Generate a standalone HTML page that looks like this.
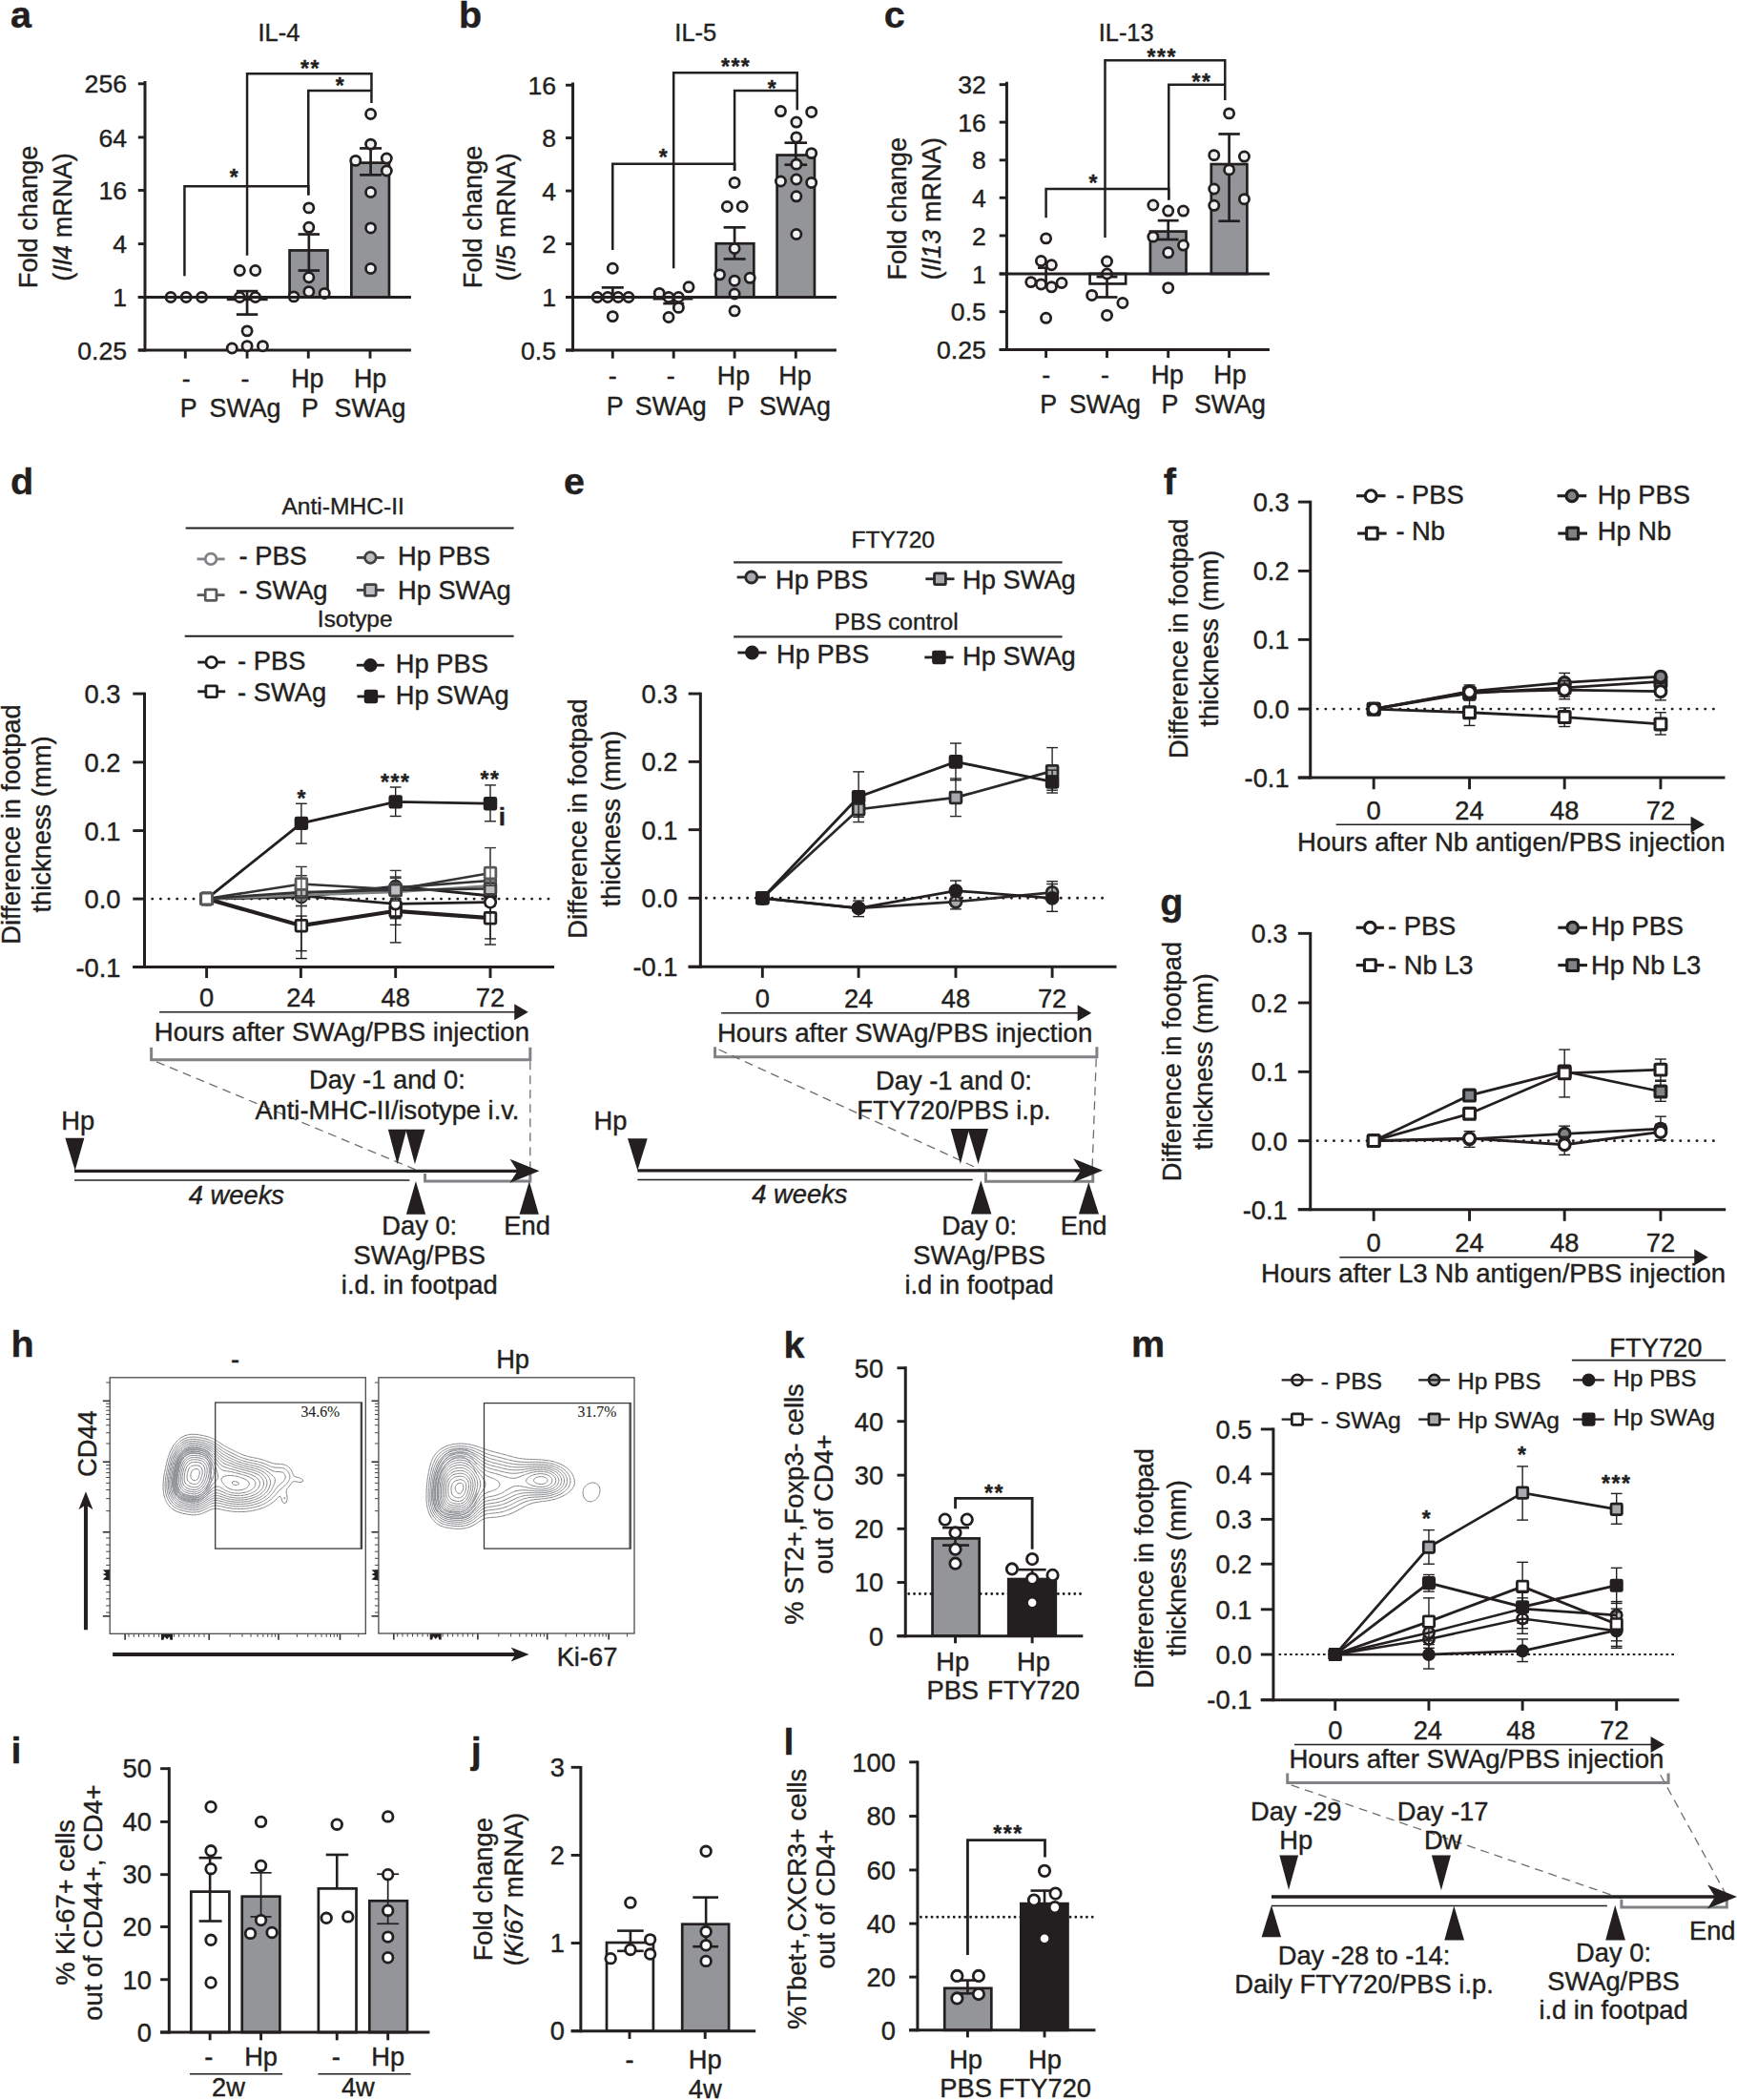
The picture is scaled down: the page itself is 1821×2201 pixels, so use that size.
<!DOCTYPE html>
<html><head><meta charset="utf-8"><title>Figure</title>
<style>
html,body{margin:0;padding:0;background:#fff}
svg{display:block}
text{font-family:"Liberation Sans",Arial,Helvetica,sans-serif;fill:#231f20;stroke:#231f20;stroke-width:.4px;stroke-linejoin:round}
</style></head><body>
<svg width="1821" height="2201" viewBox="0 0 1821 2201">
<rect x="0" y="0" width="1821" height="2201" fill="#fff"/>
<text x="10.94" y="28.79" font-size="39.5" font-weight="bold">a</text>
<text x="292.46" y="43.18" font-size="25.4" text-anchor="middle">IL-4</text>
<rect x="239.12" y="311.46" width="40.19" height="2.39" stroke="#231f20" stroke-width="2.7" fill="#fff" />
<rect x="303.6" y="262.43" width="39.9" height="49.03" stroke="#231f20" stroke-width="2.7" fill="#939598" />
<rect x="368.36" y="170.61" width="39.62" height="140.85" stroke="#231f20" stroke-width="2.7" fill="#939598" />
<line x1="151.99" y1="84.96" x2="151.99" y2="368.51" stroke="#231f20" stroke-width="3" />
<line x1="144.79" y1="87.8" x2="151.99" y2="87.8" stroke="#231f20" stroke-width="2.9" />
<text x="132.99" y="97.4" font-size="26.6" text-anchor="end">256</text>
<line x1="144.79" y1="143.93" x2="151.99" y2="143.93" stroke="#231f20" stroke-width="2.9" />
<text x="132.99" y="153.53" font-size="26.6" text-anchor="end">64</text>
<line x1="144.79" y1="199.48" x2="151.99" y2="199.48" stroke="#231f20" stroke-width="2.9" />
<text x="132.99" y="209.08" font-size="26.6" text-anchor="end">16</text>
<line x1="144.79" y1="255.61" x2="151.99" y2="255.61" stroke="#231f20" stroke-width="2.9" />
<text x="132.99" y="265.21" font-size="26.6" text-anchor="end">4</text>
<line x1="144.79" y1="311.46" x2="151.99" y2="311.46" stroke="#231f20" stroke-width="2.9" />
<text x="132.99" y="321.06" font-size="26.6" text-anchor="end">1</text>
<line x1="144.79" y1="367.01" x2="151.99" y2="367.01" stroke="#231f20" stroke-width="2.9" />
<text x="132.99" y="376.61" font-size="26.6" text-anchor="end">0.25</text>
<line x1="144.79" y1="367.01" x2="430.92" y2="367.01" stroke="#231f20" stroke-width="3" />
<line x1="194.3" y1="367.01" x2="194.3" y2="375.65" stroke="#231f20" stroke-width="2.9" />
<line x1="259.07" y1="367.01" x2="259.07" y2="375.65" stroke="#231f20" stroke-width="2.9" />
<line x1="323.26" y1="367.01" x2="323.26" y2="375.65" stroke="#231f20" stroke-width="2.9" />
<line x1="388.03" y1="367.01" x2="388.03" y2="375.65" stroke="#231f20" stroke-width="2.9" />
<line x1="259.07" y1="305.12" x2="259.07" y2="329.59" stroke="#231f20" stroke-width="2.7" />
<line x1="247.84" y1="305.12" x2="270.3" y2="305.12" stroke="#231f20" stroke-width="2.7" />
<line x1="247.84" y1="329.59" x2="270.3" y2="329.59" stroke="#231f20" stroke-width="2.7" />
<line x1="323.83" y1="245.54" x2="323.83" y2="283.53" stroke="#231f20" stroke-width="2.7" />
<line x1="312.6" y1="245.54" x2="335.06" y2="245.54" stroke="#231f20" stroke-width="2.7" />
<line x1="312.6" y1="283.53" x2="335.06" y2="283.53" stroke="#231f20" stroke-width="2.7" />
<line x1="388.6" y1="155.44" x2="388.6" y2="183.36" stroke="#231f20" stroke-width="2.7" />
<line x1="377.09" y1="155.44" x2="400.11" y2="155.44" stroke="#231f20" stroke-width="2.7" />
<line x1="377.09" y1="183.36" x2="400.11" y2="183.36" stroke="#231f20" stroke-width="2.7" />
<circle cx="179.04" cy="311.46" r="5.1" stroke="#231f20" stroke-width="2.75" fill="#f1f1f2"/>
<circle cx="195.16" cy="311.46" r="5.1" stroke="#231f20" stroke-width="2.75" fill="#f1f1f2"/>
<circle cx="211.57" cy="311.46" r="5.1" stroke="#231f20" stroke-width="2.75" fill="#f1f1f2"/>
<circle cx="251.3" cy="283.53" r="5.1" stroke="#231f20" stroke-width="2.75" fill="#f1f1f2"/>
<circle cx="267.7" cy="283.53" r="5.1" stroke="#231f20" stroke-width="2.75" fill="#f1f1f2"/>
<circle cx="251.3" cy="311.46" r="5.1" stroke="#231f20" stroke-width="2.75" fill="#f1f1f2"/>
<circle cx="267.7" cy="311.46" r="5.1" stroke="#231f20" stroke-width="2.75" fill="#f1f1f2"/>
<circle cx="259.07" cy="346.86" r="5.1" stroke="#231f20" stroke-width="2.75" fill="#f1f1f2"/>
<circle cx="243.24" cy="365" r="5.1" stroke="#231f20" stroke-width="2.75" fill="#f1f1f2"/>
<circle cx="259.07" cy="362.69" r="5.1" stroke="#231f20" stroke-width="2.75" fill="#f1f1f2"/>
<circle cx="275.47" cy="362.69" r="5.1" stroke="#231f20" stroke-width="2.75" fill="#f1f1f2"/>
<circle cx="323.83" cy="217.9" r="5.1" stroke="#231f20" stroke-width="2.75" fill="#f1f1f2"/>
<circle cx="323.83" cy="238.34" r="5.1" stroke="#231f20" stroke-width="2.75" fill="#f1f1f2"/>
<circle cx="323.83" cy="290.73" r="5.1" stroke="#231f20" stroke-width="2.75" fill="#f1f1f2"/>
<circle cx="308" cy="310.88" r="5.1" stroke="#231f20" stroke-width="2.75" fill="#f1f1f2"/>
<circle cx="323.83" cy="305.7" r="5.1" stroke="#231f20" stroke-width="2.75" fill="#f1f1f2"/>
<circle cx="340.24" cy="307.43" r="5.1" stroke="#231f20" stroke-width="2.75" fill="#f1f1f2"/>
<circle cx="388.6" cy="119.46" r="5.1" stroke="#231f20" stroke-width="2.75" fill="#f1f1f2"/>
<circle cx="388.6" cy="151.12" r="5.1" stroke="#231f20" stroke-width="2.75" fill="#f1f1f2"/>
<circle cx="372.77" cy="168.39" r="5.1" stroke="#231f20" stroke-width="2.75" fill="#f1f1f2"/>
<circle cx="405.3" cy="166.09" r="5.1" stroke="#231f20" stroke-width="2.75" fill="#f1f1f2"/>
<circle cx="405.3" cy="179.04" r="5.1" stroke="#231f20" stroke-width="2.75" fill="#f1f1f2"/>
<circle cx="388.6" cy="201.5" r="5.1" stroke="#231f20" stroke-width="2.75" fill="#f1f1f2"/>
<circle cx="388.6" cy="238.92" r="5.1" stroke="#231f20" stroke-width="2.75" fill="#f1f1f2"/>
<circle cx="388.6" cy="281.52" r="5.1" stroke="#231f20" stroke-width="2.75" fill="#f1f1f2"/>
<line x1="144.79" y1="311.46" x2="430.92" y2="311.46" stroke="#231f20" stroke-width="3" />
<polyline points="193.44,289.29 193.44,195.16 323.26,195.16 323.26,204.38" stroke="#231f20" stroke-width="2.5" fill="none" />
<polyline points="259.07,267.7 259.07,77.14 389.46,77.14 389.46,107.94" stroke="#231f20" stroke-width="2.5" fill="none" />
<polyline points="323.26,204.38 323.26,94.99 389.46,94.99 389.46,94.99" stroke="#231f20" stroke-width="2.5" fill="none" />
<text x="245.95" y="193.59" font-size="23" text-anchor="middle" font-weight="bold" style="font-family:'Liberation Sans',Arial,sans-serif;letter-spacing:1.5px">*</text>
<text x="325.4" y="80.18" font-size="23" text-anchor="middle" font-weight="bold" style="font-family:'Liberation Sans',Arial,sans-serif;letter-spacing:1.5px">**</text>
<text x="357.06" y="98.03" font-size="23" text-anchor="middle" font-weight="bold" style="font-family:'Liberation Sans',Arial,sans-serif;letter-spacing:1.5px">*</text>
<text x="38.86" y="227.4" font-size="27.2" text-anchor="middle" transform="rotate(-90 38.86 227.4)">Fold change</text>
<text x="75.42" y="227.4" font-size="27.2" text-anchor="middle" transform="rotate(-90 75.42 227.4)">(<tspan font-style="italic">Il4</tspan> mRNA)</text>
<text x="195.16" y="405.87" font-size="26.8" text-anchor="middle">-</text>
<text x="257.05" y="405.87" font-size="26.8" text-anchor="middle">-</text>
<text x="322.39" y="405.87" font-size="26.8" text-anchor="middle">Hp</text>
<text x="388.03" y="405.87" font-size="26.8" text-anchor="middle">Hp</text>
<text x="197.66" y="436.96" font-size="26.8" text-anchor="middle">P</text>
<text x="257.05" y="436.96" font-size="26.8" text-anchor="middle">SWAg</text>
<text x="324.89" y="436.96" font-size="26.8" text-anchor="middle">P</text>
<text x="388.03" y="436.96" font-size="26.8" text-anchor="middle">SWAg</text>
<text x="481.09" y="28.79" font-size="39.5" font-weight="bold">b</text>
<text x="729.22" y="43.18" font-size="25.4" text-anchor="middle">IL-5</text>
<rect x="750.72" y="255.24" width="39.61" height="56.22" stroke="#231f20" stroke-width="2.7" fill="#939598" />
<rect x="814.62" y="162.55" width="39.33" height="148.91" stroke="#231f20" stroke-width="2.7" fill="#939598" />
<line x1="600.55" y1="86.4" x2="600.55" y2="368.51" stroke="#231f20" stroke-width="3" />
<line x1="593.06" y1="89.23" x2="600.55" y2="89.23" stroke="#231f20" stroke-width="2.9" />
<text x="582.99" y="98.83" font-size="26.6" text-anchor="end">16</text>
<line x1="593.06" y1="144.5" x2="600.55" y2="144.5" stroke="#231f20" stroke-width="2.9" />
<text x="582.99" y="154.1" font-size="26.6" text-anchor="end">8</text>
<line x1="593.06" y1="200.06" x2="600.55" y2="200.06" stroke="#231f20" stroke-width="2.9" />
<text x="582.99" y="209.66" font-size="26.6" text-anchor="end">4</text>
<line x1="593.06" y1="255.61" x2="600.55" y2="255.61" stroke="#231f20" stroke-width="2.9" />
<text x="582.99" y="265.21" font-size="26.6" text-anchor="end">2</text>
<line x1="593.06" y1="311.46" x2="600.55" y2="311.46" stroke="#231f20" stroke-width="2.9" />
<text x="582.99" y="321.06" font-size="26.6" text-anchor="end">1</text>
<line x1="593.06" y1="367.01" x2="600.55" y2="367.01" stroke="#231f20" stroke-width="2.9" />
<text x="582.99" y="376.61" font-size="26.6" text-anchor="end">0.5</text>
<line x1="593.06" y1="367.01" x2="876.89" y2="367.01" stroke="#231f20" stroke-width="3" />
<line x1="642.29" y1="367.01" x2="642.29" y2="375.65" stroke="#231f20" stroke-width="2.9" />
<line x1="706.19" y1="367.01" x2="706.19" y2="375.65" stroke="#231f20" stroke-width="2.9" />
<line x1="770.09" y1="367.01" x2="770.09" y2="375.65" stroke="#231f20" stroke-width="2.9" />
<line x1="834.28" y1="367.01" x2="834.28" y2="375.65" stroke="#231f20" stroke-width="2.9" />
<line x1="642.29" y1="301.38" x2="642.29" y2="311.46" stroke="#231f20" stroke-width="2.7" />
<line x1="630.78" y1="301.38" x2="653.8" y2="301.38" stroke="#231f20" stroke-width="2.7" />
<line x1="630.78" y1="311.46" x2="653.8" y2="311.46" stroke="#231f20" stroke-width="2.7" />
<line x1="706.19" y1="312.32" x2="706.19" y2="318.08" stroke="#231f20" stroke-width="2.7" />
<line x1="695.25" y1="312.32" x2="717.13" y2="312.32" stroke="#231f20" stroke-width="2.7" />
<line x1="695.25" y1="318.08" x2="717.13" y2="318.08" stroke="#231f20" stroke-width="2.7" />
<line x1="770.09" y1="238.34" x2="770.09" y2="271.45" stroke="#231f20" stroke-width="2.7" />
<line x1="758.58" y1="238.34" x2="781.6" y2="238.34" stroke="#231f20" stroke-width="2.7" />
<line x1="758.58" y1="271.45" x2="781.6" y2="271.45" stroke="#231f20" stroke-width="2.7" />
<line x1="834.28" y1="149.68" x2="834.28" y2="172.71" stroke="#231f20" stroke-width="2.7" />
<line x1="822.48" y1="149.68" x2="846.08" y2="149.68" stroke="#231f20" stroke-width="2.7" />
<line x1="822.48" y1="172.71" x2="846.08" y2="172.71" stroke="#231f20" stroke-width="2.7" />
<line x1="684.6" y1="313.18" x2="726.34" y2="313.18" stroke="#231f20" stroke-width="2.7" />
<circle cx="626.17" cy="311.46" r="5.1" stroke="#231f20" stroke-width="2.75" fill="#f1f1f2"/>
<circle cx="637.1" cy="311.46" r="5.1" stroke="#231f20" stroke-width="2.75" fill="#f1f1f2"/>
<circle cx="648.04" cy="311.46" r="5.1" stroke="#231f20" stroke-width="2.75" fill="#f1f1f2"/>
<circle cx="658.98" cy="311.46" r="5.1" stroke="#231f20" stroke-width="2.75" fill="#f1f1f2"/>
<circle cx="642.29" cy="281.23" r="5.1" stroke="#231f20" stroke-width="2.75" fill="#f1f1f2"/>
<circle cx="642.29" cy="331.61" r="5.1" stroke="#231f20" stroke-width="2.75" fill="#f1f1f2"/>
<circle cx="691.22" cy="307.43" r="5.1" stroke="#231f20" stroke-width="2.75" fill="#f1f1f2"/>
<circle cx="701.01" cy="311.46" r="5.1" stroke="#231f20" stroke-width="2.75" fill="#f1f1f2"/>
<circle cx="711.37" cy="311.46" r="5.1" stroke="#231f20" stroke-width="2.75" fill="#f1f1f2"/>
<circle cx="722.02" cy="300.81" r="5.1" stroke="#231f20" stroke-width="2.75" fill="#f1f1f2"/>
<circle cx="711.37" cy="322.39" r="5.1" stroke="#231f20" stroke-width="2.75" fill="#f1f1f2"/>
<circle cx="701.01" cy="332.47" r="5.1" stroke="#231f20" stroke-width="2.75" fill="#f1f1f2"/>
<circle cx="770.09" cy="191.42" r="5.1" stroke="#231f20" stroke-width="2.75" fill="#f1f1f2"/>
<circle cx="762.32" cy="216.47" r="5.1" stroke="#231f20" stroke-width="2.75" fill="#f1f1f2"/>
<circle cx="778.15" cy="216.47" r="5.1" stroke="#231f20" stroke-width="2.75" fill="#f1f1f2"/>
<circle cx="770.09" cy="260.51" r="5.1" stroke="#231f20" stroke-width="2.75" fill="#f1f1f2"/>
<circle cx="754.55" cy="287.85" r="5.1" stroke="#231f20" stroke-width="2.75" fill="#f1f1f2"/>
<circle cx="786.21" cy="291.31" r="5.1" stroke="#231f20" stroke-width="2.75" fill="#f1f1f2"/>
<circle cx="770.09" cy="294.19" r="5.1" stroke="#231f20" stroke-width="2.75" fill="#f1f1f2"/>
<circle cx="770.09" cy="308" r="5.1" stroke="#231f20" stroke-width="2.75" fill="#f1f1f2"/>
<circle cx="770.09" cy="325.85" r="5.1" stroke="#231f20" stroke-width="2.75" fill="#f1f1f2"/>
<circle cx="818.45" cy="116.58" r="5.1" stroke="#231f20" stroke-width="2.75" fill="#f1f1f2"/>
<circle cx="850.69" cy="117.44" r="5.1" stroke="#231f20" stroke-width="2.75" fill="#f1f1f2"/>
<circle cx="834.86" cy="128.09" r="5.1" stroke="#231f20" stroke-width="2.75" fill="#f1f1f2"/>
<circle cx="834.86" cy="143.93" r="5.1" stroke="#231f20" stroke-width="2.75" fill="#f1f1f2"/>
<circle cx="850.69" cy="160.62" r="5.1" stroke="#231f20" stroke-width="2.75" fill="#f1f1f2"/>
<circle cx="834.86" cy="172.14" r="5.1" stroke="#231f20" stroke-width="2.75" fill="#f1f1f2"/>
<circle cx="818.45" cy="189.98" r="5.1" stroke="#231f20" stroke-width="2.75" fill="#f1f1f2"/>
<circle cx="834.86" cy="187.97" r="5.1" stroke="#231f20" stroke-width="2.75" fill="#f1f1f2"/>
<circle cx="850.69" cy="191.42" r="5.1" stroke="#231f20" stroke-width="2.75" fill="#f1f1f2"/>
<circle cx="834.86" cy="205.81" r="5.1" stroke="#231f20" stroke-width="2.75" fill="#f1f1f2"/>
<circle cx="834.86" cy="245.54" r="5.1" stroke="#231f20" stroke-width="2.75" fill="#f1f1f2"/>
<line x1="593.06" y1="311.46" x2="876.89" y2="311.46" stroke="#231f20" stroke-width="3" />
<polyline points="642.29,261.95 642.29,171.85 770.09,171.85 770.09,179.04" stroke="#231f20" stroke-width="2.5" fill="none" />
<polyline points="706.19,281.23 706.19,76.28 835.72,76.28 835.72,115.14" stroke="#231f20" stroke-width="2.5" fill="none" />
<polyline points="770.09,179.04 770.09,94.99 835.72,94.99 835.72,94.99" stroke="#231f20" stroke-width="2.5" fill="none" />
<text x="695.95" y="172.87" font-size="23" text-anchor="middle" font-weight="bold" style="font-family:'Liberation Sans',Arial,sans-serif;letter-spacing:1.5px">*</text>
<text x="771.66" y="77.88" font-size="23" text-anchor="middle" font-weight="bold" style="font-family:'Liberation Sans',Arial,sans-serif;letter-spacing:1.5px">***</text>
<text x="809.94" y="100.9" font-size="23" text-anchor="middle" font-weight="bold" style="font-family:'Liberation Sans',Arial,sans-serif;letter-spacing:1.5px">*</text>
<text x="504.69" y="227.4" font-size="27.2" text-anchor="middle" transform="rotate(-90 504.69 227.4)">Fold change</text>
<text x="539.81" y="227.4" font-size="27.2" text-anchor="middle" transform="rotate(-90 539.81 227.4)">(<tspan font-style="italic">Il5</tspan> mRNA)</text>
<text x="642.29" y="402.99" font-size="26.8" text-anchor="middle">-</text>
<text x="703.31" y="402.99" font-size="26.8" text-anchor="middle">-</text>
<text x="768.94" y="402.99" font-size="26.8" text-anchor="middle">Hp</text>
<text x="833.42" y="402.99" font-size="26.8" text-anchor="middle">Hp</text>
<text x="644.79" y="434.66" font-size="26.8" text-anchor="middle">P</text>
<text x="703.31" y="434.66" font-size="26.8" text-anchor="middle">SWAg</text>
<text x="771.44" y="434.66" font-size="26.8" text-anchor="middle">P</text>
<text x="833.42" y="434.66" font-size="26.8" text-anchor="middle">SWAg</text>
<text x="926.77" y="28.79" font-size="39.5" font-weight="bold">c</text>
<text x="1180.66" y="43.18" font-size="25.4" text-anchor="middle">IL-13</text>
<rect x="1142.57" y="286.99" width="37.6" height="10.45" stroke="#231f20" stroke-width="2.7" fill="#fff" />
<rect x="1205.9" y="242.57" width="37.6" height="44.42" stroke="#231f20" stroke-width="2.7" fill="#939598" />
<rect x="1269.8" y="172.05" width="37.6" height="114.94" stroke="#231f20" stroke-width="2.7" fill="#939598" />
<line x1="1055.44" y1="85.82" x2="1055.44" y2="367.94" stroke="#231f20" stroke-width="3" />
<line x1="1047.67" y1="88.66" x2="1055.44" y2="88.66" stroke="#231f20" stroke-width="2.9" />
<text x="1033.85" y="98.26" font-size="26.6" text-anchor="end">32</text>
<line x1="1047.67" y1="128.09" x2="1055.44" y2="128.09" stroke="#231f20" stroke-width="2.9" />
<text x="1033.85" y="137.69" font-size="26.6" text-anchor="end">16</text>
<line x1="1047.67" y1="167.82" x2="1055.44" y2="167.82" stroke="#231f20" stroke-width="2.9" />
<text x="1033.85" y="177.42" font-size="26.6" text-anchor="end">8</text>
<line x1="1047.67" y1="207.25" x2="1055.44" y2="207.25" stroke="#231f20" stroke-width="2.9" />
<text x="1033.85" y="216.85" font-size="26.6" text-anchor="end">4</text>
<line x1="1047.67" y1="246.98" x2="1055.44" y2="246.98" stroke="#231f20" stroke-width="2.9" />
<text x="1033.85" y="256.58" font-size="26.6" text-anchor="end">2</text>
<line x1="1047.67" y1="286.99" x2="1055.44" y2="286.99" stroke="#231f20" stroke-width="2.9" />
<text x="1033.85" y="296.59" font-size="26.6" text-anchor="end">1</text>
<line x1="1047.67" y1="326.71" x2="1055.44" y2="326.71" stroke="#231f20" stroke-width="2.9" />
<text x="1033.85" y="336.31" font-size="26.6" text-anchor="end">0.5</text>
<line x1="1047.67" y1="366.44" x2="1055.44" y2="366.44" stroke="#231f20" stroke-width="2.9" />
<text x="1033.85" y="376.04" font-size="26.6" text-anchor="end">0.25</text>
<line x1="1047.67" y1="366.44" x2="1330.92" y2="366.44" stroke="#231f20" stroke-width="3" />
<line x1="1096.6" y1="366.44" x2="1096.6" y2="375.07" stroke="#231f20" stroke-width="2.9" />
<line x1="1160.51" y1="366.44" x2="1160.51" y2="375.07" stroke="#231f20" stroke-width="2.9" />
<line x1="1224.7" y1="366.44" x2="1224.7" y2="375.07" stroke="#231f20" stroke-width="2.9" />
<line x1="1288.6" y1="366.44" x2="1288.6" y2="375.07" stroke="#231f20" stroke-width="2.9" />
<line x1="1096.6" y1="280.66" x2="1096.6" y2="299.37" stroke="#231f20" stroke-width="2.7" />
<line x1="1087.96" y1="280.66" x2="1105.24" y2="280.66" stroke="#231f20" stroke-width="2.7" />
<line x1="1087.96" y1="299.37" x2="1105.24" y2="299.37" stroke="#231f20" stroke-width="2.7" />
<line x1="1160.51" y1="290.16" x2="1160.51" y2="311.46" stroke="#231f20" stroke-width="2.7" />
<line x1="1149.57" y1="290.16" x2="1171.45" y2="290.16" stroke="#231f20" stroke-width="2.7" />
<line x1="1149.57" y1="311.46" x2="1171.45" y2="311.46" stroke="#231f20" stroke-width="2.7" />
<line x1="1224.7" y1="231.15" x2="1224.7" y2="251.01" stroke="#231f20" stroke-width="2.7" />
<line x1="1213.76" y1="231.15" x2="1235.64" y2="231.15" stroke="#231f20" stroke-width="2.7" />
<line x1="1213.76" y1="251.01" x2="1235.64" y2="251.01" stroke="#231f20" stroke-width="2.7" />
<line x1="1288.6" y1="140.47" x2="1288.6" y2="231.72" stroke="#231f20" stroke-width="2.7" />
<line x1="1277.37" y1="140.47" x2="1299.83" y2="140.47" stroke="#231f20" stroke-width="2.7" />
<line x1="1277.37" y1="231.72" x2="1299.83" y2="231.72" stroke="#231f20" stroke-width="2.7" />
<circle cx="1096.6" cy="249.86" r="5.1" stroke="#231f20" stroke-width="2.75" fill="#f1f1f2"/>
<circle cx="1091.42" cy="273.46" r="5.1" stroke="#231f20" stroke-width="2.75" fill="#f1f1f2"/>
<circle cx="1102.36" cy="277.78" r="5.1" stroke="#231f20" stroke-width="2.75" fill="#f1f1f2"/>
<circle cx="1080.77" cy="295.62" r="5.1" stroke="#231f20" stroke-width="2.75" fill="#f1f1f2"/>
<circle cx="1091.42" cy="297.93" r="5.1" stroke="#231f20" stroke-width="2.75" fill="#f1f1f2"/>
<circle cx="1102.36" cy="300.81" r="5.1" stroke="#231f20" stroke-width="2.75" fill="#f1f1f2"/>
<circle cx="1113.01" cy="296.49" r="5.1" stroke="#231f20" stroke-width="2.75" fill="#f1f1f2"/>
<circle cx="1096.6" cy="333.33" r="5.1" stroke="#231f20" stroke-width="2.75" fill="#f1f1f2"/>
<circle cx="1160.51" cy="274.04" r="5.1" stroke="#231f20" stroke-width="2.75" fill="#f1f1f2"/>
<circle cx="1160.51" cy="286.99" r="5.1" stroke="#231f20" stroke-width="2.75" fill="#f1f1f2"/>
<circle cx="1144.67" cy="309.44" r="5.1" stroke="#231f20" stroke-width="2.75" fill="#f1f1f2"/>
<circle cx="1176.91" cy="317.5" r="5.1" stroke="#231f20" stroke-width="2.75" fill="#f1f1f2"/>
<circle cx="1160.51" cy="330.45" r="5.1" stroke="#231f20" stroke-width="2.75" fill="#f1f1f2"/>
<circle cx="1208.87" cy="215.03" r="5.1" stroke="#231f20" stroke-width="2.75" fill="#f1f1f2"/>
<circle cx="1224.7" cy="221.07" r="5.1" stroke="#231f20" stroke-width="2.75" fill="#f1f1f2"/>
<circle cx="1240.53" cy="221.07" r="5.1" stroke="#231f20" stroke-width="2.75" fill="#f1f1f2"/>
<circle cx="1208.87" cy="248.13" r="5.1" stroke="#231f20" stroke-width="2.75" fill="#f1f1f2"/>
<circle cx="1240.53" cy="257.05" r="5.1" stroke="#231f20" stroke-width="2.75" fill="#f1f1f2"/>
<circle cx="1224.7" cy="264.82" r="5.1" stroke="#231f20" stroke-width="2.75" fill="#f1f1f2"/>
<circle cx="1224.7" cy="301.67" r="5.1" stroke="#231f20" stroke-width="2.75" fill="#f1f1f2"/>
<circle cx="1288.6" cy="118.88" r="5.1" stroke="#231f20" stroke-width="2.75" fill="#f1f1f2"/>
<circle cx="1272.77" cy="162.64" r="5.1" stroke="#231f20" stroke-width="2.75" fill="#f1f1f2"/>
<circle cx="1304.43" cy="164.08" r="5.1" stroke="#231f20" stroke-width="2.75" fill="#f1f1f2"/>
<circle cx="1288.6" cy="177.89" r="5.1" stroke="#231f20" stroke-width="2.75" fill="#f1f1f2"/>
<circle cx="1272.77" cy="198.04" r="5.1" stroke="#231f20" stroke-width="2.75" fill="#f1f1f2"/>
<circle cx="1304.43" cy="208.69" r="5.1" stroke="#231f20" stroke-width="2.75" fill="#f1f1f2"/>
<circle cx="1272.77" cy="215.31" r="5.1" stroke="#231f20" stroke-width="2.75" fill="#f1f1f2"/>
<line x1="1047.67" y1="286.99" x2="1330.92" y2="286.99" stroke="#231f20" stroke-width="3" />
<polyline points="1096.6,228.27 1096.6,198.04 1225.27,198.04 1225.27,209.56" stroke="#231f20" stroke-width="2.5" fill="none" />
<polyline points="1158.49,248.99 1158.49,63.33 1284.28,63.33 1284.28,105.07" stroke="#231f20" stroke-width="2.5" fill="none" />
<polyline points="1225.27,209.56 1225.27,88.66 1284.28,88.66 1284.28,88.66" stroke="#231f20" stroke-width="2.5" fill="none" />
<text x="1146.81" y="200.21" font-size="23" text-anchor="middle" font-weight="bold" style="font-family:'Liberation Sans',Arial,sans-serif;letter-spacing:1.5px">*</text>
<text x="1218.2" y="67.8" font-size="23" text-anchor="middle" font-weight="bold" style="font-family:'Liberation Sans',Arial,sans-serif;letter-spacing:1.5px">***</text>
<text x="1259.94" y="93.71" font-size="23" text-anchor="middle" font-weight="bold" style="font-family:'Liberation Sans',Arial,sans-serif;letter-spacing:1.5px">**</text>
<text x="950.37" y="218.77" font-size="27.2" text-anchor="middle" transform="rotate(-90 950.37 218.77)">Fold change</text>
<text x="986.36" y="218.77" font-size="27.2" text-anchor="middle" transform="rotate(-90 986.36 218.77)">(<tspan font-style="italic">Il13</tspan> mRNA)</text>
<text x="1096.6" y="402.42" font-size="26.8" text-anchor="middle">-</text>
<text x="1158.49" y="402.42" font-size="26.8" text-anchor="middle">-</text>
<text x="1223.83" y="402.42" font-size="26.8" text-anchor="middle">Hp</text>
<text x="1289.46" y="402.42" font-size="26.8" text-anchor="middle">Hp</text>
<text x="1099.1" y="433.22" font-size="26.8" text-anchor="middle">P</text>
<text x="1158.49" y="433.22" font-size="26.8" text-anchor="middle">SWAg</text>
<text x="1226.33" y="433.22" font-size="26.8" text-anchor="middle">P</text>
<text x="1289.46" y="433.22" font-size="26.8" text-anchor="middle">SWAg</text>
<text x="11.02" y="518.42" font-size="39.5" font-weight="bold">d</text>
<text x="359.62" y="539.45" font-size="24.6" text-anchor="middle">Anti-MHC-II</text>
<line x1="194.67" y1="553.48" x2="538.6" y2="553.48" stroke="#231f20" stroke-width="2" />
<line x1="206.59" y1="585.91" x2="235.59" y2="585.91" stroke="#808285" stroke-width="2.8" />
<circle cx="221.09" cy="585.91" r="5.8" stroke="#808285" stroke-width="2.75" fill="#fff"/>
<text x="250.52" y="592.12" font-size="27.3">- PBS</text>
<line x1="206.59" y1="623.63" x2="235.59" y2="623.63" stroke="#58595b" stroke-width="2.8" />
<rect x="215.24" y="617.78" width="11.7" height="11.7" rx="1" stroke="#58595b" stroke-width="2.75" fill="#fff"/>
<text x="250.52" y="628.39" font-size="27.3">- SWAg</text>
<line x1="373.84" y1="584.46" x2="402.84" y2="584.46" stroke="#414042" stroke-width="2.8" />
<circle cx="388.34" cy="584.46" r="5.8" stroke="#414042" stroke-width="2.75" fill="#bcbec0"/>
<text x="416.94" y="592.12" font-size="27.3">Hp PBS</text>
<line x1="373.84" y1="618.45" x2="402.84" y2="618.45" stroke="#414042" stroke-width="2.8" />
<rect x="382.49" y="612.6" width="11.7" height="11.7" rx="1" stroke="#414042" stroke-width="2.75" fill="#bcbec0"/>
<text x="416.94" y="628.39" font-size="27.3">Hp SWAg</text>
<text x="372.18" y="656.99" font-size="24.4" text-anchor="middle">Isotype</text>
<line x1="193.73" y1="666.74" x2="538.6" y2="666.74" stroke="#231f20" stroke-width="2" />
<line x1="207.21" y1="694.09" x2="236.21" y2="694.09" stroke="#231f20" stroke-width="2.8" />
<circle cx="221.71" cy="694.09" r="5.8" stroke="#231f20" stroke-width="2.75" fill="#fff"/>
<text x="249.07" y="701.97" font-size="27.3">- PBS</text>
<line x1="207.21" y1="724.77" x2="236.21" y2="724.77" stroke="#231f20" stroke-width="2.8" />
<rect x="215.86" y="718.92" width="11.7" height="11.7" rx="1" stroke="#231f20" stroke-width="2.75" fill="#fff"/>
<text x="249.07" y="735.13" font-size="27.3">- SWAg</text>
<line x1="373.84" y1="697.2" x2="402.84" y2="697.2" stroke="#231f20" stroke-width="2.8" />
<circle cx="388.34" cy="697.2" r="5.8" stroke="#231f20" stroke-width="2.75" fill="#231f20"/>
<text x="414.87" y="705.49" font-size="27.3">Hp PBS</text>
<line x1="374.46" y1="729.95" x2="403.46" y2="729.95" stroke="#231f20" stroke-width="2.8" />
<rect x="383.11" y="724.1" width="11.7" height="11.7" rx="1" stroke="#231f20" stroke-width="2.75" fill="#231f20"/>
<text x="414.87" y="738.24" font-size="27.3">Hp SWAg</text>
<text x="20.7" y="864.02" font-size="27.3" text-anchor="middle" transform="rotate(-90 20.7 864.02)">Difference in footpad</text>
<text x="53.43" y="864.02" font-size="27.3" text-anchor="middle" transform="rotate(-90 53.43 864.02)">thickness (mm)</text>
<line x1="151.5" y1="725.7" x2="151.5" y2="1015.1" stroke="#231f20" stroke-width="3" />
<line x1="139.3" y1="727.1" x2="151.5" y2="727.1" stroke="#231f20" stroke-width="2.9" />
<text x="126.5" y="737" font-size="27.3" text-anchor="end">0.3</text>
<line x1="139.3" y1="798.9" x2="151.5" y2="798.9" stroke="#231f20" stroke-width="2.9" />
<text x="126.5" y="808.8" font-size="27.3" text-anchor="end">0.2</text>
<line x1="139.3" y1="870.6" x2="151.5" y2="870.6" stroke="#231f20" stroke-width="2.9" />
<text x="126.5" y="880.5" font-size="27.3" text-anchor="end">0.1</text>
<line x1="139.3" y1="942.1" x2="151.5" y2="942.1" stroke="#231f20" stroke-width="2.9" />
<text x="126.5" y="952" font-size="27.3" text-anchor="end">0.0</text>
<line x1="139.3" y1="1013.6" x2="151.5" y2="1013.6" stroke="#231f20" stroke-width="2.9" />
<text x="126.5" y="1023.5" font-size="27.3" text-anchor="end">-0.1</text>
<line x1="139.3" y1="1013.6" x2="581" y2="1013.6" stroke="#231f20" stroke-width="3" />
<line x1="216.6" y1="1013.6" x2="216.6" y2="1025" stroke="#231f20" stroke-width="2.9" />
<text x="216.6" y="1055.42" font-size="27.3" text-anchor="middle">0</text>
<line x1="315.38" y1="1013.6" x2="315.38" y2="1025" stroke="#231f20" stroke-width="2.9" />
<text x="315.38" y="1055.42" font-size="27.3" text-anchor="middle">24</text>
<line x1="414.69" y1="1013.6" x2="414.69" y2="1025" stroke="#231f20" stroke-width="2.9" />
<text x="414.69" y="1055.42" font-size="27.3" text-anchor="middle">48</text>
<line x1="514" y1="1013.6" x2="514" y2="1025" stroke="#231f20" stroke-width="2.9" />
<text x="514" y="1055.42" font-size="27.3" text-anchor="middle">72</text>
<line x1="167.08" y1="1060.72" x2="540.23" y2="1060.72" stroke="#231f20" stroke-width="1.5" />
<polygon points="539.23,1052.22 553.73,1060.72 539.23,1069.22" stroke="none" stroke-width="0" fill="#231f20" />
<text x="161.78" y="1091.18" font-size="27.3" textLength="393.27" lengthAdjust="spacingAndGlyphs">Hours after SWAg/PBS injection</text>
<line x1="159.7" y1="942.1" x2="575" y2="942.1" stroke="#231f20" stroke-width="2.9" stroke-dasharray="0.1 8.55" stroke-linecap="round"/>
<line x1="315.91" y1="842.24" x2="315.91" y2="884.08" stroke="#231f20" stroke-width="1.4" />
<line x1="310.01" y1="842.24" x2="321.81" y2="842.24" stroke="#231f20" stroke-width="1.4" />
<line x1="310.01" y1="884.08" x2="321.81" y2="884.08" stroke="#231f20" stroke-width="1.4" />
<line x1="414.69" y1="825.02" x2="414.69" y2="855.48" stroke="#231f20" stroke-width="1.4" />
<line x1="408.79" y1="825.02" x2="420.59" y2="825.02" stroke="#231f20" stroke-width="1.4" />
<line x1="408.79" y1="855.48" x2="420.59" y2="855.48" stroke="#231f20" stroke-width="1.4" />
<line x1="514" y1="822.9" x2="514" y2="860.77" stroke="#231f20" stroke-width="1.4" />
<line x1="508.1" y1="822.9" x2="519.9" y2="822.9" stroke="#231f20" stroke-width="1.4" />
<line x1="508.1" y1="860.77" x2="519.9" y2="860.77" stroke="#231f20" stroke-width="1.4" />
<polyline points="216.6,942.08 315.91,862.89 414.69,840.38 514,842.24" stroke="#231f20" stroke-width="2.9" fill="none" />
<rect x="210.75" y="936.23" width="11.7" height="11.7" rx="1" stroke="#231f20" stroke-width="2.75" fill="#231f20"/>
<rect x="310.06" y="857.04" width="11.7" height="11.7" rx="1" stroke="#231f20" stroke-width="2.75" fill="#231f20"/>
<rect x="408.84" y="834.53" width="11.7" height="11.7" rx="1" stroke="#231f20" stroke-width="2.75" fill="#231f20"/>
<rect x="508.15" y="836.39" width="11.7" height="11.7" rx="1" stroke="#231f20" stroke-width="2.75" fill="#231f20"/>
<line x1="315.91" y1="960.08" x2="315.91" y2="1004.58" stroke="#231f20" stroke-width="1.4" />
<line x1="310.01" y1="960.08" x2="321.81" y2="960.08" stroke="#231f20" stroke-width="1.4" />
<line x1="310.01" y1="1004.58" x2="321.81" y2="1004.58" stroke="#231f20" stroke-width="1.4" />
<line x1="414.69" y1="962.73" x2="414.69" y2="987.89" stroke="#231f20" stroke-width="1.4" />
<line x1="408.79" y1="962.73" x2="420.59" y2="962.73" stroke="#231f20" stroke-width="1.4" />
<line x1="408.79" y1="987.89" x2="420.59" y2="987.89" stroke="#231f20" stroke-width="1.4" />
<line x1="514" y1="949.49" x2="514" y2="990.01" stroke="#231f20" stroke-width="1.4" />
<line x1="508.1" y1="949.49" x2="519.9" y2="949.49" stroke="#231f20" stroke-width="1.4" />
<line x1="508.1" y1="990.01" x2="519.9" y2="990.01" stroke="#231f20" stroke-width="1.4" />
<polyline points="216.6,942.08 315.91,970.15 414.69,954.79 514,962.2" stroke="#231f20" stroke-width="4.2" fill="none" />
<rect x="210.75" y="936.23" width="11.7" height="11.7" rx="1" stroke="#231f20" stroke-width="2.75" fill="#fff"/>
<rect x="310.06" y="964.3" width="11.7" height="11.7" rx="1" stroke="#231f20" stroke-width="2.75" fill="#fff"/>
<rect x="408.84" y="948.94" width="11.7" height="11.7" rx="1" stroke="#231f20" stroke-width="2.75" fill="#fff"/>
<rect x="508.15" y="956.35" width="11.7" height="11.7" rx="1" stroke="#231f20" stroke-width="2.75" fill="#fff"/>
<line x1="315.91" y1="949.49" x2="315.91" y2="996.63" stroke="#231f20" stroke-width="1.4" />
<line x1="310.01" y1="949.49" x2="321.81" y2="949.49" stroke="#231f20" stroke-width="1.4" />
<line x1="310.01" y1="996.63" x2="321.81" y2="996.63" stroke="#231f20" stroke-width="1.4" />
<line x1="414.69" y1="919.04" x2="414.69" y2="938.9" stroke="#231f20" stroke-width="1.4" />
<line x1="408.79" y1="919.04" x2="420.59" y2="919.04" stroke="#231f20" stroke-width="1.4" />
<line x1="408.79" y1="938.9" x2="420.59" y2="938.9" stroke="#231f20" stroke-width="1.4" />
<polyline points="216.6,942.08 315.91,940.22 414.69,928.83 514,938.9" stroke="#231f20" stroke-width="2.8" fill="none" />
<circle cx="216.6" cy="942.08" r="5.8" stroke="#231f20" stroke-width="2.75" fill="#231f20"/>
<circle cx="315.91" cy="940.22" r="5.8" stroke="#231f20" stroke-width="2.75" fill="#231f20"/>
<circle cx="414.69" cy="928.83" r="5.8" stroke="#231f20" stroke-width="2.75" fill="#231f20"/>
<circle cx="514" cy="938.9" r="5.8" stroke="#231f20" stroke-width="2.75" fill="#231f20"/>
<line x1="414.69" y1="938.9" x2="414.69" y2="969.35" stroke="#231f20" stroke-width="1.4" />
<line x1="408.79" y1="938.9" x2="420.59" y2="938.9" stroke="#231f20" stroke-width="1.4" />
<line x1="408.79" y1="969.35" x2="420.59" y2="969.35" stroke="#231f20" stroke-width="1.4" />
<line x1="514" y1="928.31" x2="514" y2="983.92" stroke="#231f20" stroke-width="1.4" />
<line x1="508.1" y1="928.31" x2="519.9" y2="928.31" stroke="#231f20" stroke-width="1.4" />
<line x1="508.1" y1="983.92" x2="519.9" y2="983.92" stroke="#231f20" stroke-width="1.4" />
<polyline points="216.6,942.08 315.91,938.9 414.69,947.37 514,945.52" stroke="#231f20" stroke-width="2.8" fill="none" />
<circle cx="216.6" cy="942.08" r="5.8" stroke="#231f20" stroke-width="2.75" fill="#fff"/>
<circle cx="315.91" cy="938.9" r="5.8" stroke="#231f20" stroke-width="2.75" fill="#fff"/>
<circle cx="414.69" cy="947.37" r="5.8" stroke="#231f20" stroke-width="2.75" fill="#fff"/>
<circle cx="514" cy="945.52" r="5.8" stroke="#231f20" stroke-width="2.75" fill="#fff"/>
<line x1="414.69" y1="912.42" x2="414.69" y2="944.19" stroke="#333" stroke-width="1.4" />
<line x1="408.79" y1="912.42" x2="420.59" y2="912.42" stroke="#333" stroke-width="1.4" />
<line x1="408.79" y1="944.19" x2="420.59" y2="944.19" stroke="#333" stroke-width="1.4" />
<polyline points="216.6,942.08 315.91,936.25 414.69,930.42 514,923.01" stroke="#333" stroke-width="2.6" fill="none" />
<circle cx="216.6" cy="942.08" r="5.8" stroke="#414042" stroke-width="2.75" fill="#bcbec0"/>
<circle cx="315.91" cy="936.25" r="5.8" stroke="#414042" stroke-width="2.75" fill="#bcbec0"/>
<circle cx="414.69" cy="930.42" r="5.8" stroke="#414042" stroke-width="2.75" fill="#bcbec0"/>
<circle cx="514" cy="923.01" r="5.8" stroke="#414042" stroke-width="2.75" fill="#bcbec0"/>
<polyline points="216.6,942.08 315.91,938.1 414.69,934.93 514,928.31" stroke="#808285" stroke-width="2.6" fill="none" />
<circle cx="216.6" cy="942.08" r="5.8" stroke="#808285" stroke-width="2.75" fill="#fff"/>
<circle cx="315.91" cy="938.1" r="5.8" stroke="#808285" stroke-width="2.75" fill="#fff"/>
<circle cx="414.69" cy="934.93" r="5.8" stroke="#808285" stroke-width="2.75" fill="#fff"/>
<circle cx="514" cy="928.31" r="5.8" stroke="#808285" stroke-width="2.75" fill="#fff"/>
<line x1="315.91" y1="917.71" x2="315.91" y2="949.49" stroke="#333" stroke-width="1.4" />
<line x1="310.01" y1="917.71" x2="321.81" y2="917.71" stroke="#333" stroke-width="1.4" />
<line x1="310.01" y1="949.49" x2="321.81" y2="949.49" stroke="#333" stroke-width="1.4" />
<polyline points="216.6,942.08 315.91,934.93 414.69,933.07 514,931.48" stroke="#333" stroke-width="2.6" fill="none" />
<rect x="210.75" y="936.23" width="11.7" height="11.7" rx="1" stroke="#414042" stroke-width="2.75" fill="#bcbec0"/>
<rect x="310.06" y="929.08" width="11.7" height="11.7" rx="1" stroke="#414042" stroke-width="2.75" fill="#bcbec0"/>
<rect x="408.84" y="927.22" width="11.7" height="11.7" rx="1" stroke="#414042" stroke-width="2.75" fill="#bcbec0"/>
<rect x="508.15" y="925.63" width="11.7" height="11.7" rx="1" stroke="#414042" stroke-width="2.75" fill="#bcbec0"/>
<line x1="315.91" y1="908.44" x2="315.91" y2="938.9" stroke="#333" stroke-width="1.4" />
<line x1="310.01" y1="908.44" x2="321.81" y2="908.44" stroke="#333" stroke-width="1.4" />
<line x1="310.01" y1="938.9" x2="321.81" y2="938.9" stroke="#333" stroke-width="1.4" />
<line x1="414.69" y1="920.36" x2="414.69" y2="942.08" stroke="#333" stroke-width="1.4" />
<line x1="408.79" y1="920.36" x2="420.59" y2="920.36" stroke="#333" stroke-width="1.4" />
<line x1="408.79" y1="942.08" x2="420.59" y2="942.08" stroke="#333" stroke-width="1.4" />
<line x1="514" y1="888.58" x2="514" y2="928.31" stroke="#333" stroke-width="1.4" />
<line x1="508.1" y1="888.58" x2="519.9" y2="888.58" stroke="#333" stroke-width="1.4" />
<line x1="508.1" y1="928.31" x2="519.9" y2="928.31" stroke="#333" stroke-width="1.4" />
<polyline points="216.6,942.08 315.91,926.45 414.69,932.28 514,915.06" stroke="#333" stroke-width="2.6" fill="none" />
<rect x="210.75" y="936.23" width="11.7" height="11.7" rx="1" stroke="#58595b" stroke-width="2.75" fill="#fff"/>
<rect x="310.06" y="920.6" width="11.7" height="11.7" rx="1" stroke="#58595b" stroke-width="2.75" fill="#fff"/>
<rect x="408.84" y="926.43" width="11.7" height="11.7" rx="1" stroke="#58595b" stroke-width="2.75" fill="#fff"/>
<rect x="508.15" y="909.21" width="11.7" height="11.7" rx="1" stroke="#58595b" stroke-width="2.75" fill="#fff"/>
<rect x="408.84" y="927.22" width="11.7" height="11.7" rx="1" stroke="#414042" stroke-width="2.75" fill="#bcbec0"/>
<line x1="315.91" y1="908.44" x2="315.91" y2="938.9" stroke="#58595b" stroke-width="1.4" />
<line x1="514" y1="888.58" x2="514" y2="928.31" stroke="#58595b" stroke-width="1.4" />
<text x="316.71" y="844.64" font-size="23" text-anchor="middle" font-weight="bold" style="font-family:'Liberation Sans',Arial,sans-serif;letter-spacing:1.5px">*</text>
<text x="414.69" y="828.22" font-size="23" text-anchor="middle" font-weight="bold" style="font-family:'Liberation Sans',Arial,sans-serif;letter-spacing:1.5px">***</text>
<text x="514" y="824.77" font-size="23" text-anchor="middle" font-weight="bold" style="font-family:'Liberation Sans',Arial,sans-serif;letter-spacing:1.5px">**</text>
<text x="526.45" y="864.75" font-size="26" text-anchor="middle" font-weight="bold">i</text>
<polyline points="158.64,1097.73 158.64,1110.63 555.83,1110.63 555.83,1097.73" stroke="#808285" stroke-width="3" fill="none" />
<line x1="164.12" y1="1112.88" x2="442.99" y2="1228.95" stroke="#6d6e71" stroke-width="1.3" stroke-dasharray="9 6"/>
<line x1="555.83" y1="1112.24" x2="555.83" y2="1234.75" stroke="#6d6e71" stroke-width="1.3" stroke-dasharray="9 6"/>
<text x="405.92" y="1141.25" font-size="27.3" text-anchor="middle">Day -1 and 0:</text>
<text x="405.92" y="1172.85" font-size="27.3" text-anchor="middle">Anti-MHC-II/isotype i.v.</text>
<text x="64.18" y="1183.81" font-size="27.3">Hp</text>
<polygon points="68.37,1192.84 88.36,1192.84 78.69,1226.69" stroke="none" stroke-width="0" fill="#231f20" />
<polygon points="406.88,1183.81 426.23,1183.81 416.56,1220.24" stroke="none" stroke-width="0" fill="#231f20" />
<polygon points="425.26,1183.81 445.57,1183.81 434.93,1220.24" stroke="none" stroke-width="0" fill="#231f20" />
<polyline points="445.57,1229.91 445.57,1237.97 555.83,1237.97 555.83,1229.91" stroke="#808285" stroke-width="3" fill="none" />
<line x1="78.04" y1="1227.33" x2="544.5" y2="1227.33" stroke="#231f20" stroke-width="3.3" />
<polygon points="565.5,1227.33 534.5,1214.83 542.5,1227.33 534.5,1239.83" stroke="none" stroke-width="0" fill="#231f20" />
<line x1="78.04" y1="1237.01" x2="429.45" y2="1237.01" stroke="#231f20" stroke-width="1.5" />
<text x="247.94" y="1262.15" font-size="27.3" text-anchor="middle" font-style="italic">4 weeks</text>
<polygon points="425.9,1272.79 446.22,1272.79 435.9,1237.97" stroke="none" stroke-width="0" fill="#231f20" />
<polygon points="544.55,1272.79 564.86,1272.79 554.86,1237.97" stroke="none" stroke-width="0" fill="#231f20" />
<text x="439.77" y="1294.39" font-size="27.3" text-anchor="middle">Day 0:</text>
<text x="439.77" y="1325.02" font-size="27.3" text-anchor="middle">SWAg/PBS</text>
<text x="439.77" y="1355.65" font-size="27.3" text-anchor="middle">i.d. in footpad</text>
<text x="552.61" y="1294.39" font-size="27.3" text-anchor="middle">End</text>
<text x="591.07" y="518.11" font-size="39.5" font-weight="bold">e</text>
<text x="936.29" y="573.6" font-size="24.6" text-anchor="middle">FTY720</text>
<line x1="769.12" y1="589.4" x2="1113.63" y2="589.4" stroke="#333" stroke-width="2.4" />
<line x1="772.63" y1="605" x2="802.83" y2="605" stroke="#2b2829" stroke-width="2.8" />
<circle cx="787.73" cy="605" r="6" stroke="#2b2829" stroke-width="2.8" fill="#a7a9ac"/>
<text x="813.02" y="616.54" font-size="27.3">Hp PBS</text>
<line x1="970.35" y1="606.76" x2="1000.55" y2="606.76" stroke="#2b2829" stroke-width="2.8" />
<rect x="979.55" y="600.86" width="11.8" height="11.8" rx="1" stroke="#2b2829" stroke-width="2.8" fill="#a7a9ac"/>
<text x="1008.98" y="616.54" font-size="27.3">Hp SWAg</text>
<text x="939.8" y="659.64" font-size="24.6" text-anchor="middle">PBS control</text>
<line x1="769.12" y1="667.37" x2="1113.63" y2="667.37" stroke="#333" stroke-width="2.4" />
<line x1="773.34" y1="684.02" x2="803.54" y2="684.02" stroke="#231f20" stroke-width="2.8" />
<circle cx="788.44" cy="684.02" r="6" stroke="#231f20" stroke-width="2.8" fill="#231f20"/>
<text x="814.07" y="694.7" font-size="27.3">Hp PBS</text>
<line x1="969.3" y1="688.94" x2="999.5" y2="688.94" stroke="#231f20" stroke-width="2.8" />
<rect x="978.5" y="683.04" width="11.8" height="11.8" rx="1" stroke="#231f20" stroke-width="2.8" fill="#231f20"/>
<text x="1008.98" y="697.31" font-size="27.3">Hp SWAg</text>
<text x="614.95" y="858.06" font-size="27.3" text-anchor="middle" transform="rotate(-90 614.95 858.06)">Difference in footpad</text>
<text x="650.07" y="858.06" font-size="27.3" text-anchor="middle" transform="rotate(-90 650.07 858.06)">thickness (mm)</text>
<line x1="734.35" y1="725.67" x2="734.35" y2="1014.78" stroke="#231f20" stroke-width="3" />
<line x1="721.71" y1="727.07" x2="734.35" y2="727.07" stroke="#231f20" stroke-width="2.9" />
<text x="710.47" y="736.97" font-size="27.3" text-anchor="end">0.3</text>
<line x1="721.71" y1="798.36" x2="734.35" y2="798.36" stroke="#231f20" stroke-width="2.9" />
<text x="710.47" y="808.26" font-size="27.3" text-anchor="end">0.2</text>
<line x1="721.71" y1="869.65" x2="734.35" y2="869.65" stroke="#231f20" stroke-width="2.9" />
<text x="710.47" y="879.55" font-size="27.3" text-anchor="end">0.1</text>
<line x1="721.71" y1="941.29" x2="734.35" y2="941.29" stroke="#231f20" stroke-width="2.9" />
<text x="710.47" y="951.19" font-size="27.3" text-anchor="end">0.0</text>
<line x1="721.71" y1="1013.28" x2="734.35" y2="1013.28" stroke="#231f20" stroke-width="2.9" />
<text x="710.47" y="1023.18" font-size="27.3" text-anchor="end">-0.1</text>
<line x1="721.71" y1="1013.28" x2="1170.53" y2="1013.28" stroke="#231f20" stroke-width="3" />
<line x1="799.32" y1="1013.28" x2="799.32" y2="1024.87" stroke="#231f20" stroke-width="2.9" />
<text x="799.32" y="1056.48" font-size="27.3" text-anchor="middle">0</text>
<line x1="900.11" y1="1013.28" x2="900.11" y2="1024.87" stroke="#231f20" stroke-width="2.9" />
<text x="900.11" y="1056.48" font-size="27.3" text-anchor="middle">24</text>
<line x1="1001.96" y1="1013.28" x2="1001.96" y2="1024.87" stroke="#231f20" stroke-width="2.9" />
<text x="1001.96" y="1056.48" font-size="27.3" text-anchor="middle">48</text>
<line x1="1103.1" y1="1013.28" x2="1103.1" y2="1024.87" stroke="#231f20" stroke-width="2.9" />
<text x="1103.1" y="1056.48" font-size="27.3" text-anchor="middle">72</text>
<line x1="756.13" y1="1061.75" x2="1130.69" y2="1061.75" stroke="#231f20" stroke-width="1.5" />
<polygon points="1129.69,1053.25 1144.19,1061.75 1129.69,1070.25" stroke="none" stroke-width="0" fill="#231f20" />
<text x="751.91" y="1092.3" font-size="27.3" textLength="393.33" lengthAdjust="spacingAndGlyphs">Hours after SWAg/PBS injection</text>
<line x1="740.32" y1="941.29" x2="1163.5" y2="941.29" stroke="#231f20" stroke-width="2.9" stroke-dasharray="0.1 8.55" stroke-linecap="round"/>
<line x1="1001.96" y1="938.83" x2="1001.96" y2="952.88" stroke="#2b2829" stroke-width="1.4" />
<line x1="996.06" y1="938.83" x2="1007.86" y2="938.83" stroke="#2b2829" stroke-width="1.4" />
<line x1="996.06" y1="952.88" x2="1007.86" y2="952.88" stroke="#2b2829" stroke-width="1.4" />
<line x1="1103.1" y1="923.73" x2="1103.1" y2="944.1" stroke="#2b2829" stroke-width="1.4" />
<line x1="1097.2" y1="923.73" x2="1109" y2="923.73" stroke="#2b2829" stroke-width="1.4" />
<line x1="1097.2" y1="944.1" x2="1109" y2="944.1" stroke="#2b2829" stroke-width="1.4" />
<polyline points="799.32,941.29 900.11,951.83 1001.96,945.15 1103.1,935.32" stroke="#2b2829" stroke-width="2.8" fill="none" />
<circle cx="799.32" cy="941.29" r="6" stroke="#2b2829" stroke-width="2.8" fill="#a7a9ac"/>
<circle cx="900.11" cy="951.83" r="6" stroke="#2b2829" stroke-width="2.8" fill="#a7a9ac"/>
<circle cx="1001.96" cy="945.15" r="6" stroke="#2b2829" stroke-width="2.8" fill="#a7a9ac"/>
<circle cx="1103.1" cy="935.32" r="6" stroke="#2b2829" stroke-width="2.8" fill="#a7a9ac"/>
<line x1="900.11" y1="944.1" x2="900.11" y2="960.61" stroke="#231f20" stroke-width="1.4" />
<line x1="894.21" y1="944.1" x2="906.01" y2="944.1" stroke="#231f20" stroke-width="1.4" />
<line x1="894.21" y1="960.61" x2="906.01" y2="960.61" stroke="#231f20" stroke-width="1.4" />
<line x1="1001.96" y1="923.03" x2="1001.96" y2="944.1" stroke="#231f20" stroke-width="1.4" />
<line x1="996.06" y1="923.03" x2="1007.86" y2="923.03" stroke="#231f20" stroke-width="1.4" />
<line x1="996.06" y1="944.1" x2="1007.86" y2="944.1" stroke="#231f20" stroke-width="1.4" />
<line x1="1103.1" y1="926.54" x2="1103.1" y2="955.34" stroke="#231f20" stroke-width="1.4" />
<line x1="1097.2" y1="926.54" x2="1109" y2="926.54" stroke="#231f20" stroke-width="1.4" />
<line x1="1097.2" y1="955.34" x2="1109" y2="955.34" stroke="#231f20" stroke-width="1.4" />
<polyline points="799.32,941.29 900.11,951.83 1001.96,933.56 1103.1,941.29" stroke="#231f20" stroke-width="2.8" fill="none" />
<circle cx="799.32" cy="941.29" r="6" stroke="#231f20" stroke-width="2.8" fill="#231f20"/>
<circle cx="900.11" cy="951.83" r="6" stroke="#231f20" stroke-width="2.8" fill="#231f20"/>
<circle cx="1001.96" cy="933.56" r="6" stroke="#231f20" stroke-width="2.8" fill="#231f20"/>
<circle cx="1103.1" cy="941.29" r="6" stroke="#231f20" stroke-width="2.8" fill="#231f20"/>
<line x1="900.11" y1="835.23" x2="900.11" y2="861.57" stroke="#2b2829" stroke-width="1.4" />
<line x1="894.21" y1="835.23" x2="906.01" y2="835.23" stroke="#2b2829" stroke-width="1.4" />
<line x1="894.21" y1="861.57" x2="906.01" y2="861.57" stroke="#2b2829" stroke-width="1.4" />
<line x1="1001.96" y1="815.92" x2="1001.96" y2="855.6" stroke="#2b2829" stroke-width="1.4" />
<line x1="996.06" y1="815.92" x2="1007.86" y2="815.92" stroke="#2b2829" stroke-width="1.4" />
<line x1="996.06" y1="855.6" x2="1007.86" y2="855.6" stroke="#2b2829" stroke-width="1.4" />
<line x1="1103.1" y1="783.61" x2="1103.1" y2="828.21" stroke="#2b2829" stroke-width="1.4" />
<line x1="1097.2" y1="783.61" x2="1109" y2="783.61" stroke="#2b2829" stroke-width="1.4" />
<line x1="1097.2" y1="828.21" x2="1109" y2="828.21" stroke="#2b2829" stroke-width="1.4" />
<polyline points="799.32,941.29 900.11,848.23 1001.96,835.94 1103.1,808.19" stroke="#2b2829" stroke-width="2.8" fill="none" />
<rect x="793.42" y="935.39" width="11.8" height="11.8" rx="1" stroke="#2b2829" stroke-width="2.8" fill="#a7a9ac"/>
<rect x="894.21" y="842.33" width="11.8" height="11.8" rx="1" stroke="#2b2829" stroke-width="2.8" fill="#a7a9ac"/>
<rect x="996.06" y="830.04" width="11.8" height="11.8" rx="1" stroke="#2b2829" stroke-width="2.8" fill="#a7a9ac"/>
<rect x="1097.2" y="802.29" width="11.8" height="11.8" rx="1" stroke="#2b2829" stroke-width="2.8" fill="#a7a9ac"/>
<line x1="900.11" y1="808.89" x2="900.11" y2="856.3" stroke="#231f20" stroke-width="1.4" />
<line x1="894.21" y1="808.89" x2="906.01" y2="808.89" stroke="#231f20" stroke-width="1.4" />
<line x1="894.21" y1="856.3" x2="906.01" y2="856.3" stroke="#231f20" stroke-width="1.4" />
<line x1="1001.96" y1="779.04" x2="1001.96" y2="817.67" stroke="#231f20" stroke-width="1.4" />
<line x1="996.06" y1="779.04" x2="1007.86" y2="779.04" stroke="#231f20" stroke-width="1.4" />
<line x1="996.06" y1="817.67" x2="1007.86" y2="817.67" stroke="#231f20" stroke-width="1.4" />
<line x1="1103.1" y1="807.14" x2="1103.1" y2="831.02" stroke="#231f20" stroke-width="1.4" />
<line x1="1097.2" y1="807.14" x2="1109" y2="807.14" stroke="#231f20" stroke-width="1.4" />
<line x1="1097.2" y1="831.02" x2="1109" y2="831.02" stroke="#231f20" stroke-width="1.4" />
<polyline points="799.32,941.29 900.11,835.23 1001.96,798.36 1103.1,819.43" stroke="#231f20" stroke-width="2.8" fill="none" />
<rect x="793.42" y="935.39" width="11.8" height="11.8" rx="1" stroke="#231f20" stroke-width="2.8" fill="#231f20"/>
<rect x="894.21" y="829.33" width="11.8" height="11.8" rx="1" stroke="#231f20" stroke-width="2.8" fill="#231f20"/>
<rect x="996.06" y="792.46" width="11.8" height="11.8" rx="1" stroke="#231f20" stroke-width="2.8" fill="#231f20"/>
<rect x="1097.2" y="813.53" width="11.8" height="11.8" rx="1" stroke="#231f20" stroke-width="2.8" fill="#231f20"/>
<polyline points="749.57,1097.27 749.57,1107.63 1149.91,1107.63 1149.91,1097.27" stroke="#808285" stroke-width="3" fill="none" />
<line x1="753.71" y1="1100.03" x2="1033.51" y2="1228.53" stroke="#6d6e71" stroke-width="1.3" stroke-dasharray="9 6"/>
<line x1="1149.22" y1="1109.36" x2="1145.08" y2="1225.08" stroke="#6d6e71" stroke-width="1.3" stroke-dasharray="9 6"/>
<text x="1000" y="1142.18" font-size="27.3" text-anchor="middle">Day -1 and 0:</text>
<text x="1000" y="1172.57" font-size="27.3" text-anchor="middle">FTY720/PBS i.p.</text>
<text x="622.45" y="1183.63" font-size="27.3">Hp</text>
<polygon points="658.03,1193.3 678.76,1193.3 668.39,1226.8" stroke="none" stroke-width="0" fill="#231f20" />
<polygon points="996.55,1182.94 1016.23,1182.94 1006.91,1219.9" stroke="none" stroke-width="0" fill="#231f20" />
<polygon points="1014.51,1182.94 1035.92,1182.94 1025.56,1219.9" stroke="none" stroke-width="0" fill="#231f20" />
<polyline points="1033.51,1229.22 1033.51,1238.2 1145.77,1238.2 1145.77,1229.22" stroke="#808285" stroke-width="3" fill="none" />
<line x1="668.39" y1="1226.8" x2="1135.13" y2="1226.8" stroke="#231f20" stroke-width="3.3" />
<polygon points="1156.13,1226.8 1125.13,1214.3 1133.13,1226.8 1125.13,1239.3" stroke="none" stroke-width="0" fill="#231f20" />
<line x1="668.39" y1="1236.48" x2="1019.69" y2="1236.48" stroke="#231f20" stroke-width="1.5" />
<text x="838.34" y="1261.35" font-size="27.3" text-anchor="middle" font-style="italic">4 weeks</text>
<polygon points="1017.96,1272.4 1039.38,1272.4 1028.32,1237.17" stroke="none" stroke-width="0" fill="#231f20" />
<polygon points="1130.92,1272.4 1151.99,1272.4 1141.28,1238.89" stroke="none" stroke-width="0" fill="#231f20" />
<text x="1026.6" y="1294.16" font-size="27.3" text-anchor="middle">Day 0:</text>
<text x="1026.6" y="1324.56" font-size="27.3" text-anchor="middle">SWAg/PBS</text>
<text x="1026.6" y="1355.65" font-size="27.3" text-anchor="middle">i.d in footpad</text>
<text x="1136.1" y="1294.16" font-size="27.3" text-anchor="middle">End</text>
<text x="1219.86" y="517.97" font-size="39.5" font-weight="bold">f</text>
<text x="1244.58" y="669.28" font-size="27.3" text-anchor="middle" transform="rotate(-90 1244.58 669.28)">Difference in footpad</text>
<text x="1276.69" y="669.28" font-size="27.3" text-anchor="middle" transform="rotate(-90 1276.69 669.28)">thickness (mm)</text>
<line x1="1373.74" y1="524.69" x2="1373.74" y2="816.54" stroke="#231f20" stroke-width="3" />
<line x1="1360.83" y1="526.09" x2="1373.74" y2="526.09" stroke="#231f20" stroke-width="2.9" />
<text x="1351.6" y="535.99" font-size="27.3" text-anchor="end">0.3</text>
<line x1="1360.83" y1="598.42" x2="1373.74" y2="598.42" stroke="#231f20" stroke-width="2.9" />
<text x="1351.6" y="608.32" font-size="27.3" text-anchor="end">0.2</text>
<line x1="1360.83" y1="670.38" x2="1373.74" y2="670.38" stroke="#231f20" stroke-width="2.9" />
<text x="1351.6" y="680.28" font-size="27.3" text-anchor="end">0.1</text>
<line x1="1360.83" y1="743.08" x2="1373.74" y2="743.08" stroke="#231f20" stroke-width="2.9" />
<text x="1351.6" y="752.98" font-size="27.3" text-anchor="end">0.0</text>
<line x1="1360.83" y1="815.04" x2="1373.74" y2="815.04" stroke="#231f20" stroke-width="2.9" />
<text x="1351.6" y="824.94" font-size="27.3" text-anchor="end">-0.1</text>
<line x1="1360.83" y1="815.04" x2="1808.46" y2="815.04" stroke="#231f20" stroke-width="3" />
<line x1="1440.17" y1="815.04" x2="1440.17" y2="827.22" stroke="#231f20" stroke-width="2.9" />
<text x="1440.17" y="859.33" font-size="27.3" text-anchor="middle">0</text>
<line x1="1540.54" y1="815.04" x2="1540.54" y2="827.22" stroke="#231f20" stroke-width="2.9" />
<text x="1540.54" y="859.33" font-size="27.3" text-anchor="middle">24</text>
<line x1="1640.18" y1="815.04" x2="1640.18" y2="827.22" stroke="#231f20" stroke-width="2.9" />
<text x="1640.18" y="859.33" font-size="27.3" text-anchor="middle">48</text>
<line x1="1740.93" y1="815.04" x2="1740.93" y2="827.22" stroke="#231f20" stroke-width="2.9" />
<text x="1740.93" y="859.33" font-size="27.3" text-anchor="middle">72</text>
<line x1="1400.68" y1="864.13" x2="1773.56" y2="864.13" stroke="#231f20" stroke-width="1.5" />
<polygon points="1772.56,855.63 1787.06,864.13 1772.56,872.63" stroke="none" stroke-width="0" fill="#231f20" />
<text x="1360.09" y="891.8" font-size="27.3" textLength="448.37" lengthAdjust="spacingAndGlyphs">Hours after Nb antigen/PBS injection</text>
<line x1="1381.12" y1="743.08" x2="1803.66" y2="743.08" stroke="#231f20" stroke-width="2.9" stroke-dasharray="0.1 8.55" stroke-linecap="round"/>
<line x1="1421.91" y1="519.71" x2="1452.51" y2="519.71" stroke="#231f20" stroke-width="3.1" />
<circle cx="1437.21" cy="519.71" r="5.9" stroke="#231f20" stroke-width="3.1" fill="#fff"/>
<text x="1463.42" y="527.7" font-size="27.3">- PBS</text>
<line x1="1423.02" y1="559.07" x2="1453.62" y2="559.07" stroke="#231f20" stroke-width="3.1" />
<rect x="1432.42" y="553.17" width="11.8" height="11.8" rx="1" stroke="#231f20" stroke-width="3.1" fill="#fff"/>
<text x="1463.42" y="566.45" font-size="27.3">- Nb</text>
<line x1="1632.63" y1="519.71" x2="1663.23" y2="519.71" stroke="#231f20" stroke-width="3.1" />
<circle cx="1647.93" cy="519.71" r="5.9" stroke="#231f20" stroke-width="3.1" fill="#808285"/>
<text x="1674.87" y="527.7" font-size="27.3">Hp PBS</text>
<line x1="1633.37" y1="559.07" x2="1663.97" y2="559.07" stroke="#231f20" stroke-width="3.1" />
<rect x="1642.77" y="553.17" width="11.8" height="11.8" rx="1" stroke="#231f20" stroke-width="3.1" fill="#808285"/>
<text x="1674.87" y="566.45" font-size="27.3">Hp Nb</text>
<line x1="1540.54" y1="733.86" x2="1540.54" y2="760.43" stroke="#231f20" stroke-width="1.4" />
<line x1="1534.64" y1="733.86" x2="1546.44" y2="733.86" stroke="#231f20" stroke-width="1.4" />
<line x1="1534.64" y1="760.43" x2="1546.44" y2="760.43" stroke="#231f20" stroke-width="1.4" />
<line x1="1640.18" y1="741.98" x2="1640.18" y2="761.53" stroke="#231f20" stroke-width="1.4" />
<line x1="1634.28" y1="741.98" x2="1646.08" y2="741.98" stroke="#231f20" stroke-width="1.4" />
<line x1="1634.28" y1="761.53" x2="1646.08" y2="761.53" stroke="#231f20" stroke-width="1.4" />
<line x1="1740.93" y1="746.77" x2="1740.93" y2="770.02" stroke="#231f20" stroke-width="1.4" />
<line x1="1735.03" y1="746.77" x2="1746.83" y2="746.77" stroke="#231f20" stroke-width="1.4" />
<line x1="1735.03" y1="770.02" x2="1746.83" y2="770.02" stroke="#231f20" stroke-width="1.4" />
<polyline points="1440.17,743.08 1540.54,746.77 1640.18,751.57 1740.93,758.95" stroke="#231f20" stroke-width="2.8" fill="none" />
<rect x="1434.27" y="737.18" width="11.8" height="11.8" rx="1" stroke="#231f20" stroke-width="3.1" fill="#fff"/>
<rect x="1534.64" y="740.87" width="11.8" height="11.8" rx="1" stroke="#231f20" stroke-width="3.1" fill="#fff"/>
<rect x="1634.28" y="745.67" width="11.8" height="11.8" rx="1" stroke="#231f20" stroke-width="3.1" fill="#fff"/>
<rect x="1735.03" y="753.05" width="11.8" height="11.8" rx="1" stroke="#231f20" stroke-width="3.1" fill="#fff"/>
<line x1="1540.54" y1="717.99" x2="1540.54" y2="733.86" stroke="#231f20" stroke-width="1.4" />
<line x1="1534.64" y1="717.99" x2="1546.44" y2="717.99" stroke="#231f20" stroke-width="1.4" />
<line x1="1534.64" y1="733.86" x2="1546.44" y2="733.86" stroke="#231f20" stroke-width="1.4" />
<line x1="1640.18" y1="711.72" x2="1640.18" y2="730.17" stroke="#231f20" stroke-width="1.4" />
<line x1="1634.28" y1="711.72" x2="1646.08" y2="711.72" stroke="#231f20" stroke-width="1.4" />
<line x1="1634.28" y1="730.17" x2="1646.08" y2="730.17" stroke="#231f20" stroke-width="1.4" />
<polyline points="1440.17,743.08 1540.54,726.48 1640.18,720.94 1740.93,714.3" stroke="#231f20" stroke-width="2.8" fill="none" />
<rect x="1434.27" y="737.18" width="11.8" height="11.8" rx="1" stroke="#231f20" stroke-width="3.1" fill="#808285"/>
<rect x="1534.64" y="720.58" width="11.8" height="11.8" rx="1" stroke="#231f20" stroke-width="3.1" fill="#808285"/>
<rect x="1634.28" y="715.04" width="11.8" height="11.8" rx="1" stroke="#231f20" stroke-width="3.1" fill="#808285"/>
<rect x="1735.03" y="708.4" width="11.8" height="11.8" rx="1" stroke="#231f20" stroke-width="3.1" fill="#808285"/>
<line x1="1640.18" y1="705.44" x2="1640.18" y2="724.63" stroke="#231f20" stroke-width="1.4" />
<line x1="1634.28" y1="705.44" x2="1646.08" y2="705.44" stroke="#231f20" stroke-width="1.4" />
<line x1="1634.28" y1="724.63" x2="1646.08" y2="724.63" stroke="#231f20" stroke-width="1.4" />
<polyline points="1440.17,743.08 1540.54,724.63 1640.18,715.41 1740.93,709.13" stroke="#231f20" stroke-width="2.8" fill="none" />
<circle cx="1440.17" cy="743.08" r="5.9" stroke="#231f20" stroke-width="3.1" fill="#808285"/>
<circle cx="1540.54" cy="724.63" r="5.9" stroke="#231f20" stroke-width="3.1" fill="#808285"/>
<circle cx="1640.18" cy="715.41" r="5.9" stroke="#231f20" stroke-width="3.1" fill="#808285"/>
<circle cx="1740.93" cy="709.13" r="5.9" stroke="#231f20" stroke-width="3.1" fill="#808285"/>
<line x1="1640.18" y1="713.56" x2="1640.18" y2="732.75" stroke="#231f20" stroke-width="1.4" />
<line x1="1634.28" y1="713.56" x2="1646.08" y2="713.56" stroke="#231f20" stroke-width="1.4" />
<line x1="1634.28" y1="732.75" x2="1646.08" y2="732.75" stroke="#231f20" stroke-width="1.4" />
<line x1="1740.93" y1="716.51" x2="1740.93" y2="733.86" stroke="#231f20" stroke-width="1.4" />
<line x1="1735.03" y1="716.51" x2="1746.83" y2="716.51" stroke="#231f20" stroke-width="1.4" />
<line x1="1735.03" y1="733.86" x2="1746.83" y2="733.86" stroke="#231f20" stroke-width="1.4" />
<polyline points="1440.17,743.08 1540.54,725.37 1640.18,723.16 1740.93,724.63" stroke="#231f20" stroke-width="2.8" fill="none" />
<circle cx="1440.17" cy="743.08" r="5.9" stroke="#231f20" stroke-width="3.1" fill="#fff"/>
<circle cx="1540.54" cy="725.37" r="5.9" stroke="#231f20" stroke-width="3.1" fill="#fff"/>
<circle cx="1640.18" cy="723.16" r="5.9" stroke="#231f20" stroke-width="3.1" fill="#fff"/>
<circle cx="1740.93" cy="724.63" r="5.9" stroke="#231f20" stroke-width="3.1" fill="#fff"/>
<text x="1216.17" y="958.75" font-size="39.5" font-weight="bold">g</text>
<text x="1237.94" y="1112.63" font-size="27.3" text-anchor="middle" transform="rotate(-90 1237.94 1112.63)">Difference in footpad</text>
<text x="1271.15" y="1112.63" font-size="27.3" text-anchor="middle" transform="rotate(-90 1271.15 1112.63)">thickness (mm)</text>
<line x1="1373.74" y1="976.91" x2="1373.74" y2="1269.13" stroke="#231f20" stroke-width="3" />
<line x1="1360.83" y1="978.31" x2="1373.74" y2="978.31" stroke="#231f20" stroke-width="2.9" />
<text x="1349.75" y="988.21" font-size="27.3" text-anchor="end">0.3</text>
<line x1="1360.83" y1="1051.01" x2="1373.74" y2="1051.01" stroke="#231f20" stroke-width="2.9" />
<text x="1349.75" y="1060.91" font-size="27.3" text-anchor="end">0.2</text>
<line x1="1360.83" y1="1123.34" x2="1373.74" y2="1123.34" stroke="#231f20" stroke-width="2.9" />
<text x="1349.75" y="1133.24" font-size="27.3" text-anchor="end">0.1</text>
<line x1="1360.83" y1="1195.67" x2="1373.74" y2="1195.67" stroke="#231f20" stroke-width="2.9" />
<text x="1349.75" y="1205.57" font-size="27.3" text-anchor="end">0.0</text>
<line x1="1360.83" y1="1267.63" x2="1373.74" y2="1267.63" stroke="#231f20" stroke-width="2.9" />
<text x="1349.75" y="1277.53" font-size="27.3" text-anchor="end">-0.1</text>
<line x1="1360.83" y1="1267.63" x2="1809.2" y2="1267.63" stroke="#231f20" stroke-width="3" />
<line x1="1440.17" y1="1267.63" x2="1440.17" y2="1279.81" stroke="#231f20" stroke-width="2.9" />
<text x="1440.17" y="1311.91" font-size="27.3" text-anchor="middle">0</text>
<line x1="1540.54" y1="1267.63" x2="1540.54" y2="1279.81" stroke="#231f20" stroke-width="2.9" />
<text x="1540.54" y="1311.91" font-size="27.3" text-anchor="middle">24</text>
<line x1="1640.18" y1="1267.63" x2="1640.18" y2="1279.81" stroke="#231f20" stroke-width="2.9" />
<text x="1640.18" y="1311.91" font-size="27.3" text-anchor="middle">48</text>
<line x1="1740.93" y1="1267.63" x2="1740.93" y2="1279.81" stroke="#231f20" stroke-width="2.9" />
<text x="1740.93" y="1311.91" font-size="27.3" text-anchor="middle">72</text>
<line x1="1404.37" y1="1317.82" x2="1777.25" y2="1317.82" stroke="#231f20" stroke-width="1.5" />
<polygon points="1776.25,1309.32 1790.75,1317.82 1776.25,1326.32" stroke="none" stroke-width="0" fill="#231f20" />
<text x="1322.08" y="1344.39" font-size="27.3" textLength="487.12" lengthAdjust="spacingAndGlyphs">Hours after L3 Nb antigen/PBS injection</text>
<line x1="1381.12" y1="1195.67" x2="1803.66" y2="1195.67" stroke="#231f20" stroke-width="2.9" stroke-dasharray="0.1 8.55" stroke-linecap="round"/>
<line x1="1421.72" y1="972.26" x2="1450.92" y2="972.26" stroke="#231f20" stroke-width="3.1" />
<circle cx="1436.32" cy="972.26" r="5.9" stroke="#231f20" stroke-width="3.1" fill="#fff"/>
<text x="1455.04" y="980.24" font-size="27.3">- PBS</text>
<line x1="1421.72" y1="1011.61" x2="1450.92" y2="1011.61" stroke="#231f20" stroke-width="3.1" />
<rect x="1430.42" y="1005.71" width="11.8" height="11.8" rx="1" stroke="#231f20" stroke-width="3.1" fill="#fff"/>
<text x="1455.04" y="1020.84" font-size="27.3">- Nb L3</text>
<line x1="1633.37" y1="972.26" x2="1663.97" y2="972.26" stroke="#231f20" stroke-width="3.1" />
<circle cx="1648.67" cy="972.26" r="5.9" stroke="#231f20" stroke-width="3.1" fill="#808285"/>
<text x="1667.97" y="980.24" font-size="27.3">Hp PBS</text>
<line x1="1633.37" y1="1011.61" x2="1663.97" y2="1011.61" stroke="#231f20" stroke-width="3.1" />
<rect x="1642.77" y="1005.71" width="11.8" height="11.8" rx="1" stroke="#231f20" stroke-width="3.1" fill="#808285"/>
<text x="1667.97" y="1020.84" font-size="27.3">Hp Nb L3</text>
<line x1="1640.18" y1="1180.17" x2="1640.18" y2="1194.93" stroke="#231f20" stroke-width="1.4" />
<line x1="1634.28" y1="1180.17" x2="1646.08" y2="1180.17" stroke="#231f20" stroke-width="1.4" />
<line x1="1634.28" y1="1194.93" x2="1646.08" y2="1194.93" stroke="#231f20" stroke-width="1.4" />
<line x1="1740.93" y1="1170.2" x2="1740.93" y2="1194.93" stroke="#231f20" stroke-width="1.4" />
<line x1="1735.03" y1="1170.2" x2="1746.83" y2="1170.2" stroke="#231f20" stroke-width="1.4" />
<line x1="1735.03" y1="1194.93" x2="1746.83" y2="1194.93" stroke="#231f20" stroke-width="1.4" />
<polyline points="1440.17,1195.67 1540.54,1193.82 1640.18,1188.29 1740.93,1183.12" stroke="#231f20" stroke-width="2.8" fill="none" />
<circle cx="1440.17" cy="1195.67" r="5.9" stroke="#231f20" stroke-width="3.1" fill="#808285"/>
<circle cx="1540.54" cy="1193.82" r="5.9" stroke="#231f20" stroke-width="3.1" fill="#808285"/>
<circle cx="1640.18" cy="1188.29" r="5.9" stroke="#231f20" stroke-width="3.1" fill="#808285"/>
<circle cx="1740.93" cy="1183.12" r="5.9" stroke="#231f20" stroke-width="3.1" fill="#808285"/>
<line x1="1540.54" y1="1185.7" x2="1540.54" y2="1202.31" stroke="#231f20" stroke-width="1.4" />
<line x1="1534.64" y1="1185.7" x2="1546.44" y2="1185.7" stroke="#231f20" stroke-width="1.4" />
<line x1="1534.64" y1="1202.31" x2="1546.44" y2="1202.31" stroke="#231f20" stroke-width="1.4" />
<line x1="1640.18" y1="1191.24" x2="1640.18" y2="1210.43" stroke="#231f20" stroke-width="1.4" />
<line x1="1634.28" y1="1191.24" x2="1646.08" y2="1191.24" stroke="#231f20" stroke-width="1.4" />
<line x1="1634.28" y1="1210.43" x2="1646.08" y2="1210.43" stroke="#231f20" stroke-width="1.4" />
<line x1="1740.93" y1="1178.32" x2="1740.93" y2="1194.93" stroke="#231f20" stroke-width="1.4" />
<line x1="1735.03" y1="1178.32" x2="1746.83" y2="1178.32" stroke="#231f20" stroke-width="1.4" />
<line x1="1735.03" y1="1194.93" x2="1746.83" y2="1194.93" stroke="#231f20" stroke-width="1.4" />
<polyline points="1440.17,1195.67 1540.54,1193.08 1640.18,1199.73 1740.93,1186.44" stroke="#231f20" stroke-width="2.8" fill="none" />
<circle cx="1440.17" cy="1195.67" r="5.9" stroke="#231f20" stroke-width="3.1" fill="#fff"/>
<circle cx="1540.54" cy="1193.08" r="5.9" stroke="#231f20" stroke-width="3.1" fill="#fff"/>
<circle cx="1640.18" cy="1199.73" r="5.9" stroke="#231f20" stroke-width="3.1" fill="#fff"/>
<circle cx="1740.93" cy="1186.44" r="5.9" stroke="#231f20" stroke-width="3.1" fill="#fff"/>
<line x1="1740.93" y1="1132.19" x2="1740.93" y2="1154.33" stroke="#231f20" stroke-width="1.4" />
<line x1="1735.03" y1="1132.19" x2="1746.83" y2="1132.19" stroke="#231f20" stroke-width="1.4" />
<line x1="1735.03" y1="1154.33" x2="1746.83" y2="1154.33" stroke="#231f20" stroke-width="1.4" />
<polyline points="1440.17,1195.67 1540.54,1148.06 1640.18,1122.97 1740.93,1144" stroke="#231f20" stroke-width="2.8" fill="none" />
<rect x="1434.27" y="1189.77" width="11.8" height="11.8" rx="1" stroke="#231f20" stroke-width="3.1" fill="#808285"/>
<rect x="1534.64" y="1142.16" width="11.8" height="11.8" rx="1" stroke="#231f20" stroke-width="3.1" fill="#808285"/>
<rect x="1634.28" y="1117.07" width="11.8" height="11.8" rx="1" stroke="#231f20" stroke-width="3.1" fill="#808285"/>
<rect x="1735.03" y="1138.1" width="11.8" height="11.8" rx="1" stroke="#231f20" stroke-width="3.1" fill="#808285"/>
<line x1="1640.18" y1="1100.09" x2="1640.18" y2="1149.91" stroke="#231f20" stroke-width="1.4" />
<line x1="1634.28" y1="1100.09" x2="1646.08" y2="1100.09" stroke="#231f20" stroke-width="1.4" />
<line x1="1634.28" y1="1149.91" x2="1646.08" y2="1149.91" stroke="#231f20" stroke-width="1.4" />
<line x1="1740.93" y1="1110.05" x2="1740.93" y2="1133.3" stroke="#231f20" stroke-width="1.4" />
<line x1="1735.03" y1="1110.05" x2="1746.83" y2="1110.05" stroke="#231f20" stroke-width="1.4" />
<line x1="1735.03" y1="1133.3" x2="1746.83" y2="1133.3" stroke="#231f20" stroke-width="1.4" />
<polyline points="1440.17,1195.67 1540.54,1167.25 1640.18,1124.81 1740.93,1121.12" stroke="#231f20" stroke-width="2.8" fill="none" />
<rect x="1434.27" y="1189.77" width="11.8" height="11.8" rx="1" stroke="#231f20" stroke-width="3.1" fill="#fff"/>
<rect x="1534.64" y="1161.35" width="11.8" height="11.8" rx="1" stroke="#231f20" stroke-width="3.1" fill="#fff"/>
<rect x="1634.28" y="1118.91" width="11.8" height="11.8" rx="1" stroke="#231f20" stroke-width="3.1" fill="#fff"/>
<rect x="1735.03" y="1115.22" width="11.8" height="11.8" rx="1" stroke="#231f20" stroke-width="3.1" fill="#fff"/>
<line x1="107.8" y1="1468.3" x2="115.2" y2="1468.3" stroke="#333" stroke-width="1.6" />
<line x1="107.8" y1="1532.2" x2="115.2" y2="1532.2" stroke="#333" stroke-width="1.6" />
<line x1="107.8" y1="1605.8" x2="115.2" y2="1605.8" stroke="#333" stroke-width="1.6" />
<line x1="107.8" y1="1693.9" x2="115.2" y2="1693.9" stroke="#333" stroke-width="1.6" />
<line x1="111.2" y1="1512.96" x2="115.2" y2="1512.96" stroke="#444" stroke-width="1" />
<line x1="111.2" y1="1501.71" x2="115.2" y2="1501.71" stroke="#444" stroke-width="1" />
<line x1="111.2" y1="1493.73" x2="115.2" y2="1493.73" stroke="#444" stroke-width="1" />
<line x1="111.2" y1="1487.54" x2="115.2" y2="1487.54" stroke="#444" stroke-width="1" />
<line x1="111.2" y1="1482.48" x2="115.2" y2="1482.48" stroke="#444" stroke-width="1" />
<line x1="111.2" y1="1478.2" x2="115.2" y2="1478.2" stroke="#444" stroke-width="1" />
<line x1="111.2" y1="1474.49" x2="115.2" y2="1474.49" stroke="#444" stroke-width="1" />
<line x1="111.2" y1="1471.22" x2="115.2" y2="1471.22" stroke="#444" stroke-width="1" />
<line x1="111.2" y1="1583.64" x2="115.2" y2="1583.64" stroke="#444" stroke-width="1" />
<line x1="111.2" y1="1570.68" x2="115.2" y2="1570.68" stroke="#444" stroke-width="1" />
<line x1="111.2" y1="1561.49" x2="115.2" y2="1561.49" stroke="#444" stroke-width="1" />
<line x1="111.2" y1="1554.36" x2="115.2" y2="1554.36" stroke="#444" stroke-width="1" />
<line x1="111.2" y1="1548.53" x2="115.2" y2="1548.53" stroke="#444" stroke-width="1" />
<line x1="111.2" y1="1543.6" x2="115.2" y2="1543.6" stroke="#444" stroke-width="1" />
<line x1="111.2" y1="1539.33" x2="115.2" y2="1539.33" stroke="#444" stroke-width="1" />
<line x1="111.2" y1="1535.57" x2="115.2" y2="1535.57" stroke="#444" stroke-width="1" />
<line x1="111.2" y1="1449.06" x2="115.2" y2="1449.06" stroke="#444" stroke-width="1" />
<line x1="111.2" y1="1612" x2="115.2" y2="1612" stroke="#444" stroke-width="1" />
<line x1="111.2" y1="1619.09" x2="115.2" y2="1619.09" stroke="#444" stroke-width="1" />
<line x1="111.2" y1="1626.18" x2="115.2" y2="1626.18" stroke="#444" stroke-width="1" />
<line x1="111.2" y1="1633.27" x2="115.2" y2="1633.27" stroke="#444" stroke-width="1" />
<line x1="111.2" y1="1640.36" x2="115.2" y2="1640.36" stroke="#444" stroke-width="1" />
<line x1="111.2" y1="1647.45" x2="115.2" y2="1647.45" stroke="#444" stroke-width="1" />
<line x1="111.2" y1="1654.55" x2="115.2" y2="1654.55" stroke="#444" stroke-width="1" />
<line x1="111.2" y1="1661.64" x2="115.2" y2="1661.64" stroke="#444" stroke-width="1" />
<line x1="111.2" y1="1668.73" x2="115.2" y2="1668.73" stroke="#444" stroke-width="1" />
<line x1="111.2" y1="1675.82" x2="115.2" y2="1675.82" stroke="#444" stroke-width="1" />
<line x1="111.2" y1="1682.91" x2="115.2" y2="1682.91" stroke="#444" stroke-width="1" />
<line x1="111.2" y1="1690" x2="115.2" y2="1690" stroke="#444" stroke-width="1" />
<polygon points="115.2,1645 107.7,1645.5 111.2,1648.5 107.7,1650 111.7,1652 107.7,1655.5 115.2,1656.5" stroke="none" stroke-width="0" fill="#231f20" />
<line x1="131.1" y1="1712.3" x2="131.1" y2="1718.8" stroke="#333" stroke-width="1.6" />
<line x1="219.2" y1="1712.3" x2="219.2" y2="1718.8" stroke="#333" stroke-width="1.6" />
<line x1="292" y1="1712.3" x2="292" y2="1718.8" stroke="#333" stroke-width="1.6" />
<line x1="356.5" y1="1712.3" x2="356.5" y2="1718.8" stroke="#333" stroke-width="1.6" />
<line x1="241.11" y1="1712.3" x2="241.11" y2="1715.8" stroke="#444" stroke-width="1" />
<line x1="253.93" y1="1712.3" x2="253.93" y2="1715.8" stroke="#444" stroke-width="1" />
<line x1="263.03" y1="1712.3" x2="263.03" y2="1715.8" stroke="#444" stroke-width="1" />
<line x1="270.09" y1="1712.3" x2="270.09" y2="1715.8" stroke="#444" stroke-width="1" />
<line x1="275.85" y1="1712.3" x2="275.85" y2="1715.8" stroke="#444" stroke-width="1" />
<line x1="280.72" y1="1712.3" x2="280.72" y2="1715.8" stroke="#444" stroke-width="1" />
<line x1="284.94" y1="1712.3" x2="284.94" y2="1715.8" stroke="#444" stroke-width="1" />
<line x1="288.67" y1="1712.3" x2="288.67" y2="1715.8" stroke="#444" stroke-width="1" />
<line x1="311.42" y1="1712.3" x2="311.42" y2="1715.8" stroke="#444" stroke-width="1" />
<line x1="322.77" y1="1712.3" x2="322.77" y2="1715.8" stroke="#444" stroke-width="1" />
<line x1="330.83" y1="1712.3" x2="330.83" y2="1715.8" stroke="#444" stroke-width="1" />
<line x1="337.08" y1="1712.3" x2="337.08" y2="1715.8" stroke="#444" stroke-width="1" />
<line x1="342.19" y1="1712.3" x2="342.19" y2="1715.8" stroke="#444" stroke-width="1" />
<line x1="346.51" y1="1712.3" x2="346.51" y2="1715.8" stroke="#444" stroke-width="1" />
<line x1="350.25" y1="1712.3" x2="350.25" y2="1715.8" stroke="#444" stroke-width="1" />
<line x1="353.55" y1="1712.3" x2="353.55" y2="1715.8" stroke="#444" stroke-width="1" />
<line x1="375.77" y1="1712.3" x2="375.77" y2="1715.8" stroke="#444" stroke-width="1" />
<line x1="135" y1="1712.3" x2="135" y2="1715.8" stroke="#444" stroke-width="1" />
<line x1="140.27" y1="1712.3" x2="140.27" y2="1715.8" stroke="#444" stroke-width="1" />
<line x1="145.53" y1="1712.3" x2="145.53" y2="1715.8" stroke="#444" stroke-width="1" />
<line x1="150.8" y1="1712.3" x2="150.8" y2="1715.8" stroke="#444" stroke-width="1" />
<line x1="156.07" y1="1712.3" x2="156.07" y2="1715.8" stroke="#444" stroke-width="1" />
<line x1="161.33" y1="1712.3" x2="161.33" y2="1715.8" stroke="#444" stroke-width="1" />
<line x1="166.6" y1="1712.3" x2="166.6" y2="1715.8" stroke="#444" stroke-width="1" />
<line x1="171.87" y1="1712.3" x2="171.87" y2="1715.8" stroke="#444" stroke-width="1" />
<line x1="177.13" y1="1712.3" x2="177.13" y2="1715.8" stroke="#444" stroke-width="1" />
<line x1="182.4" y1="1712.3" x2="182.4" y2="1715.8" stroke="#444" stroke-width="1" />
<line x1="187.67" y1="1712.3" x2="187.67" y2="1715.8" stroke="#444" stroke-width="1" />
<line x1="192.93" y1="1712.3" x2="192.93" y2="1715.8" stroke="#444" stroke-width="1" />
<line x1="198.2" y1="1712.3" x2="198.2" y2="1715.8" stroke="#444" stroke-width="1" />
<line x1="203.47" y1="1712.3" x2="203.47" y2="1715.8" stroke="#444" stroke-width="1" />
<line x1="208.73" y1="1712.3" x2="208.73" y2="1715.8" stroke="#444" stroke-width="1" />
<line x1="214" y1="1712.3" x2="214" y2="1715.8" stroke="#444" stroke-width="1" />
<polygon points="169,1712.3 169,1718.8 171.5,1718.8 172.5,1715.3 175,1718.3 177.5,1715.3 178.5,1718.8 181,1718.8 181,1712.3" stroke="none" stroke-width="0" fill="#231f20" />
<rect x="115.2" y="1443.8" width="268.1" height="268.5" stroke="#4a4a4c" stroke-width="1.3" fill="#fff" />
<line x1="389.5" y1="1468.3" x2="396.9" y2="1468.3" stroke="#333" stroke-width="1.6" />
<line x1="389.5" y1="1532.2" x2="396.9" y2="1532.2" stroke="#333" stroke-width="1.6" />
<line x1="389.5" y1="1605.8" x2="396.9" y2="1605.8" stroke="#333" stroke-width="1.6" />
<line x1="389.5" y1="1693.9" x2="396.9" y2="1693.9" stroke="#333" stroke-width="1.6" />
<line x1="392.9" y1="1512.96" x2="396.9" y2="1512.96" stroke="#444" stroke-width="1" />
<line x1="392.9" y1="1501.71" x2="396.9" y2="1501.71" stroke="#444" stroke-width="1" />
<line x1="392.9" y1="1493.73" x2="396.9" y2="1493.73" stroke="#444" stroke-width="1" />
<line x1="392.9" y1="1487.54" x2="396.9" y2="1487.54" stroke="#444" stroke-width="1" />
<line x1="392.9" y1="1482.48" x2="396.9" y2="1482.48" stroke="#444" stroke-width="1" />
<line x1="392.9" y1="1478.2" x2="396.9" y2="1478.2" stroke="#444" stroke-width="1" />
<line x1="392.9" y1="1474.49" x2="396.9" y2="1474.49" stroke="#444" stroke-width="1" />
<line x1="392.9" y1="1471.22" x2="396.9" y2="1471.22" stroke="#444" stroke-width="1" />
<line x1="392.9" y1="1583.64" x2="396.9" y2="1583.64" stroke="#444" stroke-width="1" />
<line x1="392.9" y1="1570.68" x2="396.9" y2="1570.68" stroke="#444" stroke-width="1" />
<line x1="392.9" y1="1561.49" x2="396.9" y2="1561.49" stroke="#444" stroke-width="1" />
<line x1="392.9" y1="1554.36" x2="396.9" y2="1554.36" stroke="#444" stroke-width="1" />
<line x1="392.9" y1="1548.53" x2="396.9" y2="1548.53" stroke="#444" stroke-width="1" />
<line x1="392.9" y1="1543.6" x2="396.9" y2="1543.6" stroke="#444" stroke-width="1" />
<line x1="392.9" y1="1539.33" x2="396.9" y2="1539.33" stroke="#444" stroke-width="1" />
<line x1="392.9" y1="1535.57" x2="396.9" y2="1535.57" stroke="#444" stroke-width="1" />
<line x1="392.9" y1="1449.06" x2="396.9" y2="1449.06" stroke="#444" stroke-width="1" />
<line x1="392.9" y1="1612" x2="396.9" y2="1612" stroke="#444" stroke-width="1" />
<line x1="392.9" y1="1619.09" x2="396.9" y2="1619.09" stroke="#444" stroke-width="1" />
<line x1="392.9" y1="1626.18" x2="396.9" y2="1626.18" stroke="#444" stroke-width="1" />
<line x1="392.9" y1="1633.27" x2="396.9" y2="1633.27" stroke="#444" stroke-width="1" />
<line x1="392.9" y1="1640.36" x2="396.9" y2="1640.36" stroke="#444" stroke-width="1" />
<line x1="392.9" y1="1647.45" x2="396.9" y2="1647.45" stroke="#444" stroke-width="1" />
<line x1="392.9" y1="1654.55" x2="396.9" y2="1654.55" stroke="#444" stroke-width="1" />
<line x1="392.9" y1="1661.64" x2="396.9" y2="1661.64" stroke="#444" stroke-width="1" />
<line x1="392.9" y1="1668.73" x2="396.9" y2="1668.73" stroke="#444" stroke-width="1" />
<line x1="392.9" y1="1675.82" x2="396.9" y2="1675.82" stroke="#444" stroke-width="1" />
<line x1="392.9" y1="1682.91" x2="396.9" y2="1682.91" stroke="#444" stroke-width="1" />
<line x1="392.9" y1="1690" x2="396.9" y2="1690" stroke="#444" stroke-width="1" />
<polygon points="396.9,1645 389.4,1645.5 392.9,1648.5 389.4,1650 393.4,1652 389.4,1655.5 396.9,1656.5" stroke="none" stroke-width="0" fill="#231f20" />
<line x1="412.8" y1="1712" x2="412.8" y2="1718.5" stroke="#333" stroke-width="1.6" />
<line x1="500.9" y1="1712" x2="500.9" y2="1718.5" stroke="#333" stroke-width="1.6" />
<line x1="573.7" y1="1712" x2="573.7" y2="1718.5" stroke="#333" stroke-width="1.6" />
<line x1="638.2" y1="1712" x2="638.2" y2="1718.5" stroke="#333" stroke-width="1.6" />
<line x1="522.81" y1="1712" x2="522.81" y2="1715.5" stroke="#444" stroke-width="1" />
<line x1="535.63" y1="1712" x2="535.63" y2="1715.5" stroke="#444" stroke-width="1" />
<line x1="544.73" y1="1712" x2="544.73" y2="1715.5" stroke="#444" stroke-width="1" />
<line x1="551.79" y1="1712" x2="551.79" y2="1715.5" stroke="#444" stroke-width="1" />
<line x1="557.55" y1="1712" x2="557.55" y2="1715.5" stroke="#444" stroke-width="1" />
<line x1="562.42" y1="1712" x2="562.42" y2="1715.5" stroke="#444" stroke-width="1" />
<line x1="566.64" y1="1712" x2="566.64" y2="1715.5" stroke="#444" stroke-width="1" />
<line x1="570.37" y1="1712" x2="570.37" y2="1715.5" stroke="#444" stroke-width="1" />
<line x1="593.12" y1="1712" x2="593.12" y2="1715.5" stroke="#444" stroke-width="1" />
<line x1="604.47" y1="1712" x2="604.47" y2="1715.5" stroke="#444" stroke-width="1" />
<line x1="612.53" y1="1712" x2="612.53" y2="1715.5" stroke="#444" stroke-width="1" />
<line x1="618.78" y1="1712" x2="618.78" y2="1715.5" stroke="#444" stroke-width="1" />
<line x1="623.89" y1="1712" x2="623.89" y2="1715.5" stroke="#444" stroke-width="1" />
<line x1="628.21" y1="1712" x2="628.21" y2="1715.5" stroke="#444" stroke-width="1" />
<line x1="631.95" y1="1712" x2="631.95" y2="1715.5" stroke="#444" stroke-width="1" />
<line x1="635.25" y1="1712" x2="635.25" y2="1715.5" stroke="#444" stroke-width="1" />
<line x1="657.47" y1="1712" x2="657.47" y2="1715.5" stroke="#444" stroke-width="1" />
<line x1="416.7" y1="1712" x2="416.7" y2="1715.5" stroke="#444" stroke-width="1" />
<line x1="421.97" y1="1712" x2="421.97" y2="1715.5" stroke="#444" stroke-width="1" />
<line x1="427.23" y1="1712" x2="427.23" y2="1715.5" stroke="#444" stroke-width="1" />
<line x1="432.5" y1="1712" x2="432.5" y2="1715.5" stroke="#444" stroke-width="1" />
<line x1="437.77" y1="1712" x2="437.77" y2="1715.5" stroke="#444" stroke-width="1" />
<line x1="443.03" y1="1712" x2="443.03" y2="1715.5" stroke="#444" stroke-width="1" />
<line x1="448.3" y1="1712" x2="448.3" y2="1715.5" stroke="#444" stroke-width="1" />
<line x1="453.57" y1="1712" x2="453.57" y2="1715.5" stroke="#444" stroke-width="1" />
<line x1="458.83" y1="1712" x2="458.83" y2="1715.5" stroke="#444" stroke-width="1" />
<line x1="464.1" y1="1712" x2="464.1" y2="1715.5" stroke="#444" stroke-width="1" />
<line x1="469.37" y1="1712" x2="469.37" y2="1715.5" stroke="#444" stroke-width="1" />
<line x1="474.63" y1="1712" x2="474.63" y2="1715.5" stroke="#444" stroke-width="1" />
<line x1="479.9" y1="1712" x2="479.9" y2="1715.5" stroke="#444" stroke-width="1" />
<line x1="485.17" y1="1712" x2="485.17" y2="1715.5" stroke="#444" stroke-width="1" />
<line x1="490.43" y1="1712" x2="490.43" y2="1715.5" stroke="#444" stroke-width="1" />
<line x1="495.7" y1="1712" x2="495.7" y2="1715.5" stroke="#444" stroke-width="1" />
<polygon points="450.7,1712 450.7,1718.5 453.2,1718.5 454.2,1715 456.7,1718 459.2,1715 460.2,1718.5 462.7,1718.5 462.7,1712" stroke="none" stroke-width="0" fill="#231f20" />
<rect x="396.9" y="1443.8" width="268.1" height="268.2" stroke="#4a4a4c" stroke-width="1.3" fill="#fff" />
<path d="M206.5,1587.6 205.0,1587.7 203.5,1587.8 202.0,1587.8 200.5,1587.7 199.0,1587.5 198.0,1587.4 196.5,1587.2 195.5,1587.0 194.0,1586.7 193.0,1586.5 191.5,1586.1 190.5,1585.9 189.1,1585.5 188.0,1585.2 187.0,1584.8 186.0,1584.4 185.0,1584.0 184.0,1583.5 183.0,1583.0 182.0,1582.4 181.0,1581.7 180.1,1581.0 179.5,1580.5 178.5,1579.6 178.0,1579.0 177.1,1578.0 176.5,1577.3 175.9,1576.5 175.3,1575.5 174.7,1574.5 174.2,1573.5 173.7,1572.5 173.3,1571.5 172.9,1570.5 172.5,1569.2 172.2,1568.0 171.9,1567.0 171.6,1565.5 171.5,1564.5 171.3,1563.0 171.1,1561.5 171.1,1560.0 171.0,1558.5 171.0,1557.0 171.1,1555.5 171.1,1554.0 171.3,1552.5 171.4,1551.0 171.5,1550.0 171.7,1548.5 171.9,1547.0 172.1,1546.0 172.4,1544.5 172.5,1543.5 172.8,1542.0 173.0,1541.0 173.3,1539.5 173.5,1538.5 173.8,1537.0 174.1,1536.0 174.4,1534.5 174.6,1533.5 175.0,1532.0 175.3,1531.0 175.5,1530.0 176.0,1528.5 176.3,1527.5 176.6,1526.5 177.0,1525.3 177.5,1524.0 177.9,1523.0 178.3,1522.0 178.7,1521.0 179.2,1520.0 179.7,1519.0 180.2,1518.0 180.7,1517.0 181.3,1516.0 182.0,1515.0 182.5,1514.2 183.0,1513.5 183.8,1512.5 184.5,1511.6 185.0,1511.0 186.0,1510.0 186.5,1509.5 187.5,1508.6 188.2,1508.0 189.0,1507.4 190.0,1506.7 191.0,1506.1 192.0,1505.6 193.0,1505.1 194.0,1504.7 195.0,1504.4 196.2,1504.0 197.5,1503.7 198.8,1503.5 200.0,1503.4 201.5,1503.3 203.0,1503.3 204.5,1503.3 206.0,1503.5 207.0,1503.6 208.5,1503.8 209.5,1504.0 211.0,1504.3 212.3,1504.5 213.5,1504.7 214.8,1505.0 216.0,1505.3 217.0,1505.6 218.5,1506.0 219.5,1506.3 220.5,1506.7 221.5,1507.1 222.5,1507.5 223.5,1508.0 224.5,1508.5 225.5,1509.1 226.5,1509.7 227.5,1510.3 228.5,1510.9 229.4,1511.5 230.1,1512.0 231.0,1512.6 232.0,1513.2 233.0,1513.9 233.9,1514.5 234.7,1515.0 235.5,1515.5 236.5,1516.1 237.5,1516.6 238.5,1517.1 239.5,1517.7 240.5,1518.2 241.5,1518.7 242.5,1519.1 243.5,1519.6 244.5,1520.1 245.5,1520.6 246.5,1521.1 247.5,1521.6 248.5,1522.1 249.5,1522.6 250.5,1523.0 251.6,1523.5 252.7,1524.0 253.9,1524.5 255.0,1524.9 256.0,1525.3 257.0,1525.6 258.2,1526.0 259.5,1526.4 260.5,1526.6 262.0,1527.0 263.0,1527.2 264.4,1527.5 265.5,1527.7 266.9,1528.0 268.0,1528.2 269.4,1528.5 270.5,1528.7 271.6,1529.0 273.0,1529.3 274.0,1529.6 275.4,1530.0 276.5,1530.4 277.5,1530.7 278.5,1531.0 279.7,1531.5 281.0,1532.0 282.0,1532.4 283.0,1532.7 284.0,1533.1 285.3,1533.5 286.5,1533.8 287.5,1534.0 289.0,1534.2 290.5,1534.3 292.0,1534.4 293.5,1534.4 294.5,1534.5 296.0,1534.7 297.5,1535.0 298.5,1535.3 299.5,1535.7 300.5,1536.1 301.5,1536.7 302.5,1537.5 303.1,1538.0 304.0,1538.9 304.5,1539.6 305.1,1540.5 305.7,1541.5 306.1,1542.5 306.5,1543.5 307.0,1544.9 307.5,1546.0 308.0,1546.7 309.0,1547.5 310.0,1547.9 311.0,1548.2 312.3,1548.5 313.5,1548.8 314.5,1549.2 315.5,1549.6 316.5,1550.2 317.3,1551.0 317.7,1552.0 317.1,1553.0 316.0,1553.4 315.0,1553.5 313.8,1553.5 312.5,1553.3 311.0,1553.0 310.0,1552.8 308.5,1552.6 307.0,1553.0 306.3,1553.5 305.5,1554.5 305.0,1555.2 304.5,1556.0 303.8,1557.0 303.0,1558.0 302.5,1558.6 301.8,1559.5 301.0,1560.5 300.5,1561.4 300.2,1562.5 300.1,1564.0 300.4,1565.5 300.7,1566.5 300.9,1568.0 301.0,1569.0 301.1,1570.5 301.0,1571.5 300.7,1573.0 300.3,1574.0 299.6,1575.0 298.9,1575.5 297.7,1575.5 297.0,1575.0 296.2,1574.0 295.7,1573.0 295.4,1572.0 295.0,1570.8 294.6,1569.5 294.0,1568.5 293.0,1568.4 292.1,1569.0 291.5,1569.5 290.5,1570.5 290.0,1571.0 289.0,1572.0 288.4,1572.5 287.5,1573.3 286.7,1574.0 286.0,1574.6 285.0,1575.3 284.0,1576.0 283.3,1576.5 282.5,1577.0 281.5,1577.6 280.5,1578.1 279.5,1578.6 278.5,1579.1 277.5,1579.6 276.5,1580.0 275.2,1580.5 274.0,1580.9 273.0,1581.3 272.0,1581.6 270.6,1582.0 269.5,1582.3 268.5,1582.6 267.0,1582.9 266.0,1583.1 264.5,1583.4 263.5,1583.6 262.0,1583.8 260.5,1584.0 259.5,1584.1 258.0,1584.3 256.5,1584.4 255.0,1584.5 254.0,1584.5 252.5,1584.5 251.0,1584.5 249.5,1584.5 248.5,1584.5 247.0,1584.4 245.5,1584.3 244.0,1584.2 242.5,1584.0 241.5,1583.9 240.0,1583.7 238.9,1583.5 237.5,1583.3 236.2,1583.0 235.0,1582.7 233.9,1582.5 232.5,1582.2 231.5,1582.0 230.0,1581.7 229.0,1581.5 227.5,1581.3 226.0,1581.2 224.5,1581.3 223.4,1581.5 222.0,1581.9 221.0,1582.2 220.0,1582.6 219.0,1583.1 218.0,1583.5 217.0,1584.0 216.0,1584.5 214.9,1585.0 213.8,1585.5 212.5,1586.0 211.5,1586.4 210.5,1586.7 209.4,1587.0 208.0,1587.3 206.9,1587.5 M204.0,1585.0 202.5,1585.0 201.5,1585.0 200.0,1584.9 198.5,1584.7 197.4,1584.5 196.0,1584.3 194.8,1584.0 193.5,1583.7 192.5,1583.5 191.0,1583.1 190.0,1582.9 188.8,1582.5 187.5,1582.0 186.5,1581.6 185.5,1581.1 184.5,1580.6 183.5,1580.0 182.7,1579.5 182.0,1579.0 181.0,1578.2 180.3,1577.5 179.5,1576.7 178.9,1576.0 178.1,1575.0 177.5,1574.2 177.0,1573.4 176.5,1572.5 176.0,1571.5 175.5,1570.5 175.0,1569.2 174.6,1568.0 174.3,1567.0 174.0,1565.8 173.7,1564.5 173.5,1563.1 173.4,1562.0 173.2,1560.5 173.1,1559.0 173.1,1557.5 173.1,1556.0 173.1,1554.5 173.2,1553.0 173.4,1551.5 173.5,1550.2 173.6,1549.0 173.9,1547.5 174.0,1546.5 174.3,1545.0 174.5,1543.7 174.7,1542.5 175.0,1541.1 175.2,1540.0 175.5,1538.7 175.7,1537.5 176.0,1536.3 176.3,1535.0 176.5,1534.0 176.9,1532.5 177.2,1531.5 177.5,1530.4 177.9,1529.0 178.2,1528.0 178.6,1527.0 179.0,1525.8 179.5,1524.5 179.9,1523.5 180.3,1522.5 180.8,1521.5 181.3,1520.5 181.8,1519.5 182.4,1518.5 183.0,1517.5 183.5,1516.7 184.0,1516.0 184.7,1515.0 185.5,1514.0 186.0,1513.5 186.9,1512.5 187.5,1511.9 188.5,1511.0 189.1,1510.5 190.0,1509.9 191.0,1509.2 192.0,1508.6 193.0,1508.1 194.0,1507.6 195.0,1507.2 196.0,1506.9 197.5,1506.5 198.5,1506.3 200.0,1506.2 201.5,1506.1 203.0,1506.1 204.5,1506.1 206.0,1506.3 207.5,1506.5 208.5,1506.6 210.0,1506.9 211.0,1507.1 212.5,1507.3 213.5,1507.5 215.0,1507.9 216.0,1508.1 217.3,1508.5 218.5,1508.9 219.5,1509.3 220.5,1509.7 221.5,1510.1 222.5,1510.6 223.5,1511.1 224.5,1511.7 225.5,1512.3 226.5,1512.9 227.4,1513.5 228.1,1514.0 229.0,1514.6 230.0,1515.4 230.9,1516.0 231.6,1516.5 232.5,1517.1 233.5,1517.8 234.5,1518.4 235.4,1519.0 236.3,1519.5 237.1,1520.0 238.1,1520.5 239.0,1521.0 240.0,1521.5 241.0,1522.0 242.0,1522.5 243.0,1523.0 244.0,1523.5 245.1,1524.0 246.1,1524.5 247.2,1525.0 248.2,1525.5 249.3,1526.0 250.4,1526.5 251.5,1527.0 252.5,1527.4 253.5,1527.7 254.5,1528.1 255.6,1528.5 257.0,1528.9 258.0,1529.2 259.0,1529.5 260.5,1529.9 261.5,1530.1 263.0,1530.4 264.0,1530.6 265.5,1530.9 266.5,1531.1 268.0,1531.4 269.0,1531.7 270.5,1532.0 271.5,1532.3 272.5,1532.5 274.0,1533.0 275.0,1533.3 276.0,1533.6 277.0,1534.0 278.2,1534.5 279.4,1535.0 280.5,1535.5 281.5,1535.9 282.5,1536.4 283.5,1536.8 284.5,1537.2 285.5,1537.5 287.0,1537.9 288.0,1538.1 289.5,1538.2 291.0,1538.2 292.5,1538.3 294.0,1538.3 295.5,1538.5 296.5,1538.7 297.6,1539.0 298.7,1539.5 299.6,1540.0 300.5,1540.7 301.3,1541.5 302.0,1542.4 302.5,1543.2 303.0,1544.3 303.4,1545.5 303.7,1546.5 303.9,1548.0 303.8,1549.5 303.4,1550.5 303.0,1551.5 302.4,1552.5 301.8,1553.5 301.1,1554.5 300.5,1555.2 299.8,1556.0 299.0,1556.8 298.2,1557.5 297.5,1558.1 296.5,1559.0 295.8,1559.5 295.0,1560.2 294.0,1561.0 293.4,1561.5 292.5,1562.4 291.9,1563.0 291.0,1564.0 290.5,1564.6 289.8,1565.5 289.0,1566.4 288.5,1567.0 287.6,1568.0 287.0,1568.7 286.2,1569.5 285.5,1570.2 284.6,1571.0 284.0,1571.5 283.0,1572.3 282.1,1573.0 281.4,1573.5 280.5,1574.1 279.5,1574.7 278.5,1575.3 277.5,1575.8 276.5,1576.3 275.5,1576.7 274.5,1577.2 273.5,1577.6 272.3,1578.0 271.0,1578.5 270.0,1578.8 269.0,1579.1 267.5,1579.5 266.5,1579.7 265.2,1580.0 264.0,1580.2 262.5,1580.5 261.5,1580.7 260.0,1580.9 259.0,1581.0 257.5,1581.2 256.0,1581.3 254.5,1581.4 253.0,1581.4 251.5,1581.5 250.0,1581.4 248.5,1581.4 247.0,1581.3 245.5,1581.2 244.0,1581.1 243.0,1581.0 241.5,1580.8 240.0,1580.5 239.0,1580.4 237.5,1580.1 236.5,1579.9 235.0,1579.5 234.0,1579.3 232.8,1579.0 231.5,1578.7 230.5,1578.5 229.0,1578.2 227.7,1578.0 226.5,1577.9 225.0,1578.0 224.0,1578.1 222.5,1578.5 221.5,1578.8 220.5,1579.2 219.5,1579.7 218.5,1580.2 217.5,1580.7 216.5,1581.2 215.5,1581.7 214.5,1582.2 213.5,1582.7 212.5,1583.1 211.5,1583.5 210.0,1584.0 209.0,1584.3 208.0,1584.5 206.5,1584.8 205.0,1584.9 204.0,1585.0 M298.5,1571.0 298.3,1571.0 298.0,1570.9 297.9,1570.5 297.9,1570.0 298.0,1569.5 298.4,1569.5 298.5,1569.5 298.5,1569.5 298.6,1570.0 298.6,1570.5 298.5,1571.0 298.5,1571.0 M206.0,1582.5 204.5,1582.7 203.0,1582.7 201.5,1582.7 200.0,1582.5 199.0,1582.4 197.5,1582.2 196.5,1582.0 195.0,1581.7 194.0,1581.5 192.5,1581.1 191.5,1580.9 190.2,1580.5 189.0,1580.1 188.0,1579.7 187.0,1579.3 186.0,1578.8 185.0,1578.2 184.0,1577.6 183.2,1577.0 182.5,1576.4 181.5,1575.5 181.0,1575.0 180.1,1574.0 179.5,1573.2 179.0,1572.5 178.3,1571.5 177.8,1570.5 177.3,1569.5 176.9,1568.5 176.5,1567.5 176.0,1566.0 175.8,1565.0 175.5,1563.8 175.3,1562.5 175.1,1561.0 175.0,1560.0 174.9,1558.5 174.8,1557.0 174.8,1555.5 174.9,1554.0 175.0,1552.5 175.0,1551.5 175.2,1550.0 175.4,1548.5 175.5,1547.5 175.8,1546.0 176.0,1544.6 176.2,1543.5 176.5,1542.0 176.7,1541.0 177.0,1539.5 177.2,1538.5 177.5,1537.1 177.7,1536.0 178.0,1535.0 178.4,1533.5 178.6,1532.5 179.0,1531.1 179.3,1530.0 179.7,1529.0 180.0,1528.0 180.5,1526.6 180.9,1525.5 181.3,1524.5 181.8,1523.5 182.3,1522.5 182.8,1521.5 183.3,1520.5 183.9,1519.5 184.5,1518.6 185.0,1517.9 185.6,1517.0 186.4,1516.0 187.0,1515.3 187.8,1514.5 188.5,1513.8 189.4,1513.0 190.0,1512.5 191.0,1511.8 192.0,1511.1 193.0,1510.6 194.0,1510.1 195.0,1509.7 196.0,1509.3 197.1,1509.0 198.5,1508.7 199.9,1508.5 201.0,1508.4 202.5,1508.4 204.0,1508.4 205.1,1508.5 206.5,1508.7 208.0,1508.9 209.0,1509.0 210.5,1509.3 211.7,1509.5 213.0,1509.7 214.1,1510.0 215.5,1510.3 216.5,1510.6 217.6,1511.0 219.0,1511.5 220.0,1511.9 221.0,1512.4 222.0,1512.9 223.0,1513.5 223.9,1514.0 224.7,1514.5 225.5,1515.0 226.5,1515.7 227.5,1516.5 228.2,1517.0 229.0,1517.6 230.0,1518.3 230.9,1519.0 231.5,1519.5 232.5,1520.2 233.5,1520.9 234.4,1521.5 235.2,1522.0 236.0,1522.5 237.0,1523.0 238.0,1523.6 239.0,1524.1 240.0,1524.6 241.0,1525.1 242.0,1525.6 243.0,1526.1 244.0,1526.6 245.0,1527.0 246.0,1527.5 247.1,1528.0 248.2,1528.5 249.4,1529.0 250.5,1529.5 251.5,1529.9 252.5,1530.2 253.5,1530.6 254.7,1531.0 256.0,1531.4 257.0,1531.7 258.1,1532.0 259.5,1532.3 260.5,1532.6 262.0,1532.9 263.0,1533.1 264.5,1533.4 265.5,1533.6 267.0,1534.0 268.0,1534.2 269.3,1534.5 270.5,1534.8 271.5,1535.1 272.8,1535.5 274.0,1535.9 275.0,1536.3 276.0,1536.7 277.0,1537.1 278.0,1537.6 279.0,1538.1 280.0,1538.6 281.0,1539.1 282.0,1539.7 283.0,1540.2 284.0,1540.7 285.0,1541.2 286.0,1541.6 287.2,1542.0 288.5,1542.3 290.0,1542.5 291.0,1542.6 292.5,1542.6 294.0,1542.7 295.4,1543.0 296.5,1543.4 297.4,1544.0 298.0,1544.6 298.6,1545.5 299.0,1546.5 299.2,1548.0 299.0,1549.4 298.6,1550.5 298.0,1551.5 297.5,1552.1 296.7,1553.0 296.0,1553.7 295.0,1554.5 294.4,1555.0 293.5,1555.7 292.6,1556.5 292.0,1557.1 291.1,1558.0 290.5,1558.7 289.9,1559.5 289.2,1560.5 288.5,1561.4 288.0,1562.1 287.4,1563.0 286.6,1564.0 286.0,1564.8 285.5,1565.5 284.6,1566.5 284.0,1567.2 283.2,1568.0 282.5,1568.7 281.6,1569.5 281.0,1570.0 280.0,1570.8 279.0,1571.5 278.2,1572.0 277.4,1572.5 276.5,1573.0 275.5,1573.5 274.5,1574.0 273.5,1574.5 272.3,1575.0 271.0,1575.5 270.0,1575.8 269.0,1576.2 267.9,1576.5 266.5,1576.9 265.5,1577.1 264.0,1577.5 263.0,1577.7 261.5,1578.0 260.5,1578.1 259.0,1578.3 257.6,1578.5 256.5,1578.6 255.0,1578.7 253.5,1578.8 252.0,1578.8 250.5,1578.9 249.0,1578.8 247.5,1578.8 246.0,1578.7 244.5,1578.5 243.5,1578.4 242.0,1578.2 240.5,1578.0 239.5,1577.8 238.0,1577.5 237.0,1577.3 235.7,1577.0 234.5,1576.7 233.5,1576.4 232.0,1576.0 231.0,1575.8 229.8,1575.5 228.5,1575.3 227.0,1575.1 225.5,1575.1 224.0,1575.3 223.0,1575.5 221.7,1576.0 220.5,1576.5 219.5,1577.0 218.6,1577.5 217.7,1578.0 216.8,1578.5 215.9,1579.0 215.0,1579.5 214.0,1580.0 212.9,1580.5 211.8,1581.0 210.5,1581.5 209.5,1581.8 208.5,1582.1 207.0,1582.4 206.0,1582.5 M205.5,1580.5 204.0,1580.6 202.5,1580.7 201.0,1580.6 200.0,1580.5 198.5,1580.3 197.0,1580.0 196.0,1579.8 194.6,1579.5 193.5,1579.3 192.5,1579.0 191.0,1578.6 190.0,1578.3 189.0,1577.9 188.0,1577.5 187.0,1577.0 186.0,1576.4 185.0,1575.8 184.0,1575.0 183.4,1574.5 182.5,1573.7 181.8,1573.0 181.0,1572.0 180.5,1571.3 180.0,1570.5 179.4,1569.5 178.9,1568.5 178.4,1567.5 178.0,1566.4 177.5,1565.0 177.3,1564.0 177.0,1562.8 176.8,1561.5 176.6,1560.0 176.5,1559.0 176.4,1557.5 176.3,1556.0 176.4,1554.5 176.4,1553.0 176.5,1552.0 176.6,1550.5 176.8,1549.0 177.0,1547.6 177.2,1546.5 177.4,1545.0 177.6,1544.0 177.9,1542.5 178.1,1541.5 178.4,1540.0 178.6,1539.0 178.9,1537.5 179.1,1536.5 179.5,1535.0 179.7,1534.0 180.0,1533.0 180.4,1531.5 180.7,1530.5 181.1,1529.5 181.5,1528.3 182.0,1527.0 182.4,1526.0 182.8,1525.0 183.3,1524.0 183.8,1523.0 184.3,1522.0 184.9,1521.0 185.5,1520.1 186.0,1519.4 186.6,1518.5 187.4,1517.5 188.0,1516.9 188.8,1516.0 189.5,1515.3 190.5,1514.5 191.1,1514.0 192.0,1513.4 193.0,1512.8 194.0,1512.3 195.0,1511.8 196.0,1511.4 197.5,1511.0 198.5,1510.8 200.0,1510.6 201.0,1510.5 202.5,1510.4 204.0,1510.5 205.0,1510.6 206.5,1510.7 208.0,1510.9 209.0,1511.1 210.5,1511.3 211.5,1511.5 213.0,1511.8 214.0,1512.1 215.5,1512.5 216.5,1512.8 217.5,1513.1 218.5,1513.5 219.6,1514.0 220.7,1514.5 221.6,1515.0 222.5,1515.5 223.5,1516.1 224.5,1516.8 225.4,1517.5 226.1,1518.0 227.0,1518.7 228.0,1519.5 228.6,1520.0 229.5,1520.7 230.4,1521.5 231.1,1522.0 232.0,1522.7 233.0,1523.5 233.8,1524.0 234.5,1524.5 235.5,1525.1 236.5,1525.7 237.5,1526.2 238.5,1526.8 239.5,1527.3 240.5,1527.7 241.5,1528.2 242.5,1528.7 243.5,1529.1 244.5,1529.6 245.5,1530.0 246.5,1530.5 247.7,1531.0 248.9,1531.5 250.0,1531.9 251.0,1532.3 252.0,1532.7 253.0,1533.0 254.5,1533.5 255.5,1533.8 256.5,1534.0 258.0,1534.4 259.0,1534.7 260.4,1535.0 261.5,1535.3 262.6,1535.5 264.0,1535.8 265.0,1536.0 266.5,1536.4 267.5,1536.6 269.0,1537.0 270.0,1537.3 271.0,1537.6 272.2,1538.0 273.5,1538.5 274.5,1538.9 275.5,1539.4 276.5,1539.9 277.5,1540.4 278.5,1541.0 279.3,1541.5 280.0,1542.0 281.0,1542.7 282.0,1543.4 282.7,1544.0 283.5,1544.6 284.5,1545.5 285.1,1546.0 286.0,1546.8 286.7,1547.5 287.5,1548.5 288.0,1549.3 288.4,1550.5 288.4,1552.0 288.1,1553.5 287.8,1554.5 287.4,1555.5 287.0,1556.6 286.5,1557.7 286.0,1558.8 285.5,1559.8 285.0,1560.7 284.5,1561.6 283.9,1562.5 283.2,1563.5 282.5,1564.5 282.0,1565.1 281.2,1566.0 280.5,1566.7 279.6,1567.5 279.0,1568.0 278.0,1568.8 277.1,1569.5 276.3,1570.0 275.5,1570.5 274.5,1571.1 273.5,1571.6 272.5,1572.1 271.5,1572.5 270.4,1573.0 269.1,1573.5 268.0,1573.9 267.0,1574.2 265.9,1574.5 264.5,1574.9 263.5,1575.1 262.0,1575.4 261.0,1575.6 259.5,1575.9 258.5,1576.0 257.0,1576.2 255.5,1576.3 254.0,1576.4 252.5,1576.5 251.5,1576.5 250.0,1576.5 249.0,1576.5 247.5,1576.4 246.0,1576.3 244.5,1576.2 243.0,1576.0 242.0,1575.9 240.5,1575.6 239.5,1575.4 238.0,1575.1 237.0,1574.9 235.6,1574.5 234.5,1574.2 233.5,1573.9 232.0,1573.5 231.0,1573.2 230.0,1573.0 228.5,1572.7 227.1,1572.5 226.0,1572.5 225.0,1572.5 223.5,1572.8 222.5,1573.2 221.5,1573.6 220.5,1574.1 219.5,1574.6 218.5,1575.2 217.5,1575.8 216.5,1576.4 215.5,1577.0 214.5,1577.5 213.6,1578.0 212.5,1578.5 211.5,1579.0 210.5,1579.3 209.5,1579.7 208.4,1580.0 207.0,1580.3 205.7,1580.5 M206.0,1578.6 204.5,1578.7 203.0,1578.8 201.5,1578.7 200.0,1578.6 199.0,1578.4 197.5,1578.2 196.5,1578.0 195.0,1577.6 194.0,1577.4 192.5,1577.0 191.5,1576.7 190.5,1576.4 189.5,1576.0 188.3,1575.5 187.4,1575.0 186.5,1574.5 185.5,1573.8 184.5,1573.0 183.9,1572.5 183.0,1571.5 182.5,1571.0 181.8,1570.0 181.1,1569.0 180.5,1568.0 180.0,1567.0 179.6,1566.0 179.2,1565.0 178.9,1564.0 178.5,1562.5 178.3,1561.5 178.1,1560.0 178.0,1559.0 177.8,1557.5 177.8,1556.0 177.8,1554.5 177.8,1553.0 177.9,1551.5 178.0,1550.5 178.2,1549.0 178.4,1547.5 178.5,1546.5 178.8,1545.0 179.0,1543.8 179.2,1542.5 179.5,1541.3 179.8,1540.0 180.0,1538.8 180.3,1537.5 180.5,1536.5 180.9,1535.0 181.1,1534.0 181.5,1532.7 181.9,1531.5 182.2,1530.5 182.5,1529.5 183.0,1528.3 183.5,1527.0 183.9,1526.0 184.4,1525.0 184.9,1524.0 185.5,1523.0 186.0,1522.1 186.5,1521.4 187.1,1520.5 187.9,1519.5 188.5,1518.7 189.2,1518.0 190.0,1517.2 190.8,1516.5 191.5,1515.9 192.5,1515.2 193.5,1514.6 194.5,1514.1 195.5,1513.6 196.5,1513.3 197.5,1513.0 199.0,1512.6 200.0,1512.5 201.5,1512.4 203.0,1512.3 204.5,1512.4 205.5,1512.5 207.0,1512.7 208.5,1512.9 209.5,1513.1 211.0,1513.3 212.0,1513.5 213.5,1513.9 214.5,1514.1 215.8,1514.5 217.0,1514.9 218.0,1515.3 219.0,1515.8 220.0,1516.3 221.0,1516.8 222.0,1517.4 222.9,1518.0 223.6,1518.5 224.5,1519.2 225.5,1520.0 226.1,1520.5 227.0,1521.3 227.8,1522.0 228.5,1522.6 229.5,1523.5 230.1,1524.0 231.0,1524.8 231.9,1525.5 232.6,1526.0 233.5,1526.7 234.5,1527.3 235.5,1528.0 236.4,1528.5 237.4,1529.0 238.4,1529.5 239.4,1530.0 240.5,1530.5 241.5,1530.9 242.5,1531.4 243.5,1531.8 244.5,1532.2 245.5,1532.7 246.5,1533.1 247.6,1533.5 248.9,1534.0 250.0,1534.4 251.0,1534.7 252.0,1535.1 253.4,1535.5 254.5,1535.8 255.5,1536.1 257.0,1536.5 258.0,1536.8 259.0,1537.0 260.5,1537.4 261.5,1537.6 263.0,1537.9 264.0,1538.2 265.4,1538.5 266.5,1538.8 267.5,1539.0 269.0,1539.5 270.0,1539.8 271.0,1540.2 272.0,1540.6 273.0,1541.0 274.0,1541.5 275.0,1542.0 276.0,1542.7 277.0,1543.3 277.9,1544.0 278.5,1544.5 279.5,1545.4 280.1,1546.0 281.0,1547.0 281.5,1547.7 282.0,1548.5 282.6,1549.5 283.0,1550.6 283.4,1552.0 283.5,1553.4 283.5,1554.0 283.4,1555.5 283.0,1557.0 282.7,1558.0 282.3,1559.0 281.9,1560.0 281.3,1561.0 280.7,1562.0 280.0,1563.0 279.5,1563.7 278.8,1564.5 278.0,1565.3 277.2,1566.0 276.5,1566.6 275.5,1567.4 274.7,1568.0 273.9,1568.5 273.0,1569.0 272.0,1569.6 271.0,1570.1 270.0,1570.5 268.9,1571.0 267.5,1571.5 266.5,1571.9 265.5,1572.2 264.3,1572.5 263.0,1572.8 262.0,1573.1 260.5,1573.4 259.5,1573.6 258.0,1573.8 256.5,1574.0 255.5,1574.1 254.0,1574.2 252.5,1574.3 251.0,1574.3 249.5,1574.3 248.0,1574.3 246.5,1574.2 245.0,1574.1 244.0,1573.9 242.5,1573.7 241.2,1573.5 240.0,1573.3 238.8,1573.0 237.5,1572.7 236.5,1572.4 235.0,1572.0 234.0,1571.7 233.0,1571.4 231.8,1571.0 230.5,1570.6 229.5,1570.4 228.0,1570.1 227.0,1570.0 225.5,1570.0 224.5,1570.1 223.2,1570.5 222.0,1571.0 221.0,1571.5 220.0,1572.0 219.2,1572.5 218.4,1573.0 217.5,1573.6 216.5,1574.2 215.5,1574.8 214.5,1575.4 213.5,1576.0 212.5,1576.5 211.5,1577.0 210.5,1577.4 209.5,1577.7 208.5,1578.0 207.0,1578.4 206.0,1578.6 M207.0,1576.6 205.5,1576.8 204.0,1576.9 202.5,1577.0 201.0,1576.9 199.5,1576.7 198.4,1576.5 197.0,1576.2 195.9,1576.0 194.5,1575.7 193.5,1575.4 192.0,1575.0 191.0,1574.7 190.0,1574.3 189.0,1573.8 188.0,1573.3 187.0,1572.6 186.1,1572.0 185.5,1571.5 184.5,1570.6 184.0,1570.0 183.2,1569.0 182.5,1568.1 182.0,1567.2 181.5,1566.3 181.0,1565.2 180.5,1564.0 180.2,1563.0 179.9,1562.0 179.6,1560.5 179.5,1559.5 179.3,1558.0 179.2,1556.5 179.1,1555.0 179.1,1553.5 179.2,1552.0 179.3,1550.5 179.5,1549.0 179.6,1548.0 179.8,1546.5 180.0,1545.5 180.3,1544.0 180.5,1542.8 180.8,1541.5 181.0,1540.3 181.3,1539.0 181.5,1538.0 181.8,1536.5 182.1,1535.5 182.5,1534.0 182.8,1533.0 183.1,1532.0 183.5,1530.8 184.0,1529.5 184.3,1528.5 184.8,1527.5 185.2,1526.5 185.7,1525.5 186.3,1524.5 186.9,1523.5 187.5,1522.5 188.0,1521.8 188.6,1521.0 189.5,1520.0 190.0,1519.4 191.0,1518.5 191.5,1518.0 192.5,1517.3 193.5,1516.6 194.5,1516.0 195.5,1515.5 196.5,1515.1 197.5,1514.8 198.8,1514.5 200.0,1514.3 201.5,1514.2 203.0,1514.2 204.5,1514.2 206.0,1514.4 207.0,1514.5 208.5,1514.7 210.0,1515.0 211.0,1515.1 212.5,1515.4 213.5,1515.7 214.6,1516.0 216.0,1516.4 217.0,1516.8 218.0,1517.3 219.0,1517.7 220.0,1518.3 221.0,1518.9 221.9,1519.5 222.6,1520.0 223.5,1520.7 224.5,1521.5 225.0,1522.0 226.0,1522.9 226.7,1523.5 227.5,1524.3 228.2,1525.0 229.0,1525.8 229.8,1526.5 230.5,1527.2 231.4,1528.0 232.0,1528.5 233.0,1529.3 234.0,1530.0 234.9,1530.5 235.7,1531.0 236.7,1531.5 237.7,1532.0 238.8,1532.5 239.9,1533.0 241.0,1533.4 242.0,1533.8 243.0,1534.2 244.0,1534.6 245.0,1535.0 246.3,1535.5 247.5,1535.9 248.5,1536.3 249.5,1536.6 250.7,1537.0 252.0,1537.4 253.0,1537.7 254.1,1538.0 255.5,1538.4 256.5,1538.7 257.9,1539.0 259.0,1539.3 260.0,1539.5 261.5,1539.9 262.5,1540.1 264.0,1540.5 265.0,1540.8 266.0,1541.0 267.5,1541.5 268.5,1541.9 269.5,1542.2 270.5,1542.7 271.5,1543.1 272.5,1543.6 273.5,1544.2 274.5,1544.9 275.3,1545.5 276.0,1546.1 276.9,1547.0 277.5,1547.7 278.1,1548.5 278.7,1549.5 279.2,1550.5 279.5,1551.5 279.9,1553.0 280.0,1554.5 279.8,1556.0 279.5,1557.5 279.2,1558.5 278.7,1559.5 278.2,1560.5 277.6,1561.5 277.0,1562.3 276.4,1563.0 275.5,1563.9 274.9,1564.5 274.0,1565.3 273.0,1566.0 272.3,1566.5 271.5,1567.0 270.5,1567.6 269.5,1568.1 268.5,1568.5 267.4,1569.0 266.1,1569.5 265.0,1569.9 264.0,1570.2 263.0,1570.5 261.5,1570.9 260.5,1571.1 259.0,1571.4 258.0,1571.6 256.5,1571.8 255.0,1572.0 254.0,1572.0 252.5,1572.1 251.0,1572.2 249.5,1572.2 248.0,1572.1 246.5,1572.1 245.5,1572.0 244.0,1571.8 242.5,1571.6 241.5,1571.4 240.0,1571.1 239.0,1570.8 237.8,1570.5 236.5,1570.1 235.5,1569.8 234.5,1569.5 233.1,1569.0 232.0,1568.6 231.0,1568.3 230.0,1568.0 228.5,1567.6 227.5,1567.5 226.0,1567.5 225.0,1567.6 223.5,1568.0 222.5,1568.4 221.5,1568.9 220.5,1569.4 219.6,1570.0 218.9,1570.5 218.0,1571.1 217.0,1571.8 216.0,1572.5 215.2,1573.0 214.4,1573.5 213.5,1574.0 212.5,1574.6 211.5,1575.1 210.5,1575.5 209.2,1576.0 208.0,1576.3 207.0,1576.6 M205.5,1575.1 204.0,1575.2 202.5,1575.2 201.0,1575.1 200.0,1575.0 198.5,1574.7 197.3,1574.5 196.0,1574.2 195.0,1574.0 193.5,1573.6 192.5,1573.3 191.5,1573.0 190.4,1572.5 189.4,1572.0 188.5,1571.5 187.5,1570.9 186.5,1570.1 185.9,1569.5 185.0,1568.6 184.5,1568.0 183.8,1567.0 183.1,1566.0 182.6,1565.0 182.2,1564.0 181.8,1563.0 181.5,1562.0 181.1,1560.5 180.9,1559.5 180.7,1558.0 180.5,1556.5 180.5,1555.5 180.4,1554.0 180.5,1552.5 180.5,1551.5 180.7,1550.0 180.8,1548.5 181.0,1547.2 181.2,1546.0 181.4,1544.5 181.6,1543.5 181.9,1542.0 182.1,1541.0 182.4,1539.5 182.7,1538.5 183.0,1537.0 183.3,1536.0 183.5,1535.0 183.9,1533.5 184.3,1532.5 184.6,1531.5 185.0,1530.4 185.5,1529.1 186.0,1528.0 186.5,1527.0 187.0,1526.0 187.5,1525.1 188.0,1524.3 188.6,1523.5 189.3,1522.5 190.0,1521.7 190.6,1521.0 191.5,1520.1 192.2,1519.5 193.0,1518.9 194.0,1518.2 195.0,1517.7 196.0,1517.2 197.0,1516.8 198.0,1516.5 199.5,1516.2 200.7,1516.0 202.0,1515.9 203.5,1515.9 204.7,1516.0 206.0,1516.1 207.5,1516.3 208.6,1516.5 210.0,1516.7 211.5,1517.0 212.5,1517.2 213.6,1517.5 215.0,1517.9 216.0,1518.3 217.0,1518.7 218.0,1519.2 219.0,1519.7 220.0,1520.3 221.0,1521.0 221.7,1521.5 222.5,1522.1 223.5,1523.0 224.0,1523.5 225.0,1524.4 225.5,1525.0 226.5,1526.0 227.0,1526.6 227.9,1527.5 228.5,1528.2 229.2,1529.0 230.0,1529.8 230.7,1530.5 231.5,1531.2 232.5,1532.0 233.1,1532.5 234.0,1533.1 235.0,1533.7 236.0,1534.2 237.0,1534.6 238.0,1535.1 239.1,1535.5 240.5,1536.0 241.5,1536.3 242.5,1536.7 243.5,1537.0 244.9,1537.5 246.0,1537.9 247.0,1538.2 248.0,1538.5 249.5,1539.0 250.5,1539.3 251.5,1539.6 253.0,1540.0 254.0,1540.3 255.0,1540.6 256.5,1540.9 257.5,1541.2 258.7,1541.5 260.0,1541.8 261.0,1542.1 262.5,1542.5 263.5,1542.8 264.5,1543.1 265.7,1543.5 267.0,1544.0 268.0,1544.4 269.0,1544.8 270.0,1545.3 271.0,1545.9 271.8,1546.5 272.5,1547.0 273.5,1547.9 274.1,1548.5 274.8,1549.5 275.5,1550.5 275.9,1551.5 276.2,1552.5 276.5,1554.0 276.5,1555.0 276.4,1556.0 276.1,1557.5 275.7,1558.5 275.2,1559.5 274.6,1560.5 274.0,1561.3 273.4,1562.0 272.5,1562.9 271.8,1563.5 271.0,1564.1 270.0,1564.8 269.0,1565.5 268.0,1566.0 267.0,1566.5 266.0,1567.0 265.0,1567.4 264.0,1567.7 263.0,1568.1 261.5,1568.5 260.5,1568.8 259.5,1569.0 258.0,1569.3 256.9,1569.5 255.5,1569.7 254.0,1569.9 252.5,1570.0 251.5,1570.0 250.0,1570.1 248.5,1570.0 247.5,1570.0 246.0,1569.9 244.5,1569.7 243.2,1569.5 242.0,1569.3 240.7,1569.0 239.5,1568.7 238.5,1568.4 237.1,1568.0 236.0,1567.6 235.0,1567.2 234.0,1566.9 233.0,1566.5 231.8,1566.0 230.5,1565.5 229.5,1565.2 228.5,1565.0 227.0,1564.8 225.5,1564.9 224.5,1565.1 223.4,1565.5 222.4,1566.0 221.5,1566.5 220.5,1567.1 219.5,1567.8 218.6,1568.5 217.9,1569.0 217.0,1569.7 216.0,1570.4 215.2,1571.0 214.5,1571.5 213.5,1572.1 212.5,1572.7 211.5,1573.2 210.5,1573.7 209.5,1574.1 208.2,1574.5 207.0,1574.8 206.0,1575.0 M206.5,1573.0 205.0,1573.3 203.5,1573.3 202.0,1573.3 200.5,1573.2 199.4,1573.0 198.0,1572.7 196.9,1572.5 195.5,1572.2 194.5,1571.9 193.0,1571.5 192.0,1571.1 191.0,1570.7 190.0,1570.2 189.0,1569.6 188.2,1569.0 187.5,1568.5 186.5,1567.5 186.0,1567.0 185.2,1566.0 184.6,1565.0 184.0,1564.0 183.6,1563.0 183.2,1562.0 182.8,1561.0 182.5,1559.7 182.2,1558.5 182.0,1557.0 181.9,1556.0 181.9,1554.5 181.9,1553.0 181.9,1551.5 182.0,1550.3 182.1,1549.0 182.3,1547.5 182.5,1546.3 182.7,1545.0 183.0,1543.5 183.2,1542.5 183.5,1541.0 183.7,1540.0 184.0,1538.6 184.3,1537.5 184.5,1536.5 184.9,1535.0 185.2,1534.0 185.5,1533.0 186.0,1531.7 186.5,1530.5 186.9,1529.5 187.4,1528.5 187.9,1527.5 188.4,1526.5 189.0,1525.6 189.5,1524.8 190.1,1524.0 191.0,1523.0 191.5,1522.4 192.5,1521.5 193.1,1521.0 194.0,1520.3 195.0,1519.7 196.0,1519.2 197.0,1518.8 198.0,1518.4 199.5,1518.1 200.5,1517.9 202.0,1517.8 203.5,1517.8 205.0,1517.9 206.0,1518.0 207.5,1518.2 209.0,1518.4 210.0,1518.6 211.5,1518.9 212.5,1519.1 213.9,1519.5 215.0,1519.9 216.0,1520.3 217.0,1520.7 218.0,1521.3 219.0,1521.9 219.9,1522.5 220.6,1523.0 221.5,1523.8 222.3,1524.5 223.0,1525.2 223.8,1526.0 224.5,1526.8 225.1,1527.5 225.9,1528.5 226.5,1529.3 227.1,1530.0 227.8,1531.0 228.5,1531.8 229.0,1532.5 229.9,1533.5 230.5,1534.2 231.3,1535.0 232.0,1535.6 233.0,1536.3 234.0,1536.9 235.0,1537.4 236.0,1537.8 237.0,1538.1 238.3,1538.5 239.5,1538.9 240.5,1539.1 241.8,1539.5 243.0,1539.8 244.0,1540.1 245.5,1540.5 246.5,1540.8 247.5,1541.1 249.0,1541.5 250.0,1541.8 251.0,1542.1 252.5,1542.5 253.5,1542.7 254.5,1543.0 256.0,1543.4 257.0,1543.7 258.0,1544.0 259.5,1544.4 260.5,1544.7 261.5,1545.0 262.9,1545.5 264.0,1545.9 265.0,1546.3 266.0,1546.8 267.0,1547.3 268.0,1547.9 268.8,1548.5 269.5,1549.0 270.5,1550.0 271.0,1550.7 271.5,1551.5 272.0,1552.5 272.4,1554.0 272.4,1555.5 272.1,1557.0 271.7,1558.0 271.2,1559.0 270.5,1560.0 270.0,1560.6 269.1,1561.5 268.5,1562.0 267.5,1562.8 266.5,1563.4 265.5,1564.0 264.5,1564.5 263.5,1564.9 262.5,1565.3 261.5,1565.7 260.5,1566.0 259.0,1566.5 258.0,1566.7 256.5,1567.0 255.5,1567.2 254.0,1567.4 252.6,1567.5 251.5,1567.6 250.0,1567.6 248.5,1567.6 247.0,1567.5 246.0,1567.4 244.5,1567.2 243.1,1567.0 242.0,1566.8 240.8,1566.5 239.5,1566.1 238.5,1565.8 237.5,1565.4 236.4,1565.0 235.2,1564.5 234.1,1564.0 233.0,1563.5 232.0,1563.0 231.0,1562.6 230.0,1562.2 229.0,1561.9 227.5,1561.6 226.0,1561.7 224.7,1562.0 223.6,1562.5 222.7,1563.0 221.9,1563.5 221.0,1564.1 220.0,1564.9 219.3,1565.5 218.5,1566.2 217.5,1567.0 216.9,1567.5 216.0,1568.2 215.0,1569.0 214.3,1569.5 213.5,1570.0 212.5,1570.7 211.5,1571.2 210.5,1571.7 209.5,1572.2 208.5,1572.5 207.0,1572.9 M205.0,1571.5 203.5,1571.6 202.0,1571.6 200.9,1571.5 199.5,1571.3 198.0,1571.0 197.0,1570.8 195.8,1570.5 194.5,1570.1 193.5,1569.8 192.5,1569.5 191.5,1569.0 190.5,1568.5 189.5,1567.8 188.5,1567.1 187.9,1566.5 187.0,1565.6 186.5,1565.0 185.8,1564.0 185.3,1563.0 184.8,1562.0 184.4,1561.0 184.0,1559.8 183.7,1558.5 183.5,1557.5 183.3,1556.0 183.2,1554.5 183.2,1553.0 183.2,1551.5 183.3,1550.0 183.4,1548.5 183.6,1547.5 183.8,1546.0 184.0,1544.8 184.2,1543.5 184.5,1542.2 184.7,1541.0 185.0,1539.8 185.3,1538.5 185.5,1537.5 185.9,1536.0 186.2,1535.0 186.5,1534.0 187.0,1532.7 187.4,1531.5 187.9,1530.5 188.3,1529.5 188.9,1528.5 189.4,1527.5 190.0,1526.6 190.5,1525.9 191.2,1525.0 192.0,1524.1 192.6,1523.5 193.5,1522.7 194.4,1522.0 195.2,1521.5 196.1,1521.0 197.2,1520.5 198.5,1520.1 199.5,1519.8 201.0,1519.6 202.5,1519.5 204.0,1519.5 205.5,1519.7 207.0,1519.9 208.0,1520.0 209.5,1520.2 211.0,1520.5 212.0,1520.7 213.0,1521.0 214.5,1521.5 215.5,1521.9 216.5,1522.4 217.5,1522.9 218.4,1523.5 219.1,1524.0 220.0,1524.7 220.9,1525.5 221.5,1526.1 222.3,1527.0 223.0,1527.8 223.6,1528.5 224.3,1529.5 225.0,1530.5 225.5,1531.3 226.0,1532.1 226.6,1533.0 227.2,1534.0 227.8,1535.0 228.4,1536.0 229.0,1536.9 229.5,1537.6 230.2,1538.5 231.0,1539.3 231.9,1540.0 232.7,1540.5 233.9,1541.0 235.0,1541.3 236.0,1541.5 237.5,1541.8 238.8,1542.0 240.0,1542.2 241.5,1542.4 242.5,1542.6 244.0,1542.9 245.0,1543.2 246.4,1543.5 247.5,1543.8 248.5,1544.0 250.0,1544.4 251.0,1544.7 252.2,1545.0 253.5,1545.4 254.5,1545.7 255.6,1546.0 257.0,1546.4 258.0,1546.8 259.0,1547.1 260.0,1547.5 261.2,1548.0 262.3,1548.5 263.3,1549.0 264.1,1549.5 265.0,1550.1 266.0,1551.0 266.5,1551.5 267.2,1552.5 267.7,1553.5 267.9,1555.0 267.7,1556.5 267.4,1557.5 266.8,1558.5 266.0,1559.5 265.5,1560.0 264.5,1560.8 263.5,1561.5 262.7,1562.0 261.7,1562.5 260.6,1563.0 259.5,1563.4 258.5,1563.8 257.5,1564.1 256.0,1564.4 255.0,1564.6 253.5,1564.9 252.5,1565.0 251.0,1565.1 249.5,1565.2 248.0,1565.1 246.5,1565.0 245.5,1564.9 244.0,1564.7 243.0,1564.5 241.5,1564.1 240.5,1563.8 239.5,1563.4 238.4,1563.0 237.3,1562.5 236.3,1562.0 235.3,1561.5 234.4,1561.0 233.5,1560.4 232.5,1559.8 231.5,1559.2 230.5,1558.7 229.5,1558.3 228.3,1558.0 227.0,1558.0 226.0,1558.2 225.0,1558.6 224.0,1559.1 223.0,1559.8 222.1,1560.5 221.5,1561.0 220.5,1561.9 219.9,1562.5 219.0,1563.4 218.3,1564.0 217.5,1564.8 216.7,1565.5 216.0,1566.1 215.0,1567.0 214.3,1567.5 213.5,1568.1 212.5,1568.8 211.5,1569.4 210.5,1569.9 209.5,1570.4 208.5,1570.8 207.5,1571.1 206.0,1571.4 205.0,1571.5 M206.0,1569.5 204.5,1569.7 203.0,1569.8 201.5,1569.7 200.2,1569.5 199.0,1569.3 197.7,1569.0 196.5,1568.7 195.5,1568.5 194.1,1568.0 193.0,1567.6 192.0,1567.1 191.0,1566.6 190.2,1566.0 189.5,1565.5 188.5,1564.5 188.0,1563.9 187.3,1563.0 186.7,1562.0 186.2,1561.0 185.8,1560.0 185.4,1559.0 185.1,1557.5 184.9,1556.5 184.7,1555.0 184.6,1553.5 184.6,1552.0 184.6,1550.5 184.8,1549.0 184.9,1547.5 185.1,1546.5 185.3,1545.0 185.5,1544.0 185.8,1542.5 186.0,1541.5 186.3,1540.0 186.6,1539.0 186.9,1537.5 187.2,1536.5 187.5,1535.5 188.0,1534.0 188.4,1533.0 188.8,1532.0 189.2,1531.0 189.7,1530.0 190.3,1529.0 190.9,1528.0 191.5,1527.2 192.0,1526.5 192.9,1525.5 193.5,1525.0 194.5,1524.1 195.4,1523.5 196.2,1523.0 197.2,1522.5 198.5,1522.0 199.5,1521.8 201.0,1521.5 202.0,1521.4 203.5,1521.4 204.8,1521.5 206.0,1521.6 207.5,1521.8 208.9,1522.0 210.0,1522.2 211.5,1522.5 212.5,1522.8 213.5,1523.1 214.5,1523.5 215.6,1524.0 216.5,1524.5 217.5,1525.2 218.5,1525.9 219.2,1526.5 220.0,1527.3 220.7,1528.0 221.5,1529.0 222.0,1529.7 222.6,1530.5 223.2,1531.5 223.7,1532.5 224.2,1533.5 224.7,1534.5 225.2,1535.5 225.6,1536.5 226.0,1537.7 226.5,1539.0 226.8,1540.0 227.1,1541.0 227.5,1542.4 227.8,1543.5 228.1,1544.5 228.5,1546.0 228.6,1547.0 228.7,1548.5 228.3,1549.5 227.6,1550.5 227.0,1551.2 226.3,1552.0 225.5,1552.9 225.0,1553.5 224.1,1554.5 223.5,1555.2 222.8,1556.0 222.0,1557.0 221.5,1557.5 220.7,1558.5 220.0,1559.3 219.4,1560.0 218.5,1561.0 218.0,1561.6 217.2,1562.5 216.5,1563.2 215.7,1564.0 215.0,1564.7 214.0,1565.5 213.4,1566.0 212.5,1566.7 211.5,1567.3 210.5,1567.9 209.5,1568.4 208.5,1568.8 207.5,1569.2 206.1,1569.5 M253.0,1561.6 251.5,1561.8 250.0,1561.9 248.5,1561.9 247.0,1561.9 245.5,1561.7 244.5,1561.5 243.0,1561.1 242.0,1560.8 241.0,1560.4 240.0,1560.0 239.0,1559.4 238.0,1558.8 237.0,1558.1 236.3,1557.5 235.5,1556.7 234.8,1556.0 234.0,1555.0 233.5,1554.3 233.0,1553.5 232.5,1552.5 232.0,1551.0 232.0,1550.3 232.5,1549.1 233.1,1548.5 234.0,1547.9 235.0,1547.4 236.2,1547.0 237.5,1546.7 238.8,1546.5 240.0,1546.4 241.5,1546.4 243.0,1546.5 244.0,1546.6 245.5,1546.8 246.6,1547.0 248.0,1547.3 249.0,1547.5 250.5,1548.0 251.5,1548.2 252.5,1548.6 253.7,1549.0 255.0,1549.5 256.0,1549.9 257.0,1550.4 258.0,1551.0 258.8,1551.5 259.5,1552.0 260.5,1553.0 261.0,1553.9 261.3,1555.0 261.2,1556.5 260.6,1557.5 260.0,1558.3 259.2,1559.0 258.5,1559.5 257.5,1560.0 256.5,1560.5 255.2,1561.0 254.0,1561.3 253.0,1561.6 M206.5,1567.6 205.0,1567.9 203.5,1568.0 202.0,1567.9 200.5,1567.7 199.4,1567.5 198.0,1567.2 197.0,1567.0 195.5,1566.5 194.5,1566.2 193.5,1565.8 192.5,1565.3 191.5,1564.7 190.6,1564.0 190.0,1563.5 189.1,1562.5 188.5,1561.7 188.0,1560.9 187.5,1559.9 187.0,1558.7 186.6,1557.5 186.4,1556.5 186.1,1555.0 186.0,1553.5 186.0,1552.5 186.0,1551.0 186.0,1550.0 186.2,1548.5 186.3,1547.0 186.5,1546.0 186.8,1544.5 187.0,1543.3 187.3,1542.0 187.5,1540.8 187.8,1539.5 188.0,1538.5 188.5,1537.0 188.8,1536.0 189.1,1535.0 189.5,1533.9 190.0,1532.7 190.5,1531.6 191.0,1530.7 191.5,1529.9 192.1,1529.0 192.8,1528.0 193.5,1527.2 194.2,1526.5 195.0,1525.9 196.0,1525.1 197.0,1524.6 198.0,1524.1 199.0,1523.8 200.1,1523.5 201.5,1523.3 203.0,1523.2 204.5,1523.3 206.0,1523.4 207.0,1523.6 208.5,1523.7 210.0,1524.0 211.0,1524.2 212.0,1524.5 213.5,1525.0 214.5,1525.5 215.5,1526.0 216.3,1526.5 217.0,1527.0 218.0,1527.9 218.7,1528.5 219.5,1529.4 220.0,1530.1 220.6,1531.0 221.3,1532.0 221.8,1533.0 222.3,1534.0 222.7,1535.0 223.0,1536.0 223.5,1537.5 223.7,1538.5 224.0,1540.0 224.1,1541.0 224.2,1542.5 224.2,1544.0 224.1,1545.5 223.9,1546.5 223.6,1548.0 223.3,1549.0 222.9,1550.0 222.5,1551.1 222.0,1552.2 221.5,1553.2 221.0,1554.1 220.5,1555.0 219.9,1556.0 219.2,1557.0 218.5,1558.0 218.0,1558.7 217.4,1559.5 216.6,1560.5 216.0,1561.2 215.3,1562.0 214.5,1562.8 213.8,1563.5 213.0,1564.2 212.0,1565.0 211.3,1565.5 210.5,1566.0 209.5,1566.5 208.4,1567.0 207.0,1567.5 M248.0,1556.5 246.9,1556.5 245.5,1556.2 244.5,1555.7 243.7,1555.0 243.3,1554.0 243.9,1553.0 245.0,1552.6 246.5,1552.6 248.0,1552.9 249.0,1553.4 249.9,1554.0 250.4,1555.0 249.7,1556.0 248.5,1556.4 M206.5,1565.5 205.0,1565.8 203.5,1565.9 202.0,1565.8 200.5,1565.6 199.5,1565.4 198.0,1565.1 197.0,1564.8 196.0,1564.5 194.7,1564.0 193.6,1563.5 192.8,1563.0 192.0,1562.4 191.0,1561.5 190.5,1561.0 189.8,1560.0 189.2,1559.0 188.7,1558.0 188.3,1557.0 188.0,1555.7 187.8,1554.5 187.6,1553.0 187.6,1551.5 187.6,1550.0 187.7,1548.5 187.9,1547.0 188.0,1546.0 188.3,1544.5 188.5,1543.4 188.8,1542.0 189.0,1541.0 189.3,1539.5 189.6,1538.5 190.0,1537.1 190.4,1536.0 190.7,1535.0 191.2,1534.0 191.6,1533.0 192.2,1532.0 192.8,1531.0 193.5,1530.0 194.0,1529.4 194.8,1528.5 195.5,1527.9 196.5,1527.2 197.5,1526.6 198.5,1526.1 199.5,1525.8 200.8,1525.5 202.0,1525.4 203.5,1525.3 205.0,1525.4 206.0,1525.5 207.5,1525.7 209.0,1525.9 210.0,1526.1 211.5,1526.5 212.5,1526.8 213.5,1527.2 214.5,1527.8 215.5,1528.4 216.2,1529.0 217.0,1529.7 217.7,1530.5 218.5,1531.5 219.0,1532.3 219.5,1533.2 220.0,1534.2 220.5,1535.4 220.8,1536.5 221.1,1537.5 221.4,1539.0 221.5,1540.3 221.6,1541.5 221.5,1543.0 221.5,1544.0 221.3,1545.5 221.0,1546.8 220.7,1548.0 220.4,1549.0 220.0,1550.2 219.5,1551.5 219.1,1552.5 218.7,1553.5 218.2,1554.5 217.7,1555.5 217.1,1556.5 216.5,1557.4 216.0,1558.2 215.4,1559.0 214.6,1560.0 214.0,1560.7 213.2,1561.5 212.5,1562.2 211.5,1563.0 210.8,1563.5 210.0,1564.0 209.0,1564.6 208.0,1565.0 206.6,1565.5 M206.0,1563.5 204.5,1563.8 203.0,1563.8 201.5,1563.6 200.5,1563.5 199.0,1563.1 198.0,1562.8 196.8,1562.5 195.5,1562.0 194.5,1561.5 193.7,1561.0 193.0,1560.5 192.0,1559.5 191.5,1558.9 190.9,1558.0 190.4,1557.0 190.0,1556.0 189.6,1554.5 189.4,1553.5 189.2,1552.0 189.2,1550.5 189.3,1549.0 189.4,1547.5 189.5,1546.5 189.8,1545.0 190.0,1543.8 190.3,1542.5 190.5,1541.4 190.8,1540.0 191.1,1539.0 191.5,1537.7 191.9,1536.5 192.3,1535.5 192.8,1534.5 193.3,1533.5 193.9,1532.5 194.5,1531.7 195.1,1531.0 196.0,1530.1 196.7,1529.5 197.5,1529.0 198.5,1528.4 199.6,1528.0 201.0,1527.7 202.4,1527.5 203.5,1527.5 204.5,1527.5 206.0,1527.6 207.5,1527.8 209.0,1528.0 210.0,1528.2 211.0,1528.5 212.3,1529.0 213.3,1529.5 214.1,1530.0 215.0,1530.7 215.8,1531.5 216.5,1532.3 217.0,1533.0 217.6,1534.0 218.1,1535.0 218.5,1536.1 218.9,1537.5 219.1,1538.5 219.3,1540.0 219.3,1541.5 219.3,1543.0 219.1,1544.5 219.0,1545.5 218.6,1547.0 218.4,1548.0 218.0,1549.3 217.6,1550.5 217.3,1551.5 216.9,1552.5 216.4,1553.5 216.0,1554.5 215.4,1555.5 214.8,1556.5 214.1,1557.5 213.5,1558.4 213.0,1559.0 212.1,1560.0 211.5,1560.5 210.5,1561.4 209.6,1562.0 208.7,1562.5 207.7,1563.0 206.5,1563.4 M204.5,1561.5 203.0,1561.5 202.0,1561.4 200.5,1561.1 199.5,1560.9 198.3,1560.5 197.0,1560.1 196.0,1559.6 195.0,1559.0 194.3,1558.5 193.5,1557.7 192.9,1557.0 192.3,1556.0 191.8,1555.0 191.5,1554.0 191.2,1552.5 191.0,1551.0 191.0,1550.0 191.0,1549.0 191.1,1547.5 191.3,1546.0 191.5,1545.0 191.8,1543.5 192.0,1542.5 192.3,1541.0 192.6,1540.0 193.0,1538.7 193.4,1537.5 193.8,1536.5 194.3,1535.5 194.9,1534.5 195.5,1533.7 196.0,1533.0 197.0,1532.0 197.7,1531.5 198.5,1531.0 199.5,1530.5 201.0,1530.0 202.0,1529.9 203.5,1529.8 205.0,1529.8 206.5,1529.9 207.5,1530.0 209.0,1530.3 210.0,1530.5 211.2,1531.0 212.2,1531.5 213.0,1532.0 214.0,1532.9 214.6,1533.5 215.3,1534.5 215.9,1535.5 216.3,1536.5 216.7,1537.5 217.0,1539.0 217.1,1540.0 217.2,1541.5 217.1,1543.0 217.0,1544.3 216.8,1545.5 216.5,1546.9 216.2,1548.0 215.9,1549.0 215.5,1550.4 215.1,1551.5 214.7,1552.5 214.2,1553.5 213.7,1554.5 213.1,1555.5 212.5,1556.4 212.0,1557.1 211.2,1558.0 210.5,1558.7 209.6,1559.5 208.8,1560.0 208.0,1560.5 206.8,1561.0 205.5,1561.4 204.5,1561.5 M206.0,1558.6 204.5,1558.9 203.0,1558.9 201.5,1558.7 200.5,1558.4 199.2,1558.0 198.0,1557.5 197.0,1557.0 196.2,1556.5 195.5,1555.9 194.7,1555.0 194.1,1554.0 193.7,1553.0 193.4,1552.0 193.2,1550.5 193.1,1549.0 193.2,1547.5 193.4,1546.0 193.5,1545.0 193.8,1543.5 194.0,1542.5 194.4,1541.0 194.7,1540.0 195.1,1539.0 195.5,1538.0 196.0,1537.0 196.6,1536.0 197.5,1535.0 198.0,1534.5 199.0,1533.7 200.0,1533.2 201.0,1532.8 202.5,1532.5 203.5,1532.5 205.0,1532.5 206.1,1532.5 207.5,1532.6 209.0,1532.9 210.0,1533.3 211.0,1533.8 212.0,1534.5 212.5,1535.0 213.3,1536.0 213.9,1537.0 214.3,1538.0 214.6,1539.0 214.9,1540.5 214.9,1542.0 214.9,1543.5 214.7,1545.0 214.5,1546.0 214.1,1547.5 213.8,1548.5 213.5,1549.6 213.0,1551.0 212.6,1552.0 212.1,1553.0 211.5,1554.0 211.0,1554.8 210.5,1555.5 209.5,1556.5 209.0,1557.0 208.0,1557.7 207.0,1558.3 206.0,1558.6 M205.0,1555.5 203.5,1555.6 202.5,1555.4 201.2,1555.0 200.0,1554.5 199.0,1554.0 198.3,1553.5 197.5,1552.8 196.9,1552.0 196.4,1551.0 196.1,1549.5 196.0,1548.5 196.0,1547.5 196.2,1546.0 196.4,1544.5 196.6,1543.5 197.0,1542.0 197.3,1541.0 197.8,1540.0 198.3,1539.0 199.0,1538.1 199.6,1537.5 200.5,1536.9 201.5,1536.4 203.0,1536.1 204.0,1535.9 205.5,1535.8 207.0,1535.9 208.0,1536.1 209.0,1536.5 210.0,1537.1 210.8,1538.0 211.5,1539.0 211.8,1540.0 212.1,1541.0 212.2,1542.5 212.1,1544.0 212.0,1545.0 211.7,1546.5 211.4,1547.5 211.0,1548.8 210.6,1550.0 210.1,1551.0 209.6,1552.0 209.0,1552.8 208.5,1553.5 207.5,1554.4 206.5,1555.0 205.5,1555.4 M205.5,1551.6 204.0,1551.8 203.0,1551.5 202.0,1550.9 201.0,1550.0 200.5,1549.4 200.0,1548.3 199.8,1547.0 199.9,1545.5 200.1,1544.5 200.5,1543.1 201.0,1542.1 201.5,1541.4 202.5,1540.6 203.5,1540.1 204.5,1539.8 206.0,1539.5 207.5,1539.9 208.3,1540.5 209.0,1541.5 209.2,1542.5 209.3,1544.0 209.1,1545.5 208.8,1546.5 208.5,1547.6 208.0,1548.9 207.5,1549.8 207.0,1550.5 206.0,1551.3" fill="none" stroke="#85878a" stroke-width="1.0" stroke-linejoin="round"/>
<path d="M204.5,1574.0 203.0,1574.1 201.5,1574.0 200.5,1574.0 199.0,1573.7 197.7,1573.5 196.5,1573.3 195.4,1573.0 194.0,1572.7 193.0,1572.4 191.9,1572.0 190.7,1571.5 189.7,1571.0 188.8,1570.5 188.0,1569.9 187.0,1569.2 186.3,1568.5 185.5,1567.7 185.0,1567.0 184.3,1566.0 183.7,1565.0 183.2,1564.0 182.7,1563.0 182.4,1562.0 182.0,1560.7 181.7,1559.5 181.5,1558.1 181.4,1557.0 181.2,1555.5 181.2,1554.0 181.2,1552.5 181.3,1551.0 181.4,1549.5 181.6,1548.5 181.8,1547.0 182.0,1545.5 182.2,1544.5 182.5,1543.0 182.7,1542.0 183.0,1540.5 183.2,1539.5 183.5,1538.1 183.8,1537.0 184.0,1536.0 184.4,1534.5 184.7,1533.5 185.0,1532.5 185.5,1531.2 186.0,1530.0 186.4,1529.0 186.9,1528.0 187.4,1527.0 187.9,1526.0 188.5,1525.1 189.0,1524.3 189.6,1523.5 190.4,1522.5 191.0,1521.9 191.9,1521.0 192.5,1520.5 193.5,1519.7 194.5,1519.1 195.5,1518.5 196.5,1518.1 197.5,1517.7 198.5,1517.5 200.0,1517.2 201.5,1517.1 203.0,1517.1 204.5,1517.2 206.0,1517.4 207.0,1517.6 208.5,1517.9 209.5,1518.1 211.0,1518.5 212.0,1518.8 213.0,1519.1 214.0,1519.5 215.0,1520.0 216.0,1520.6 217.0,1521.3 217.9,1522.0 218.5,1522.5 219.4,1523.5 220.0,1524.2 220.6,1525.0 221.2,1526.0 221.8,1527.0 M221.6,1561.0 221.0,1561.9 220.5,1562.6 219.9,1563.5 219.1,1564.5 218.5,1565.3 217.9,1566.0 217.0,1567.0 216.5,1567.6 215.6,1568.5 215.0,1569.0 214.0,1569.9 213.3,1570.5 212.5,1571.0 211.5,1571.7 210.5,1572.3 209.5,1572.7 208.5,1573.1 207.3,1573.5 206.0,1573.8 204.7,1574.0 M206.0,1572.0 204.5,1572.3 203.0,1572.3 201.5,1572.3 200.0,1572.1 199.0,1572.0 197.5,1571.7 196.5,1571.5 195.0,1571.1 194.0,1570.8 192.9,1570.5 191.7,1570.0 190.6,1569.5 189.7,1569.0 189.0,1568.5 188.0,1567.7 187.2,1567.0 186.5,1566.2 185.9,1565.5 185.2,1564.5 184.7,1563.5 184.2,1562.5 183.8,1561.5 183.5,1560.5 183.1,1559.0 182.9,1558.0 182.7,1556.5 182.6,1555.0 182.5,1553.5 182.5,1552.0 182.6,1550.5 182.8,1549.0 183.0,1547.5 183.1,1546.5 183.4,1545.0 183.5,1544.0 183.8,1542.5 184.0,1541.5 184.3,1540.0 184.6,1539.0 184.9,1537.5 185.2,1536.5 185.5,1535.3 185.9,1534.0 186.2,1533.0 186.6,1532.0 187.0,1530.9 187.5,1529.8 188.0,1528.7 188.5,1527.8 189.0,1526.9 189.6,1526.0 190.3,1525.0 191.0,1524.1 191.6,1523.5 192.5,1522.6 193.2,1522.0 194.0,1521.4 195.0,1520.7 196.0,1520.2 197.0,1519.8 198.0,1519.4 199.5,1519.1 200.5,1518.9 202.0,1518.8 203.5,1518.9 204.7,1519.0 206.0,1519.2 207.5,1519.5 208.5,1519.7 209.9,1520.0 211.0,1520.3 212.0,1520.6 213.0,1521.0 214.0,1521.5 215.0,1522.0 216.0,1522.7 217.0,1523.5 217.6,1524.0 218.5,1525.0 219.0,1525.6 219.6,1526.5 220.3,1527.5 220.8,1528.5 221.3,1529.5 221.7,1530.5 M221.8,1556.5 221.4,1557.5 220.9,1558.5 220.4,1559.5 219.8,1560.5 219.2,1561.5 218.5,1562.5 218.0,1563.3 217.5,1564.0 216.7,1565.0 216.0,1565.8 215.3,1566.5 214.5,1567.4 213.8,1568.0 213.0,1568.7 212.0,1569.4 211.1,1570.0 210.3,1570.5 209.3,1571.0 208.0,1571.5 207.0,1571.8 206.0,1572.0 M206.5,1570.0 205.0,1570.3 203.5,1570.4 202.0,1570.4 200.5,1570.3 199.0,1570.1 198.0,1569.9 196.5,1569.5 195.5,1569.3 194.5,1569.0 193.1,1568.5 192.0,1568.0 191.0,1567.5 190.2,1567.0 189.5,1566.5 188.5,1565.7 187.9,1565.0 187.0,1564.0 186.5,1563.2 186.0,1562.3 185.5,1561.3 185.0,1560.0 184.7,1559.0 184.5,1558.0 184.2,1556.5 184.0,1555.0 184.0,1554.0 183.9,1552.5 184.0,1551.0 184.1,1550.0 184.2,1548.5 184.4,1547.0 184.6,1546.0 184.8,1544.5 185.0,1543.5 185.3,1542.0 185.5,1541.0 185.8,1539.5 186.1,1538.5 186.4,1537.0 186.7,1536.0 187.0,1535.0 187.5,1533.6 187.9,1532.5 188.3,1531.5 188.8,1530.5 189.3,1529.5 189.8,1528.5 190.4,1527.5 191.0,1526.7 191.6,1526.0 192.4,1525.0 193.0,1524.4 194.0,1523.6 194.8,1523.0 195.5,1522.5 196.5,1522.0 197.7,1521.5 199.0,1521.1 200.0,1520.9 201.5,1520.8 203.0,1520.8 204.5,1520.9 205.5,1521.1 207.0,1521.3 208.0,1521.5 209.5,1521.9 210.5,1522.2 211.5,1522.5 212.7,1523.0 213.7,1523.5 214.6,1524.0 215.5,1524.7 216.5,1525.5 217.0,1526.0 217.8,1527.0 218.5,1528.0 219.0,1528.8 219.5,1529.7 220.0,1530.8 220.5,1532.0 220.8,1533.0 221.1,1534.0 221.4,1535.5 221.6,1536.5 221.8,1538.0 222.0,1539.5 M221.9,1547.5 221.7,1549.0 221.5,1550.2 221.3,1551.5 221.0,1552.6 220.6,1554.0 220.3,1555.0 219.9,1556.0 219.5,1557.1 219.0,1558.2 218.5,1559.2 218.0,1560.1 217.5,1561.0 216.8,1562.0 216.1,1563.0 215.5,1563.8 214.9,1564.5 214.0,1565.5 213.5,1566.0 212.5,1566.9 211.7,1567.5 211.0,1568.0 210.0,1568.6 209.0,1569.1 208.0,1569.5 206.6,1570.0 M204.5,1568.6 203.0,1568.6 201.5,1568.6 200.5,1568.5 199.0,1568.2 198.0,1568.0 196.5,1567.7 195.5,1567.4 194.3,1567.0 193.0,1566.5 192.0,1566.0 191.2,1565.5 190.5,1565.0 189.5,1564.1 188.9,1563.5 188.1,1562.5 187.5,1561.6 187.0,1560.7 186.5,1559.5 186.2,1558.5 185.9,1557.5 185.6,1556.0 185.5,1555.0 185.3,1553.5 185.3,1552.0 185.4,1550.5 185.5,1549.0 185.6,1548.0 185.8,1546.5 186.0,1545.2 186.2,1544.0 186.5,1542.6 186.7,1541.5 187.0,1540.2 187.3,1539.0 187.5,1538.0 187.9,1536.5 188.3,1535.5 188.6,1534.5 189.0,1533.4 189.5,1532.2 190.0,1531.2 190.5,1530.2 191.0,1529.4 191.6,1528.5 192.3,1527.5 193.0,1526.7 193.7,1526.0 194.5,1525.3 195.5,1524.6 196.4,1524.0 197.5,1523.5 198.5,1523.1 199.5,1522.9 201.0,1522.7 202.5,1522.6 204.0,1522.7 205.5,1522.9 206.5,1523.1 208.0,1523.4 209.0,1523.6 210.3,1524.0 211.5,1524.5 212.5,1524.9 213.5,1525.5 214.3,1526.0 215.0,1526.6 216.0,1527.5 216.5,1528.1 217.2,1529.0 217.8,1530.0 218.3,1531.0 218.8,1532.0 219.1,1533.0 219.5,1534.1 219.8,1535.5 220.0,1536.5 220.3,1538.0 220.4,1539.5 220.5,1540.7 220.5,1542.0 220.5,1543.5 220.5,1544.5 220.4,1546.0 220.2,1547.5 220.0,1548.9 219.8,1550.0 219.5,1551.5 219.3,1552.5 219.0,1553.5 218.5,1555.0 218.2,1556.0 217.7,1557.0 217.3,1558.0 216.8,1559.0 216.2,1560.0 215.6,1561.0 215.0,1561.8 214.5,1562.5 213.7,1563.5 213.0,1564.2 212.2,1565.0 211.5,1565.6 210.5,1566.3 209.5,1566.9 208.5,1567.4 207.5,1567.9 206.5,1568.2 205.0,1568.5" fill="none" stroke="#85878a" stroke-width="0.9" stroke-linejoin="round"/>
<path d="M486.0,1602.0 484.5,1602.2 483.0,1602.3 481.5,1602.3 480.0,1602.3 478.5,1602.3 477.0,1602.2 475.5,1602.0 474.5,1602.0 473.0,1601.8 471.5,1601.6 470.5,1601.5 469.0,1601.2 467.8,1601.0 466.5,1600.7 465.5,1600.4 464.3,1600.0 463.0,1599.5 462.0,1599.1 461.0,1598.6 460.0,1598.1 459.1,1597.5 458.3,1597.0 457.5,1596.4 456.5,1595.6 455.9,1595.0 455.0,1594.1 454.4,1593.5 453.6,1592.5 453.0,1591.7 452.5,1591.0 451.9,1590.0 451.3,1589.0 450.8,1588.0 450.3,1587.0 449.9,1586.0 449.5,1585.0 449.0,1583.6 448.7,1582.5 448.4,1581.5 448.1,1580.0 447.8,1579.0 447.6,1577.5 447.5,1576.5 447.3,1575.0 447.1,1573.5 447.0,1572.0 447.0,1570.8 447.0,1569.5 447.0,1568.0 447.0,1566.5 447.0,1565.5 447.1,1564.0 447.1,1562.5 447.2,1561.0 447.3,1559.5 447.4,1558.0 447.5,1557.0 447.6,1555.5 447.8,1554.0 447.9,1552.5 448.0,1551.5 448.2,1550.0 448.4,1548.5 448.6,1547.5 448.8,1546.0 449.0,1545.0 449.3,1543.5 449.5,1542.4 449.8,1541.0 450.0,1540.0 450.3,1538.5 450.6,1537.5 451.0,1536.0 451.3,1535.0 451.6,1534.0 452.0,1532.6 452.4,1531.5 452.8,1530.5 453.2,1529.5 453.7,1528.5 454.2,1527.5 454.8,1526.5 455.4,1525.5 456.0,1524.7 456.5,1524.0 457.3,1523.0 458.0,1522.3 458.8,1521.5 459.5,1520.8 460.5,1520.0 461.1,1519.5 462.0,1518.9 463.0,1518.2 464.0,1517.6 465.0,1517.1 466.0,1516.6 467.0,1516.1 468.0,1515.7 469.0,1515.3 470.0,1515.0 471.5,1514.5 472.5,1514.3 473.8,1514.0 475.0,1513.7 476.5,1513.5 477.5,1513.4 479.0,1513.2 480.5,1513.1 482.0,1513.1 483.5,1513.0 485.0,1513.1 486.5,1513.2 488.0,1513.3 489.5,1513.5 490.5,1513.6 492.0,1513.9 493.0,1514.0 494.5,1514.4 495.5,1514.6 497.0,1515.0 498.0,1515.3 499.0,1515.6 500.2,1516.0 501.5,1516.4 502.5,1516.8 503.5,1517.1 504.5,1517.5 505.9,1518.0 507.0,1518.4 508.0,1518.7 509.0,1519.1 510.2,1519.5 511.5,1519.9 512.5,1520.2 513.5,1520.5 515.0,1520.9 516.0,1521.2 517.1,1521.5 518.5,1521.8 519.5,1522.1 521.0,1522.5 522.0,1522.7 523.1,1523.0 524.5,1523.4 525.5,1523.6 526.9,1524.0 528.0,1524.3 529.0,1524.6 530.5,1525.0 531.5,1525.3 532.5,1525.6 534.0,1526.0 535.0,1526.3 536.0,1526.5 537.5,1526.9 538.5,1527.2 539.8,1527.5 541.0,1527.8 542.1,1528.0 543.5,1528.3 544.8,1528.5 546.0,1528.7 547.5,1528.9 548.5,1529.0 550.0,1529.1 551.5,1529.3 553.0,1529.4 554.5,1529.4 555.9,1529.5 557.0,1529.5 558.5,1529.6 560.0,1529.6 561.5,1529.7 563.0,1529.7 564.5,1529.8 566.0,1529.8 567.5,1529.9 568.5,1530.0 570.0,1530.1 571.5,1530.3 573.0,1530.5 574.0,1530.6 575.5,1530.9 576.5,1531.0 578.0,1531.4 579.0,1531.6 580.5,1532.0 581.5,1532.2 582.5,1532.6 583.8,1533.0 585.0,1533.4 586.0,1533.8 587.0,1534.3 588.0,1534.7 589.0,1535.2 590.0,1535.8 591.0,1536.3 592.0,1537.0 592.8,1537.5 593.5,1538.0 594.5,1538.8 595.3,1539.5 596.0,1540.1 596.9,1541.0 597.5,1541.7 598.2,1542.5 598.9,1543.5 599.5,1544.4 600.0,1545.2 600.5,1546.1 601.0,1547.2 601.5,1548.5 601.8,1549.5 602.1,1550.5 602.3,1552.0 602.4,1553.5 602.3,1555.0 602.0,1556.5 601.7,1557.5 601.2,1558.5 600.6,1559.5 600.0,1560.4 599.5,1561.0 598.6,1562.0 598.0,1562.5 597.0,1563.4 596.3,1564.0 595.5,1564.6 594.5,1565.4 593.6,1566.0 592.8,1566.5 591.9,1567.0 591.0,1567.5 590.0,1568.0 589.0,1568.5 588.0,1569.0 586.8,1569.5 585.5,1570.0 584.5,1570.3 583.5,1570.7 582.4,1571.0 581.0,1571.4 580.0,1571.6 578.5,1572.0 577.5,1572.2 576.0,1572.5 575.0,1572.7 573.5,1572.9 572.5,1573.1 571.0,1573.3 569.5,1573.5 568.5,1573.6 567.0,1573.8 565.6,1574.0 564.5,1574.2 563.0,1574.4 562.0,1574.6 560.5,1574.9 559.5,1575.1 558.1,1575.5 557.0,1575.8 556.0,1576.2 555.0,1576.6 553.9,1577.0 552.8,1577.5 551.8,1578.0 550.8,1578.5 549.9,1579.0 549.0,1579.5 548.0,1580.0 547.0,1580.6 546.0,1581.2 545.0,1581.8 544.0,1582.3 543.0,1582.9 542.0,1583.4 541.0,1583.9 540.0,1584.4 539.0,1584.9 538.0,1585.4 537.0,1585.8 536.0,1586.2 535.0,1586.6 534.0,1587.0 532.6,1587.5 531.5,1587.8 530.5,1588.1 529.2,1588.5 528.0,1588.8 527.0,1589.0 525.5,1589.3 524.5,1589.5 523.0,1589.7 521.5,1589.9 520.5,1590.1 519.0,1590.2 517.5,1590.3 516.0,1590.4 514.9,1590.5 513.5,1590.6 512.0,1590.8 510.6,1591.0 509.5,1591.2 508.5,1591.5 507.2,1592.0 506.1,1592.5 505.1,1593.0 504.2,1593.5 503.4,1594.0 502.5,1594.6 501.5,1595.2 500.5,1595.9 499.6,1596.5 498.8,1597.0 498.0,1597.5 497.0,1598.1 496.0,1598.7 495.0,1599.2 494.0,1599.7 493.0,1600.1 492.0,1600.5 490.5,1601.0 489.5,1601.3 488.5,1601.5 487.0,1601.9 486.0,1602.0 M621.0,1573.5 619.5,1573.8 618.0,1573.8 616.7,1573.5 615.6,1573.0 614.8,1572.5 614.0,1571.8 613.3,1571.0 612.6,1570.0 612.1,1569.0 611.7,1568.0 611.4,1567.0 611.2,1565.5 611.1,1564.0 611.3,1562.5 611.5,1561.5 612.0,1560.2 612.5,1559.3 613.0,1558.5 613.9,1557.5 614.5,1556.9 615.5,1556.1 616.4,1555.5 617.3,1555.0 618.5,1554.5 619.5,1554.2 620.8,1554.0 622.0,1554.0 623.0,1554.1 624.5,1554.5 625.4,1555.0 626.1,1555.5 627.0,1556.3 627.5,1557.0 628.1,1558.0 628.5,1559.0 628.9,1560.5 629.0,1561.7 629.0,1562.7 628.9,1564.0 628.5,1565.5 628.2,1566.5 627.8,1567.5 627.2,1568.5 626.6,1569.5 626.0,1570.2 625.3,1571.0 624.5,1571.7 623.5,1572.4 622.5,1573.0 621.5,1573.4 M484.0,1599.5 482.5,1599.6 481.0,1599.6 479.5,1599.6 478.0,1599.5 477.0,1599.5 475.5,1599.3 474.0,1599.2 472.5,1599.0 471.5,1598.9 470.0,1598.7 469.0,1598.5 467.5,1598.1 466.5,1597.9 465.4,1597.5 464.0,1597.0 463.0,1596.6 462.0,1596.1 461.0,1595.5 460.2,1595.0 459.5,1594.5 458.5,1593.7 457.6,1593.0 457.0,1592.4 456.1,1591.5 455.5,1590.7 454.9,1590.0 454.2,1589.0 453.6,1588.0 453.0,1587.0 452.5,1586.0 452.0,1585.0 451.6,1584.0 451.3,1583.0 450.9,1582.0 450.5,1580.5 450.2,1579.5 450.0,1578.3 449.7,1577.0 449.5,1575.5 449.4,1574.5 449.3,1573.0 449.2,1571.5 449.1,1570.0 449.1,1568.5 449.1,1567.0 449.1,1565.5 449.2,1564.0 449.2,1562.5 449.3,1561.0 449.4,1559.5 449.5,1558.5 449.6,1557.0 449.8,1555.5 449.9,1554.0 450.0,1553.0 450.2,1551.5 450.4,1550.0 450.6,1549.0 450.8,1547.5 451.0,1546.4 451.3,1545.0 451.5,1543.9 451.8,1542.5 452.1,1541.5 452.4,1540.0 452.7,1539.0 453.0,1537.9 453.4,1536.5 453.7,1535.5 454.1,1534.5 454.5,1533.4 455.0,1532.2 455.5,1531.0 456.0,1530.0 456.5,1529.1 457.0,1528.2 457.5,1527.4 458.1,1526.5 458.9,1525.5 459.5,1524.8 460.2,1524.0 461.0,1523.2 461.8,1522.5 462.5,1521.9 463.5,1521.2 464.5,1520.5 465.3,1520.0 466.2,1519.5 467.2,1519.0 468.3,1518.5 469.5,1518.0 470.5,1517.6 471.5,1517.3 472.5,1517.0 474.0,1516.6 475.0,1516.4 476.5,1516.1 477.5,1516.0 479.0,1515.8 480.5,1515.7 482.0,1515.6 483.5,1515.6 485.0,1515.7 486.5,1515.8 488.0,1516.0 489.0,1516.1 490.5,1516.3 491.5,1516.5 493.0,1516.9 494.0,1517.1 495.3,1517.5 496.5,1517.9 497.5,1518.2 498.5,1518.6 499.6,1519.0 500.8,1519.5 502.0,1520.0 503.0,1520.4 504.0,1520.9 505.0,1521.3 506.0,1521.8 507.0,1522.2 508.0,1522.7 509.0,1523.1 510.0,1523.5 511.3,1524.0 512.5,1524.4 513.5,1524.7 514.5,1525.1 516.0,1525.5 517.0,1525.8 518.0,1526.0 519.5,1526.4 520.5,1526.7 521.8,1527.0 523.0,1527.3 524.0,1527.6 525.5,1528.0 526.5,1528.2 527.6,1528.5 529.0,1528.9 530.0,1529.1 531.3,1529.5 532.5,1529.8 533.5,1530.1 535.0,1530.4 536.0,1530.6 537.5,1531.0 538.5,1531.2 540.0,1531.4 541.0,1531.6 542.5,1531.8 544.0,1532.0 545.0,1532.1 546.5,1532.2 548.0,1532.3 549.5,1532.4 551.0,1532.4 552.5,1532.4 554.0,1532.4 555.5,1532.4 557.0,1532.4 558.5,1532.3 560.0,1532.3 561.5,1532.3 563.0,1532.3 564.5,1532.4 566.0,1532.4 567.5,1532.5 568.5,1532.5 570.0,1532.7 571.5,1532.8 572.9,1533.0 574.0,1533.2 575.5,1533.4 576.5,1533.6 578.0,1534.0 579.0,1534.2 580.0,1534.5 581.5,1535.0 582.5,1535.3 583.5,1535.7 584.5,1536.1 585.5,1536.6 586.5,1537.0 587.5,1537.6 588.5,1538.2 589.5,1538.8 590.5,1539.5 591.1,1540.0 592.0,1540.7 592.9,1541.5 593.5,1542.1 594.3,1543.0 595.0,1543.9 595.5,1544.6 596.0,1545.5 596.6,1546.5 597.0,1547.5 597.5,1548.9 597.8,1550.0 597.9,1551.5 597.9,1553.0 597.8,1554.5 597.5,1555.5 597.0,1556.9 596.5,1557.9 596.0,1558.8 595.5,1559.5 594.7,1560.5 594.0,1561.3 593.3,1562.0 592.5,1562.7 591.6,1563.5 590.9,1564.0 590.0,1564.6 589.0,1565.2 588.0,1565.8 587.0,1566.3 586.0,1566.8 585.0,1567.2 584.0,1567.6 583.0,1568.0 581.5,1568.5 580.5,1568.8 579.5,1569.1 578.0,1569.4 577.0,1569.7 575.5,1569.9 574.5,1570.1 573.0,1570.4 571.9,1570.5 570.5,1570.7 569.0,1570.8 567.5,1571.0 566.5,1571.1 565.0,1571.2 563.5,1571.3 562.0,1571.5 561.0,1571.6 559.5,1571.8 558.2,1572.0 557.0,1572.2 555.6,1572.5 554.5,1572.8 553.5,1573.0 552.0,1573.5 551.0,1573.9 550.0,1574.2 549.0,1574.7 548.0,1575.1 547.0,1575.6 546.0,1576.1 545.0,1576.6 544.0,1577.1 543.0,1577.7 542.0,1578.2 541.0,1578.8 540.0,1579.3 539.0,1579.8 538.0,1580.3 537.0,1580.8 536.0,1581.2 535.0,1581.7 534.0,1582.1 533.0,1582.5 531.7,1583.0 530.5,1583.4 529.5,1583.7 528.5,1584.0 527.0,1584.4 526.0,1584.7 524.5,1585.0 523.5,1585.2 522.0,1585.4 521.0,1585.6 519.5,1585.8 518.0,1585.9 517.0,1586.0 515.5,1586.1 514.0,1586.3 512.5,1586.4 511.5,1586.6 510.0,1586.9 509.0,1587.2 508.0,1587.5 506.9,1588.0 505.9,1588.5 505.0,1589.0 504.0,1589.7 503.0,1590.4 502.2,1591.0 501.5,1591.5 500.5,1592.3 499.6,1593.0 498.9,1593.5 498.0,1594.1 497.0,1594.8 496.0,1595.5 495.1,1596.0 494.2,1596.5 493.2,1597.0 492.1,1597.5 491.0,1597.9 490.0,1598.3 489.0,1598.6 487.5,1599.0 486.5,1599.2 485.0,1599.4 484.0,1599.5 M485.5,1597.0 484.0,1597.2 482.5,1597.3 481.0,1597.4 479.5,1597.4 478.0,1597.3 476.5,1597.2 475.0,1597.0 474.0,1596.9 472.5,1596.8 471.0,1596.6 470.0,1596.4 468.5,1596.0 467.5,1595.8 466.5,1595.5 465.2,1595.0 464.0,1594.5 463.0,1594.0 462.1,1593.5 461.3,1593.0 460.5,1592.5 459.5,1591.7 458.7,1591.0 458.0,1590.3 457.3,1589.5 456.5,1588.5 456.0,1587.9 455.4,1587.0 454.8,1586.0 454.3,1585.0 453.8,1584.0 453.4,1583.0 453.0,1582.0 452.5,1580.5 452.2,1579.5 452.0,1578.5 451.6,1577.0 451.5,1576.0 451.2,1574.5 451.1,1573.0 451.0,1572.0 450.9,1570.5 450.9,1569.0 450.8,1567.5 450.9,1566.0 450.9,1564.5 451.0,1563.0 451.0,1562.0 451.1,1560.5 451.2,1559.0 451.4,1557.5 451.5,1556.0 451.6,1555.0 451.7,1553.5 451.9,1552.0 452.1,1551.0 452.3,1549.5 452.5,1548.3 452.7,1547.0 453.0,1545.8 453.3,1544.5 453.5,1543.5 453.9,1542.0 454.2,1541.0 454.5,1539.9 454.9,1538.5 455.3,1537.5 455.6,1536.5 456.0,1535.5 456.5,1534.2 457.0,1533.1 457.5,1532.1 458.0,1531.1 458.5,1530.2 459.0,1529.4 459.6,1528.5 460.3,1527.5 461.0,1526.7 461.6,1526.0 462.5,1525.1 463.1,1524.5 464.0,1523.8 465.0,1523.0 465.7,1522.5 466.5,1522.0 467.5,1521.4 468.5,1520.9 469.5,1520.4 470.6,1520.0 472.0,1519.5 473.0,1519.2 474.0,1518.9 475.5,1518.6 476.5,1518.4 478.0,1518.1 479.4,1518.0 480.5,1517.9 482.0,1517.9 483.5,1517.9 485.0,1517.9 486.0,1518.0 487.5,1518.2 489.0,1518.4 490.0,1518.6 491.5,1518.9 492.5,1519.2 493.6,1519.5 495.0,1519.9 496.0,1520.3 497.0,1520.7 498.0,1521.1 499.0,1521.6 500.0,1522.0 501.0,1522.5 502.0,1523.1 503.0,1523.6 504.0,1524.1 505.0,1524.7 506.0,1525.2 507.0,1525.7 508.0,1526.2 509.0,1526.7 510.0,1527.1 511.0,1527.6 512.1,1528.0 513.5,1528.5 514.5,1528.8 515.5,1529.1 516.9,1529.5 518.0,1529.8 519.0,1530.0 520.5,1530.4 521.5,1530.7 522.8,1531.0 524.0,1531.3 525.0,1531.5 526.5,1531.9 527.5,1532.2 528.7,1532.5 530.0,1532.8 531.0,1533.1 532.5,1533.4 533.5,1533.6 535.0,1533.9 536.0,1534.1 537.5,1534.4 538.5,1534.5 540.0,1534.7 541.5,1534.9 543.0,1535.0 544.0,1535.0 545.5,1535.1 547.0,1535.1 548.5,1535.1 550.0,1535.1 551.5,1535.0 552.5,1535.0 554.0,1534.9 555.5,1534.8 557.0,1534.7 558.5,1534.7 560.0,1534.6 561.5,1534.6 563.0,1534.5 564.5,1534.5 566.0,1534.6 567.5,1534.6 569.0,1534.7 570.5,1534.8 571.8,1535.0 573.0,1535.2 574.5,1535.4 575.5,1535.6 577.0,1535.9 578.0,1536.2 579.0,1536.5 580.5,1537.0 581.5,1537.3 582.5,1537.7 583.5,1538.2 584.5,1538.7 585.5,1539.2 586.5,1539.8 587.5,1540.5 588.3,1541.0 589.0,1541.6 590.0,1542.5 590.5,1543.0 591.4,1544.0 592.0,1544.7 592.6,1545.5 593.2,1546.5 593.6,1547.5 594.0,1548.5 594.4,1550.0 594.6,1551.0 594.6,1552.5 594.5,1553.5 594.2,1555.0 593.8,1556.0 593.4,1557.0 592.8,1558.0 592.1,1559.0 591.5,1559.7 590.8,1560.5 590.0,1561.3 589.1,1562.0 588.5,1562.5 587.5,1563.2 586.5,1563.8 585.5,1564.4 584.5,1564.9 583.5,1565.3 582.5,1565.7 581.5,1566.1 580.4,1566.5 579.0,1566.9 578.0,1567.2 576.6,1567.5 575.5,1567.7 574.0,1568.0 573.0,1568.1 571.5,1568.3 570.0,1568.5 569.0,1568.6 567.5,1568.7 566.0,1568.8 564.5,1568.9 563.0,1569.0 562.0,1569.0 560.5,1569.1 559.0,1569.2 557.5,1569.3 556.0,1569.5 555.0,1569.6 553.5,1569.9 552.5,1570.1 551.0,1570.4 550.0,1570.7 548.8,1571.0 547.5,1571.5 546.5,1571.8 545.5,1572.2 544.5,1572.7 543.5,1573.1 542.5,1573.6 541.5,1574.1 540.5,1574.6 539.5,1575.1 538.5,1575.7 537.5,1576.2 536.5,1576.7 535.5,1577.1 534.5,1577.6 533.5,1578.1 532.5,1578.5 531.3,1579.0 530.0,1579.5 529.0,1579.8 528.0,1580.2 526.8,1580.5 525.5,1580.9 524.5,1581.1 523.0,1581.4 522.0,1581.6 520.5,1581.9 519.5,1582.0 518.0,1582.2 516.5,1582.3 515.0,1582.5 514.0,1582.6 512.5,1582.8 511.1,1583.0 510.0,1583.3 509.0,1583.6 507.9,1584.0 506.8,1584.5 505.9,1585.0 505.0,1585.6 504.0,1586.3 503.1,1587.0 502.5,1587.5 501.5,1588.3 500.7,1589.0 500.0,1589.6 499.0,1590.4 498.3,1591.0 497.5,1591.6 496.5,1592.4 495.6,1593.0 494.8,1593.5 494.0,1594.0 493.0,1594.5 492.0,1595.0 491.0,1595.5 489.6,1596.0 488.5,1596.4 487.5,1596.6 486.0,1596.9 M485.0,1595.1 483.5,1595.2 482.0,1595.3 480.5,1595.4 479.0,1595.3 477.5,1595.2 476.0,1595.1 474.8,1595.0 473.5,1594.9 472.0,1594.7 471.0,1594.5 469.5,1594.2 468.5,1594.0 467.0,1593.5 466.0,1593.1 465.0,1592.7 464.0,1592.2 463.0,1591.7 462.0,1591.0 461.2,1590.5 460.5,1589.9 459.5,1589.0 459.0,1588.5 458.1,1587.5 457.5,1586.7 457.0,1586.0 456.4,1585.0 455.8,1584.0 455.3,1583.0 454.9,1582.0 454.5,1581.0 454.0,1579.5 453.7,1578.5 453.4,1577.5 453.1,1576.0 453.0,1575.0 452.8,1573.5 452.6,1572.0 452.5,1570.5 452.5,1569.5 452.4,1568.0 452.4,1566.5 452.5,1565.0 452.5,1563.9 452.6,1562.5 452.7,1561.0 452.8,1559.5 452.9,1558.0 453.0,1556.6 453.1,1555.5 453.3,1554.0 453.5,1552.5 453.6,1551.5 453.8,1550.0 454.0,1549.0 454.3,1547.5 454.5,1546.5 454.9,1545.0 455.1,1544.0 455.5,1542.7 455.8,1541.5 456.2,1540.5 456.5,1539.5 457.0,1538.1 457.4,1537.0 457.8,1536.0 458.3,1535.0 458.7,1534.0 459.3,1533.0 459.8,1532.0 460.4,1531.0 461.0,1530.1 461.5,1529.4 462.2,1528.5 463.0,1527.6 463.6,1527.0 464.5,1526.1 465.2,1525.5 466.0,1524.9 467.0,1524.2 468.0,1523.6 469.0,1523.0 470.0,1522.5 471.0,1522.1 472.0,1521.7 473.0,1521.3 474.1,1521.0 475.5,1520.6 476.5,1520.4 478.0,1520.2 479.5,1520.0 480.5,1519.9 482.0,1519.9 483.5,1519.9 485.0,1520.0 486.0,1520.0 487.5,1520.2 489.0,1520.5 490.0,1520.7 491.1,1521.0 492.5,1521.4 493.5,1521.7 494.5,1522.1 495.5,1522.5 496.6,1523.0 497.6,1523.5 498.6,1524.0 499.5,1524.5 500.5,1525.1 501.5,1525.7 502.5,1526.3 503.5,1526.9 504.4,1527.5 505.2,1528.0 506.0,1528.5 507.0,1529.1 508.0,1529.7 509.0,1530.2 510.0,1530.7 511.0,1531.1 512.0,1531.5 513.5,1532.0 514.5,1532.3 515.5,1532.6 516.9,1533.0 518.0,1533.3 519.0,1533.5 520.5,1533.9 521.5,1534.1 523.0,1534.5 524.0,1534.7 525.0,1535.0 526.5,1535.4 527.5,1535.6 529.0,1536.0 530.0,1536.2 531.3,1536.5 532.5,1536.7 533.9,1537.0 535.0,1537.2 536.5,1537.4 537.5,1537.5 539.0,1537.7 540.5,1537.8 542.0,1537.9 543.5,1537.9 545.0,1537.8 546.5,1537.8 548.0,1537.7 549.5,1537.6 550.7,1537.5 552.0,1537.4 553.5,1537.2 555.0,1537.1 556.0,1537.0 557.5,1536.9 559.0,1536.8 560.5,1536.7 562.0,1536.6 563.5,1536.5 565.0,1536.5 566.5,1536.5 568.0,1536.6 569.5,1536.7 571.0,1536.9 572.1,1537.0 573.5,1537.2 575.0,1537.5 576.0,1537.7 577.0,1538.0 578.5,1538.4 579.5,1538.8 580.5,1539.2 581.5,1539.6 582.5,1540.1 583.5,1540.6 584.5,1541.2 585.5,1541.9 586.4,1542.5 587.0,1543.0 588.0,1544.0 588.5,1544.5 589.3,1545.5 590.0,1546.5 590.5,1547.4 591.0,1548.5 591.3,1549.5 591.5,1550.6 591.6,1552.0 591.5,1553.2 591.2,1554.5 590.9,1555.5 590.4,1556.5 589.8,1557.5 589.1,1558.5 588.5,1559.2 587.7,1560.0 587.0,1560.6 586.0,1561.4 585.1,1562.0 584.2,1562.5 583.3,1563.0 582.3,1563.5 581.1,1564.0 580.0,1564.4 579.0,1564.8 578.0,1565.1 576.5,1565.5 575.5,1565.7 574.0,1566.0 573.0,1566.1 571.5,1566.3 570.1,1566.5 569.0,1566.6 567.5,1566.7 566.0,1566.8 564.5,1566.8 563.0,1566.8 561.5,1566.9 560.0,1566.9 558.5,1566.9 557.0,1567.0 555.8,1567.0 554.5,1567.1 553.0,1567.2 551.5,1567.4 550.5,1567.5 549.0,1567.8 548.0,1568.0 546.5,1568.4 545.5,1568.7 544.5,1569.0 543.2,1569.5 542.0,1570.0 541.0,1570.4 540.0,1570.9 539.0,1571.4 538.0,1571.9 537.0,1572.4 536.0,1572.9 535.0,1573.4 534.0,1573.8 533.0,1574.3 532.0,1574.8 531.0,1575.2 530.0,1575.6 529.0,1576.0 527.6,1576.5 526.5,1576.9 525.5,1577.2 524.3,1577.5 523.0,1577.8 522.0,1578.0 520.5,1578.3 519.4,1578.5 518.0,1578.7 516.5,1578.9 515.3,1579.0 514.0,1579.2 512.5,1579.4 511.5,1579.5 510.0,1579.9 509.0,1580.2 508.0,1580.6 507.0,1581.1 506.0,1581.7 505.0,1582.3 504.2,1583.0 503.5,1583.5 502.5,1584.4 501.9,1585.0 501.0,1585.8 500.3,1586.5 499.5,1587.2 498.6,1588.0 498.0,1588.6 497.0,1589.4 496.3,1590.0 495.5,1590.6 494.5,1591.3 493.5,1592.0 492.6,1592.5 491.6,1593.0 490.5,1593.5 489.5,1593.9 488.5,1594.2 487.5,1594.5 486.0,1594.9 485.0,1595.1 M481.0,1593.5 479.9,1593.5 478.5,1593.4 477.0,1593.3 475.5,1593.2 474.0,1593.1 473.0,1592.9 471.5,1592.7 470.5,1592.5 469.0,1592.2 468.0,1591.9 467.0,1591.5 465.8,1591.0 464.7,1590.5 463.8,1590.0 463.0,1589.5 462.0,1588.7 461.1,1588.0 460.5,1587.4 459.6,1586.5 459.0,1585.7 458.5,1585.0 457.8,1584.0 457.2,1583.0 456.7,1582.0 456.2,1581.0 455.9,1580.0 455.5,1579.0 455.1,1577.5 454.8,1576.5 454.5,1575.0 454.3,1574.0 454.1,1572.5 454.0,1571.0 453.9,1570.0 453.9,1568.5 453.9,1567.0 453.9,1565.5 453.9,1564.0 454.0,1562.8 454.1,1561.5 454.2,1560.0 454.3,1558.5 454.4,1557.0 454.5,1556.0 454.7,1554.5 454.9,1553.0 455.0,1552.0 455.2,1550.5 455.5,1549.1 455.7,1548.0 456.0,1546.8 456.3,1545.5 456.6,1544.5 457.0,1543.1 457.4,1542.0 457.7,1541.0 458.1,1540.0 458.5,1538.9 459.0,1537.7 459.5,1536.6 460.0,1535.5 460.5,1534.6 461.0,1533.7 461.5,1532.9 462.1,1532.0 462.8,1531.0 463.5,1530.1 464.0,1529.5 464.9,1528.5 465.5,1527.9 466.5,1527.1 467.2,1526.5 468.0,1525.9 469.0,1525.3 470.0,1524.7 471.0,1524.2 472.0,1523.8 473.0,1523.4 474.2,1523.0 475.5,1522.6 476.5,1522.4 478.0,1522.1 479.1,1522.0 480.5,1521.9 482.0,1521.8 483.5,1521.8 485.0,1521.9 486.0,1522.0 487.5,1522.2 488.9,1522.5 490.0,1522.8 491.0,1523.1 492.3,1523.5 493.5,1524.0 494.5,1524.4 495.5,1524.9 496.5,1525.4 497.5,1526.0 498.4,1526.5 499.1,1527.0 500.0,1527.6 501.0,1528.3 502.0,1529.0 502.7,1529.5 503.5,1530.1 504.5,1530.8 505.5,1531.5 506.2,1532.0 507.0,1532.5 508.0,1533.1 509.0,1533.7 510.0,1534.1 511.0,1534.6 512.1,1535.0 513.5,1535.5 514.5,1535.8 515.5,1536.1 517.0,1536.4 518.0,1536.7 519.3,1537.0 520.5,1537.3 521.5,1537.5 523.0,1537.9 524.0,1538.1 525.5,1538.5 526.5,1538.8 527.5,1539.0 529.0,1539.3 530.0,1539.6 531.5,1539.9 532.5,1540.1 534.0,1540.3 535.3,1540.5 536.5,1540.6 538.0,1540.7 539.5,1540.8 541.0,1540.8 542.5,1540.8 544.0,1540.7 545.5,1540.6 546.5,1540.5 548.0,1540.3 549.5,1540.1 550.5,1539.9 552.0,1539.7 553.4,1539.5 554.5,1539.3 556.0,1539.1 557.1,1539.0 558.5,1538.8 560.0,1538.7 561.5,1538.6 562.5,1538.5 564.0,1538.4 565.5,1538.4 567.0,1538.4 568.5,1538.5 569.5,1538.6 571.0,1538.7 572.5,1538.9 573.5,1539.1 575.0,1539.4 576.0,1539.7 577.0,1540.0 578.4,1540.5 579.5,1540.9 580.5,1541.4 581.5,1541.9 582.5,1542.5 583.3,1543.0 584.0,1543.5 585.0,1544.4 585.6,1545.0 586.5,1546.0 587.0,1546.6 587.5,1547.5 588.0,1548.5 588.5,1550.0 588.7,1551.0 588.7,1552.5 588.5,1553.6 588.1,1555.0 587.6,1556.0 587.0,1557.0 586.5,1557.6 585.7,1558.5 585.0,1559.2 584.0,1560.0 583.3,1560.5 582.5,1561.0 581.5,1561.5 580.5,1562.0 579.4,1562.5 578.0,1563.0 577.0,1563.3 576.0,1563.6 574.5,1563.9 573.5,1564.1 572.0,1564.4 571.0,1564.5 569.5,1564.7 568.0,1564.8 566.5,1564.8 565.0,1564.8 563.5,1564.8 562.0,1564.8 560.5,1564.8 559.0,1564.7 557.5,1564.7 556.0,1564.6 554.5,1564.6 553.0,1564.6 551.5,1564.7 550.0,1564.7 548.5,1564.9 547.5,1565.0 546.0,1565.2 544.8,1565.5 543.5,1565.8 542.5,1566.1 541.5,1566.5 540.2,1567.0 539.0,1567.5 538.0,1567.9 537.0,1568.4 536.0,1568.9 535.0,1569.4 534.0,1569.9 533.0,1570.4 532.0,1570.8 531.0,1571.3 530.0,1571.8 529.0,1572.2 528.0,1572.6 527.0,1573.0 525.6,1573.5 524.5,1573.8 523.5,1574.1 522.0,1574.5 521.0,1574.7 519.6,1575.0 518.5,1575.2 517.0,1575.4 516.0,1575.5 514.5,1575.7 513.0,1575.9 512.0,1576.1 510.5,1576.5 509.5,1576.7 508.5,1577.1 507.5,1577.6 506.5,1578.2 505.5,1578.8 504.6,1579.5 504.0,1580.0 503.0,1580.9 502.4,1581.5 501.5,1582.4 501.0,1583.0 500.0,1584.0 499.5,1584.5 498.5,1585.5 498.0,1586.0 497.0,1587.0 496.4,1587.5 495.5,1588.3 494.6,1589.0 493.9,1589.5 493.0,1590.1 492.0,1590.7 491.0,1591.2 490.0,1591.7 489.0,1592.1 487.8,1592.5 486.5,1592.9 485.5,1593.1 484.0,1593.3 482.5,1593.5 481.3,1593.5 M484.0,1591.5 482.5,1591.7 481.0,1591.7 479.5,1591.7 478.0,1591.6 476.5,1591.5 475.5,1591.4 474.0,1591.3 472.5,1591.1 471.5,1590.9 470.0,1590.6 469.0,1590.3 468.0,1590.0 466.8,1589.5 465.7,1589.0 464.8,1588.5 464.0,1588.0 463.0,1587.3 462.1,1586.5 461.5,1586.0 460.6,1585.0 460.0,1584.2 459.5,1583.5 458.8,1582.5 458.2,1581.5 457.8,1580.5 457.3,1579.5 457.0,1578.5 456.5,1577.0 456.2,1576.0 456.0,1575.0 455.7,1573.5 455.5,1572.0 455.4,1571.0 455.3,1569.5 455.3,1568.0 455.3,1566.5 455.3,1565.0 455.3,1563.5 455.4,1562.0 455.5,1560.8 455.6,1559.5 455.7,1558.0 455.8,1556.5 456.0,1555.0 456.1,1554.0 456.3,1552.5 456.5,1551.4 456.8,1550.0 457.0,1548.9 457.3,1547.5 457.6,1546.5 458.0,1545.0 458.3,1544.0 458.6,1543.0 459.0,1542.0 459.5,1540.7 460.0,1539.5 460.4,1538.5 460.9,1537.5 461.4,1536.5 462.0,1535.5 462.5,1534.7 463.0,1533.9 463.6,1533.0 464.4,1532.0 465.0,1531.2 465.7,1530.5 466.5,1529.7 467.2,1529.0 468.0,1528.4 469.0,1527.6 470.0,1527.0 470.9,1526.5 471.8,1526.0 473.0,1525.5 474.0,1525.1 475.0,1524.8 476.0,1524.5 477.5,1524.2 478.6,1524.0 480.0,1523.8 481.5,1523.7 483.0,1523.7 484.5,1523.8 486.0,1524.0 487.0,1524.1 488.5,1524.4 489.5,1524.7 490.5,1525.0 491.8,1525.5 493.0,1526.0 494.0,1526.5 495.0,1527.0 495.8,1527.5 496.6,1528.0 497.5,1528.6 498.5,1529.3 499.4,1530.0 500.0,1530.5 501.0,1531.3 501.8,1532.0 502.5,1532.6 503.5,1533.4 504.2,1534.0 505.0,1534.6 506.0,1535.4 506.9,1536.0 507.7,1536.5 508.6,1537.0 509.5,1537.5 510.6,1538.0 511.9,1538.5 513.0,1538.9 514.0,1539.2 515.1,1539.5 516.5,1539.8 517.5,1540.1 519.0,1540.5 520.0,1540.7 521.2,1541.0 522.5,1541.3 523.5,1541.6 525.0,1542.0 526.0,1542.2 527.1,1542.5 528.5,1542.8 529.5,1543.1 531.0,1543.4 532.0,1543.6 533.5,1543.9 534.5,1544.0 536.0,1544.2 537.5,1544.2 539.0,1544.3 540.5,1544.2 542.0,1544.1 543.0,1544.0 544.5,1543.7 545.8,1543.5 547.0,1543.3 548.2,1543.0 549.5,1542.7 550.5,1542.5 552.0,1542.2 553.0,1541.9 554.5,1541.6 555.5,1541.4 557.0,1541.1 558.0,1541.0 559.5,1540.7 561.0,1540.6 562.0,1540.5 563.5,1540.4 565.0,1540.3 566.5,1540.3 568.0,1540.3 569.5,1540.4 570.5,1540.5 572.0,1540.8 573.3,1541.0 574.5,1541.3 575.5,1541.6 576.8,1542.0 578.0,1542.5 579.0,1543.0 580.0,1543.5 580.8,1544.0 581.5,1544.5 582.5,1545.3 583.2,1546.0 584.0,1546.9 584.5,1547.6 585.0,1548.5 585.5,1549.7 585.8,1551.0 585.8,1552.5 585.5,1553.8 585.0,1555.0 584.5,1555.9 584.0,1556.6 583.2,1557.5 582.5,1558.2 581.5,1559.0 580.7,1559.5 579.8,1560.0 578.8,1560.5 577.6,1561.0 576.5,1561.4 575.5,1561.7 574.4,1562.0 573.0,1562.3 571.7,1562.5 570.5,1562.7 569.0,1562.8 567.5,1562.9 566.0,1562.9 564.5,1562.9 563.0,1562.9 561.5,1562.8 560.0,1562.7 558.5,1562.5 557.5,1562.4 556.0,1562.3 554.5,1562.2 553.0,1562.0 552.0,1561.9 550.5,1561.9 549.0,1561.8 547.5,1561.8 546.0,1561.9 544.6,1562.0 543.5,1562.2 542.0,1562.5 541.0,1562.7 540.0,1563.0 538.6,1563.5 537.5,1564.0 536.5,1564.4 535.5,1564.9 534.5,1565.4 533.5,1565.9 532.5,1566.4 531.5,1566.9 530.5,1567.4 529.5,1567.9 528.5,1568.4 527.5,1568.8 526.5,1569.2 525.5,1569.6 524.5,1570.0 523.1,1570.5 522.0,1570.8 521.0,1571.1 519.5,1571.4 518.5,1571.6 517.0,1571.9 516.0,1572.0 514.5,1572.3 513.1,1572.5 512.0,1572.7 510.8,1573.0 509.5,1573.4 508.5,1573.8 507.5,1574.3 506.5,1574.9 505.6,1575.5 505.0,1576.0 504.0,1576.9 503.4,1577.5 502.5,1578.4 502.0,1579.0 501.1,1580.0 500.5,1580.7 499.8,1581.5 499.0,1582.4 498.4,1583.0 497.5,1584.0 497.0,1584.5 496.0,1585.5 495.5,1586.0 494.5,1586.8 493.7,1587.5 493.0,1588.0 492.0,1588.6 491.0,1589.2 490.0,1589.7 489.0,1590.2 488.0,1590.6 486.6,1591.0 485.5,1591.3 484.1,1591.5 M481.5,1590.0 480.0,1590.0 479.0,1590.0 477.5,1589.9 476.0,1589.8 474.5,1589.6 473.5,1589.5 472.0,1589.2 470.9,1589.0 469.5,1588.6 468.5,1588.3 467.5,1587.9 466.5,1587.4 465.5,1586.9 464.5,1586.2 463.5,1585.5 463.0,1585.0 462.0,1584.0 461.5,1583.5 460.7,1582.5 460.1,1581.5 459.5,1580.5 459.0,1579.5 458.6,1578.5 458.2,1577.5 457.9,1576.5 457.5,1575.1 457.3,1574.0 457.0,1572.5 456.9,1571.5 456.7,1570.0 456.6,1568.5 456.6,1567.0 456.6,1565.5 456.7,1564.0 456.7,1562.5 456.8,1561.0 456.9,1559.5 457.0,1558.5 457.1,1557.0 457.3,1555.5 457.5,1554.0 457.6,1553.0 457.9,1551.5 458.1,1550.5 458.4,1549.0 458.6,1548.0 459.0,1546.6 459.3,1545.5 459.7,1544.5 460.0,1543.5 460.5,1542.3 461.0,1541.1 461.5,1540.0 462.0,1539.0 462.5,1538.0 463.0,1537.2 463.5,1536.3 464.0,1535.5 464.8,1534.5 465.5,1533.5 466.0,1532.9 466.9,1532.0 467.5,1531.4 468.5,1530.5 469.1,1530.0 470.0,1529.3 471.0,1528.7 472.0,1528.1 473.0,1527.6 474.0,1527.2 475.0,1526.9 476.2,1526.5 477.5,1526.2 478.5,1526.0 480.0,1525.8 481.5,1525.7 483.0,1525.7 484.5,1525.8 486.0,1526.0 487.0,1526.1 488.5,1526.5 489.5,1526.8 490.5,1527.2 491.5,1527.6 492.5,1528.1 493.5,1528.6 494.5,1529.2 495.5,1529.9 496.4,1530.5 497.0,1531.0 498.0,1531.8 498.8,1532.5 499.5,1533.1 500.4,1534.0 501.0,1534.5 502.0,1535.5 502.5,1536.0 503.5,1536.9 504.1,1537.5 505.0,1538.2 505.9,1539.0 506.6,1539.5 507.5,1540.1 508.5,1540.8 509.5,1541.3 510.5,1541.8 511.5,1542.2 512.5,1542.6 513.8,1543.0 515.0,1543.4 516.0,1543.6 517.4,1544.0 518.5,1544.3 519.5,1544.5 521.0,1545.0 522.0,1545.2 523.0,1545.5 524.5,1546.0 525.5,1546.3 526.5,1546.7 527.5,1547.0 529.0,1547.5 530.0,1547.8 531.0,1548.1 532.5,1548.5 533.5,1548.8 534.7,1549.0 536.0,1549.2 537.5,1549.3 539.0,1549.3 540.5,1549.1 541.5,1548.8 542.7,1548.5 544.0,1548.1 545.0,1547.7 546.0,1547.3 547.0,1546.9 548.0,1546.5 549.3,1546.0 550.5,1545.5 551.5,1545.2 552.5,1544.8 553.5,1544.5 555.0,1544.0 556.0,1543.7 557.0,1543.5 558.5,1543.1 559.5,1542.9 561.0,1542.7 562.2,1542.5 563.5,1542.4 565.0,1542.3 566.5,1542.2 568.0,1542.3 569.5,1542.4 570.5,1542.5 572.0,1542.8 573.1,1543.0 574.5,1543.4 575.5,1543.8 576.5,1544.2 577.5,1544.7 578.5,1545.3 579.5,1546.0 580.1,1546.5 581.0,1547.4 581.5,1548.0 582.1,1549.0 582.5,1550.1 582.7,1551.5 582.6,1553.0 582.3,1554.0 581.8,1555.0 581.0,1556.0 580.5,1556.5 579.5,1557.4 578.6,1558.0 577.8,1558.5 576.8,1559.0 575.5,1559.5 574.5,1559.8 573.5,1560.1 572.0,1560.4 571.0,1560.6 569.5,1560.8 568.0,1560.9 566.5,1560.9 565.0,1560.9 563.5,1560.8 562.0,1560.7 560.5,1560.5 559.5,1560.4 558.0,1560.1 557.0,1560.0 555.5,1559.7 554.5,1559.5 553.0,1559.1 552.0,1558.9 550.5,1558.6 549.5,1558.4 548.0,1558.1 547.0,1557.9 545.5,1557.6 544.5,1557.5 543.0,1557.4 541.5,1557.4 540.5,1557.5 539.0,1557.8 538.0,1558.1 537.0,1558.5 536.0,1559.0 535.0,1559.5 534.0,1560.1 533.0,1560.7 532.0,1561.3 531.0,1561.9 530.1,1562.5 529.3,1563.0 528.5,1563.5 527.5,1564.0 526.5,1564.6 525.5,1565.1 524.5,1565.6 523.5,1566.0 522.3,1566.5 521.0,1566.9 520.0,1567.2 519.0,1567.5 517.5,1567.9 516.5,1568.1 515.0,1568.3 514.0,1568.5 512.5,1568.8 511.5,1569.1 510.2,1569.5 509.0,1570.0 508.0,1570.5 507.1,1571.0 506.4,1571.5 505.5,1572.2 504.6,1573.0 504.0,1573.6 503.2,1574.5 502.5,1575.3 501.9,1576.0 501.1,1577.0 500.5,1577.7 499.9,1578.5 499.1,1579.5 498.5,1580.3 497.9,1581.0 497.0,1582.0 496.5,1582.6 495.7,1583.5 495.0,1584.1 494.1,1585.0 493.5,1585.5 492.5,1586.3 491.5,1587.0 490.6,1587.5 489.7,1588.0 488.6,1588.5 487.5,1588.9 486.5,1589.2 485.5,1589.5 484.0,1589.8 482.5,1589.9 481.5,1590.0 M483.0,1588.0 481.5,1588.2 480.0,1588.2 478.5,1588.1 477.1,1588.0 476.0,1587.9 474.5,1587.7 473.0,1587.5 472.0,1587.3 470.6,1587.0 469.5,1586.7 468.5,1586.3 467.5,1585.8 466.5,1585.3 465.5,1584.7 464.6,1584.0 464.0,1583.5 463.0,1582.5 462.5,1581.9 461.8,1581.0 461.2,1580.0 460.6,1579.0 460.2,1578.0 459.7,1577.0 459.4,1576.0 459.0,1574.6 458.7,1573.5 458.5,1572.2 458.3,1571.0 458.2,1569.5 458.1,1568.0 458.1,1566.5 458.1,1565.0 458.1,1563.5 458.2,1562.0 458.3,1560.5 458.4,1559.0 458.5,1557.7 458.6,1556.5 458.8,1555.0 459.0,1553.5 459.2,1552.5 459.5,1551.0 459.7,1550.0 460.0,1548.7 460.3,1547.5 460.6,1546.5 461.0,1545.5 461.5,1544.1 462.0,1543.0 462.4,1542.0 462.9,1541.0 463.4,1540.0 464.0,1539.0 464.5,1538.2 465.0,1537.5 465.7,1536.5 466.5,1535.5 467.0,1534.9 467.8,1534.0 468.5,1533.3 469.4,1532.5 470.0,1532.0 471.0,1531.3 472.0,1530.7 473.0,1530.1 474.0,1529.6 475.0,1529.2 476.0,1528.9 477.4,1528.5 478.5,1528.3 480.0,1528.1 481.0,1528.0 482.5,1527.9 484.0,1528.0 485.0,1528.1 486.5,1528.4 487.5,1528.6 488.8,1529.0 490.0,1529.5 491.0,1529.9 492.0,1530.4 492.9,1531.0 493.7,1531.5 494.5,1532.1 495.5,1532.9 496.2,1533.5 497.0,1534.2 497.9,1535.0 498.5,1535.6 499.3,1536.5 500.0,1537.2 500.7,1538.0 501.5,1538.9 502.1,1539.5 503.0,1540.5 503.5,1541.0 504.4,1542.0 505.0,1542.6 506.0,1543.5 506.5,1544.0 507.5,1544.8 508.4,1545.5 509.1,1546.0 510.0,1546.6 511.0,1547.1 512.0,1547.6 513.0,1548.1 514.1,1548.5 515.4,1549.0 516.5,1549.4 517.5,1549.8 518.5,1550.3 519.5,1550.7 520.5,1551.3 521.5,1551.9 522.2,1552.5 523.0,1553.3 523.5,1554.0 524.0,1555.4 524.0,1556.0 523.5,1557.5 523.0,1558.3 522.4,1559.0 521.5,1559.8 520.5,1560.5 519.6,1561.0 518.6,1561.5 517.5,1562.0 516.5,1562.3 515.5,1562.7 514.5,1563.0 513.0,1563.5 512.0,1563.8 511.0,1564.2 510.0,1564.7 509.0,1565.2 508.0,1565.8 507.1,1566.5 506.5,1567.0 505.5,1568.0 505.0,1568.5 504.1,1569.5 503.5,1570.2 502.9,1571.0 502.1,1572.0 501.5,1572.9 501.0,1573.6 500.4,1574.5 499.7,1575.5 499.0,1576.5 498.5,1577.2 497.9,1578.0 497.2,1579.0 496.5,1579.9 496.0,1580.5 495.1,1581.5 494.5,1582.1 493.6,1583.0 493.0,1583.6 492.0,1584.4 491.2,1585.0 490.4,1585.5 489.5,1586.0 488.5,1586.5 487.4,1587.0 486.0,1587.5 485.0,1587.7 483.5,1588.0 M571.5,1558.0 570.0,1558.3 568.5,1558.4 567.0,1558.5 565.5,1558.4 564.0,1558.3 562.5,1558.1 561.5,1557.9 560.0,1557.6 559.0,1557.3 557.9,1557.0 556.6,1556.5 555.5,1556.0 554.5,1555.5 553.8,1555.0 553.0,1554.4 552.2,1553.5 551.7,1552.5 551.8,1551.0 552.3,1550.0 553.0,1549.3 553.9,1548.5 554.6,1548.0 555.5,1547.4 556.5,1546.9 557.5,1546.5 558.7,1546.0 560.0,1545.6 561.0,1545.3 562.5,1545.0 563.5,1544.9 565.0,1544.7 566.5,1544.6 568.0,1544.7 569.5,1544.8 570.7,1545.0 572.0,1545.3 573.0,1545.6 574.1,1546.0 575.1,1546.5 576.0,1547.1 577.0,1547.8 577.6,1548.5 578.3,1549.5 578.7,1550.5 578.9,1552.0 578.5,1553.5 578.0,1554.3 577.5,1555.0 576.5,1555.9 575.5,1556.5 574.6,1557.0 573.5,1557.4 572.5,1557.8 571.5,1558.0 M484.5,1586.1 483.0,1586.3 481.5,1586.5 480.0,1586.5 478.5,1586.4 477.0,1586.3 475.5,1586.1 474.4,1586.0 473.0,1585.8 471.7,1585.5 470.5,1585.2 469.5,1584.8 468.5,1584.4 467.5,1583.9 466.5,1583.3 465.5,1582.5 464.9,1582.0 464.0,1581.1 463.5,1580.5 462.8,1579.5 462.1,1578.5 461.6,1577.5 461.2,1576.5 460.8,1575.5 460.5,1574.5 460.1,1573.0 459.9,1572.0 459.7,1570.5 459.5,1569.0 459.4,1568.0 459.4,1566.5 459.4,1565.0 459.4,1563.5 459.5,1562.2 459.6,1561.0 459.7,1559.5 459.8,1558.0 459.9,1556.5 460.1,1555.5 460.3,1554.0 460.5,1552.7 460.7,1551.5 461.0,1550.3 461.3,1549.0 461.6,1548.0 462.0,1546.9 462.5,1545.6 463.0,1544.5 463.4,1543.5 463.9,1542.5 464.5,1541.5 465.0,1540.6 465.5,1539.8 466.0,1539.0 466.8,1538.0 467.5,1537.1 468.1,1536.5 469.0,1535.5 469.6,1535.0 470.5,1534.2 471.4,1533.5 472.2,1533.0 473.0,1532.5 474.0,1532.0 475.1,1531.5 476.5,1531.0 477.5,1530.7 478.6,1530.5 480.0,1530.3 481.5,1530.2 483.0,1530.2 484.5,1530.3 485.9,1530.5 487.0,1530.8 488.0,1531.1 489.1,1531.5 490.2,1532.0 491.1,1532.5 492.0,1533.0 493.0,1533.7 494.0,1534.5 494.6,1535.0 495.5,1535.8 496.2,1536.5 497.0,1537.3 497.6,1538.0 498.5,1539.0 499.0,1539.6 499.8,1540.5 500.5,1541.4 501.0,1542.0 501.7,1543.0 502.5,1544.0 503.0,1544.7 503.6,1545.5 504.4,1546.5 505.0,1547.4 505.5,1548.1 506.1,1549.0 506.8,1550.0 507.4,1551.0 508.0,1552.0 508.4,1553.0 508.8,1554.0 509.0,1555.5 508.8,1557.0 508.5,1558.0 508.0,1559.0 507.4,1560.0 506.8,1561.0 506.1,1562.0 505.5,1562.9 505.0,1563.6 504.4,1564.5 503.7,1565.5 503.1,1566.5 502.5,1567.5 502.0,1568.3 501.5,1569.1 501.0,1570.0 500.4,1571.0 499.8,1572.0 499.2,1573.0 498.6,1574.0 498.0,1574.9 497.5,1575.7 497.0,1576.5 496.3,1577.5 495.5,1578.5 495.0,1579.2 494.3,1580.0 493.5,1580.9 492.9,1581.5 492.0,1582.3 491.1,1583.0 490.4,1583.5 489.5,1584.1 488.5,1584.7 487.5,1585.1 486.5,1585.5 485.0,1586.0 M570.5,1555.0 569.0,1555.4 567.5,1555.5 566.0,1555.4 564.5,1555.2 563.5,1555.0 562.1,1554.5 561.2,1554.0 560.5,1553.5 559.7,1552.5 559.5,1551.5 559.8,1550.5 560.5,1549.7 561.4,1549.0 562.4,1548.5 563.5,1548.1 564.5,1547.9 566.0,1547.7 567.5,1547.6 569.0,1547.8 570.1,1548.0 571.5,1548.5 572.4,1549.0 573.0,1549.5 573.8,1550.5 574.0,1551.5 573.9,1552.5 573.2,1553.5 572.5,1554.1 571.5,1554.6 570.5,1555.0 M482.5,1584.5 481.0,1584.6 479.5,1584.6 478.0,1584.5 477.0,1584.4 475.5,1584.2 474.0,1584.0 473.0,1583.8 471.6,1583.5 470.5,1583.1 469.5,1582.7 468.5,1582.3 467.5,1581.6 466.6,1581.0 466.0,1580.5 465.0,1579.5 464.5,1578.8 463.9,1578.0 463.3,1577.0 462.8,1576.0 462.4,1575.0 462.0,1573.9 461.6,1572.5 461.4,1571.5 461.1,1570.0 461.0,1568.8 460.9,1567.5 460.9,1566.0 460.9,1564.5 460.9,1563.0 461.0,1561.5 461.1,1560.5 461.2,1559.0 461.3,1557.5 461.5,1556.0 461.6,1555.0 461.8,1553.5 462.0,1552.5 462.4,1551.0 462.7,1550.0 463.0,1548.9 463.5,1547.5 463.9,1546.5 464.3,1545.5 464.8,1544.5 465.3,1543.5 465.9,1542.5 466.5,1541.6 467.0,1540.9 467.7,1540.0 468.5,1539.1 469.0,1538.5 470.0,1537.5 470.6,1537.0 471.5,1536.3 472.5,1535.6 473.5,1535.0 474.5,1534.5 475.5,1534.0 476.5,1533.7 477.5,1533.4 479.0,1533.1 480.0,1532.9 481.5,1532.8 483.0,1532.8 484.5,1532.9 485.5,1533.1 487.0,1533.5 488.0,1533.8 489.0,1534.2 490.0,1534.8 491.0,1535.4 491.9,1536.0 492.6,1536.5 493.5,1537.3 494.3,1538.0 495.0,1538.7 495.8,1539.5 496.5,1540.3 497.1,1541.0 497.8,1542.0 498.5,1542.9 499.0,1543.6 499.6,1544.5 500.3,1545.5 500.8,1546.5 501.4,1547.5 501.9,1548.5 502.3,1549.5 502.7,1550.5 503.1,1551.5 503.5,1553.0 503.6,1554.0 503.7,1555.5 503.6,1557.0 503.5,1558.0 503.1,1559.5 502.8,1560.5 502.4,1561.5 502.0,1562.6 501.5,1563.8 501.0,1564.9 500.5,1566.0 500.1,1567.0 499.6,1568.0 499.1,1569.0 498.6,1570.0 498.1,1571.0 497.6,1572.0 497.0,1573.0 496.5,1573.9 496.0,1574.7 495.5,1575.5 494.8,1576.5 494.1,1577.5 493.5,1578.2 492.8,1579.0 492.0,1579.9 491.3,1580.5 490.5,1581.2 489.5,1582.0 488.6,1582.5 487.7,1583.0 486.6,1583.5 485.5,1583.9 484.5,1584.2 483.0,1584.4 M483.5,1582.5 482.0,1582.7 480.5,1582.8 479.0,1582.8 477.5,1582.6 476.3,1582.5 475.0,1582.3 473.5,1582.1 472.5,1581.8 471.4,1581.5 470.2,1581.0 469.2,1580.5 468.4,1580.0 467.5,1579.3 466.6,1578.5 466.0,1577.9 465.3,1577.0 464.7,1576.0 464.2,1575.0 463.7,1574.0 463.4,1573.0 463.0,1571.7 462.7,1570.5 462.5,1569.0 462.4,1568.0 462.3,1566.5 462.3,1565.0 462.3,1563.5 462.4,1562.0 462.5,1560.5 462.5,1559.5 462.7,1558.0 462.8,1556.5 463.0,1555.3 463.2,1554.0 463.5,1552.6 463.8,1551.5 464.1,1550.5 464.5,1549.2 464.9,1548.0 465.4,1547.0 465.9,1546.0 466.4,1545.0 467.0,1544.1 467.5,1543.3 468.1,1542.5 468.9,1541.5 469.5,1540.9 470.4,1540.0 471.0,1539.5 472.0,1538.7 473.0,1538.0 473.9,1537.5 474.9,1537.0 476.0,1536.5 477.0,1536.2 478.0,1535.9 479.5,1535.6 480.7,1535.5 482.0,1535.4 483.5,1535.4 484.5,1535.6 486.0,1535.9 487.0,1536.2 488.0,1536.5 489.0,1537.0 490.0,1537.6 491.0,1538.3 492.0,1539.0 492.6,1539.5 493.5,1540.4 494.1,1541.0 495.0,1542.0 495.5,1542.6 496.2,1543.5 496.9,1544.5 497.5,1545.4 498.0,1546.2 498.5,1547.1 499.0,1548.1 499.5,1549.3 499.9,1550.5 500.2,1551.5 500.5,1552.7 500.7,1554.0 500.8,1555.5 500.7,1557.0 500.5,1558.5 500.4,1559.5 500.0,1561.0 499.7,1562.0 499.4,1563.0 499.0,1564.1 498.5,1565.5 498.1,1566.5 497.7,1567.5 497.3,1568.5 496.8,1569.5 496.4,1570.5 495.9,1571.5 495.3,1572.5 494.8,1573.5 494.2,1574.5 493.5,1575.5 493.0,1576.2 492.4,1577.0 491.5,1578.0 491.0,1578.5 490.0,1579.4 489.3,1580.0 488.5,1580.5 487.5,1581.1 486.5,1581.6 485.5,1582.0 484.0,1582.4 M483.0,1580.5 481.5,1580.7 480.0,1580.7 478.5,1580.6 477.1,1580.5 476.0,1580.4 474.5,1580.1 473.5,1579.9 472.2,1579.5 471.0,1579.0 470.0,1578.5 469.2,1578.0 468.5,1577.4 467.5,1576.5 467.0,1575.9 466.4,1575.0 465.8,1574.0 465.3,1573.0 465.0,1572.0 464.5,1570.5 464.3,1569.5 464.1,1568.0 464.0,1566.7 464.0,1565.5 463.9,1564.0 464.0,1562.5 464.0,1561.5 464.1,1560.0 464.2,1558.5 464.4,1557.0 464.5,1556.0 464.8,1554.5 465.0,1553.5 465.4,1552.0 465.7,1551.0 466.1,1550.0 466.5,1548.9 467.0,1547.9 467.5,1546.9 468.1,1546.0 468.8,1545.0 469.5,1544.1 470.0,1543.5 471.0,1542.5 471.6,1542.0 472.5,1541.3 473.5,1540.7 474.5,1540.2 475.5,1539.7 476.5,1539.3 477.7,1539.0 479.0,1538.7 480.5,1538.5 481.5,1538.4 483.0,1538.4 484.1,1538.5 485.5,1538.7 486.5,1539.0 487.7,1539.5 488.8,1540.0 489.6,1540.5 490.5,1541.1 491.5,1541.9 492.2,1542.5 493.0,1543.3 493.6,1544.0 494.4,1545.0 495.0,1545.9 495.5,1546.6 496.0,1547.5 496.5,1548.5 497.0,1549.6 497.5,1551.0 497.7,1552.0 498.0,1553.2 498.2,1554.5 498.2,1556.0 498.2,1557.5 498.0,1558.9 497.8,1560.0 497.5,1561.4 497.2,1562.5 496.9,1563.5 496.5,1564.8 496.1,1566.0 495.8,1567.0 495.4,1568.0 495.0,1569.0 494.5,1570.0 494.0,1571.0 493.5,1572.0 492.9,1573.0 492.3,1574.0 491.6,1575.0 491.0,1575.7 490.3,1576.5 489.5,1577.3 488.6,1578.0 488.0,1578.5 487.0,1579.1 486.0,1579.6 485.0,1580.0 483.5,1580.4 M482.0,1578.5 480.5,1578.6 479.0,1578.5 478.0,1578.4 476.5,1578.2 475.2,1578.0 474.0,1577.7 473.0,1577.4 471.9,1577.0 471.0,1576.5 470.0,1575.8 469.1,1575.0 468.5,1574.3 467.9,1573.5 467.3,1572.5 466.9,1571.5 466.5,1570.5 466.1,1569.0 465.9,1568.0 465.8,1566.5 465.7,1565.0 465.7,1563.5 465.7,1562.0 465.8,1560.5 465.9,1559.0 466.0,1557.9 466.2,1556.5 466.4,1555.0 466.7,1554.0 467.0,1552.8 467.4,1551.5 467.8,1550.5 468.3,1549.5 468.9,1548.5 469.5,1547.5 470.0,1546.8 470.7,1546.0 471.5,1545.2 472.3,1544.5 473.0,1544.0 474.0,1543.4 475.0,1542.8 476.0,1542.4 477.4,1542.0 478.5,1541.8 480.0,1541.5 481.0,1541.4 482.5,1541.3 484.0,1541.4 485.0,1541.6 486.5,1542.0 487.5,1542.4 488.5,1542.9 489.5,1543.5 490.2,1544.0 491.0,1544.7 491.8,1545.5 492.5,1546.3 493.0,1547.0 493.7,1548.0 494.2,1549.0 494.7,1550.0 495.1,1551.0 495.5,1552.4 495.7,1553.5 495.9,1555.0 496.0,1556.5 495.9,1558.0 495.7,1559.5 495.5,1560.8 495.2,1562.0 495.0,1563.0 494.5,1564.5 494.2,1565.5 493.9,1566.5 493.5,1567.6 493.0,1568.8 492.5,1569.9 492.0,1570.8 491.5,1571.7 491.0,1572.5 490.3,1573.5 489.5,1574.5 489.0,1575.0 488.0,1575.9 487.3,1576.5 486.5,1577.0 485.5,1577.5 484.3,1578.0 483.0,1578.3 482.0,1578.5 M482.5,1576.1 481.0,1576.2 479.5,1576.2 478.0,1576.1 477.0,1575.9 475.5,1575.6 474.5,1575.3 473.5,1575.0 472.5,1574.5 471.5,1573.9 470.5,1573.0 470.0,1572.4 469.4,1571.5 468.8,1570.5 468.4,1569.5 468.0,1568.0 467.8,1567.0 467.6,1565.5 467.6,1564.0 467.6,1562.5 467.6,1561.0 467.7,1559.5 467.9,1558.0 468.0,1556.9 468.3,1555.5 468.5,1554.5 469.0,1553.0 469.4,1552.0 469.9,1551.0 470.4,1550.0 471.0,1549.2 471.6,1548.5 472.5,1547.6 473.2,1547.0 474.0,1546.4 475.0,1545.8 476.0,1545.4 477.2,1545.0 478.5,1544.7 479.6,1544.5 481.0,1544.3 482.5,1544.2 484.0,1544.3 485.2,1544.5 486.5,1544.9 487.5,1545.4 488.5,1546.0 489.2,1546.5 490.0,1547.2 490.8,1548.0 491.5,1549.0 492.0,1549.8 492.5,1550.7 493.0,1551.9 493.3,1553.0 493.6,1554.0 493.8,1555.5 493.8,1557.0 493.7,1558.5 493.5,1560.0 493.4,1561.0 493.0,1562.5 492.7,1563.5 492.5,1564.5 492.0,1565.9 491.6,1567.0 491.2,1568.0 490.7,1569.0 490.2,1570.0 489.6,1571.0 489.0,1571.9 488.5,1572.5 487.5,1573.5 487.0,1574.0 486.0,1574.7 485.0,1575.3 484.0,1575.7 482.9,1576.0 M481.0,1573.5 479.7,1573.5 478.5,1573.3 477.0,1573.0 476.0,1572.8 475.0,1572.5 474.0,1572.0 473.0,1571.3 472.1,1570.5 471.5,1569.7 471.0,1568.9 470.5,1567.7 470.2,1566.5 470.0,1565.5 469.9,1564.0 469.8,1562.5 469.9,1561.0 469.9,1559.5 470.0,1558.5 470.2,1557.0 470.5,1555.8 470.9,1554.5 471.3,1553.5 471.8,1552.5 472.5,1551.5 473.0,1550.9 473.9,1550.0 474.5,1549.5 475.5,1548.9 476.5,1548.4 477.7,1548.0 479.0,1547.7 480.0,1547.5 481.5,1547.3 483.0,1547.2 484.5,1547.4 485.5,1547.6 486.5,1548.1 487.5,1548.6 488.5,1549.5 489.0,1550.0 489.8,1551.0 490.4,1552.0 490.8,1553.0 491.1,1554.0 491.4,1555.5 491.5,1556.5 491.5,1558.0 491.4,1559.0 491.2,1560.5 491.0,1561.5 490.6,1563.0 490.3,1564.0 490.0,1565.1 489.5,1566.4 489.0,1567.5 488.5,1568.5 488.0,1569.3 487.5,1570.0 486.6,1571.0 486.0,1571.6 485.0,1572.3 484.0,1572.8 483.0,1573.2 481.5,1573.5 M482.5,1569.7 481.0,1569.9 479.5,1569.7 478.5,1569.5 477.2,1569.0 476.2,1568.5 475.4,1568.0 474.5,1567.1 474.0,1566.3 473.5,1565.1 473.2,1564.0 473.1,1562.5 473.0,1561.3 473.0,1560.0 473.1,1559.0 473.3,1557.5 473.6,1556.5 474.0,1555.5 474.6,1554.5 475.4,1553.5 476.0,1553.0 477.0,1552.3 478.0,1551.8 479.0,1551.5 480.5,1551.0 481.5,1550.8 483.0,1550.7 484.5,1551.0 485.5,1551.4 486.4,1552.0 487.0,1552.6 487.7,1553.5 488.2,1554.5 488.5,1555.5 488.8,1557.0 488.8,1558.5 488.6,1560.0 488.4,1561.0 488.0,1562.4 487.6,1563.5 487.3,1564.5 486.8,1565.5 486.3,1566.5 485.6,1567.5 485.0,1568.1 484.0,1569.0 483.0,1569.5 M482.5,1565.2 481.0,1565.4 479.9,1565.0 479.0,1564.2 478.4,1563.5 477.9,1562.5 477.5,1561.4 477.2,1560.0 477.3,1558.5 477.7,1557.5 478.4,1556.5 479.0,1555.9 480.0,1555.1 481.0,1554.6 482.0,1554.3 483.5,1554.5 484.5,1555.0 485.0,1555.5 485.6,1556.5 485.9,1558.0 485.9,1559.5 485.5,1561.0 485.1,1562.0 484.6,1563.0 484.0,1563.9 483.5,1564.5 482.5,1565.2" fill="none" stroke="#85878a" stroke-width="1.0" stroke-linejoin="round"/>
<path d="M483.0,1591.0 481.5,1591.2 480.0,1591.3 478.5,1591.3 477.0,1591.2 475.5,1591.1 474.5,1591.0 473.0,1590.8 471.5,1590.6 470.5,1590.5 469.0,1590.2 468.0,1589.9 466.8,1589.5 465.5,1589.0 464.5,1588.5 463.5,1588.0 462.7,1587.5 462.0,1587.0 461.0,1586.2 460.2,1585.5 459.5,1584.7 458.9,1584.0 458.1,1583.0 457.5,1582.0 457.0,1581.1 456.5,1580.2 456.0,1579.0 455.6,1578.0 455.3,1577.0 455.0,1576.0 454.6,1574.5 454.4,1573.5 454.2,1572.0 454.0,1570.5 454.0,1569.5 453.9,1568.0 453.8,1566.5 453.8,1565.0 453.9,1563.5 454.0,1562.0 454.0,1561.0 454.1,1559.5 454.2,1558.0 454.4,1556.5 454.5,1555.0 454.6,1554.0 454.8,1552.5 455.0,1551.1 455.2,1550.0 455.5,1548.5 455.7,1547.5 456.0,1546.2 456.3,1545.0 456.6,1544.0 457.0,1542.7 457.4,1541.5 457.7,1540.5 458.1,1539.5 458.5,1538.5 459.0,1537.3 459.5,1536.2 460.0,1535.1 460.5,1534.0 461.0,1533.0 461.5,1532.1 462.0,1531.2 462.5,1530.4 463.0,1529.5 463.7,1528.5 464.4,1527.5 465.0,1526.8 465.7,1526.0 466.5,1525.1 467.1,1524.5 468.0,1523.7 468.9,1523.0 469.6,1522.5 470.5,1521.9 471.5,1521.3 472.5,1520.8 473.5,1520.3 474.5,1519.9 475.9,1519.5 477.0,1519.2 478.0,1519.0 479.5,1518.8 481.0,1518.7 482.5,1518.6 484.0,1518.7 485.5,1518.9 486.5,1519.1 488.0,1519.4 489.0,1519.7 490.0,1520.1 491.0,1520.5 492.1,1521.0 493.0,1521.5 494.0,1522.1 495.0,1522.8 495.8,1523.5 496.5,1524.1 497.5,1525.0 498.0,1525.5 498.9,1526.5 499.5,1527.3 M499.4,1579.5 498.7,1580.5 498.0,1581.4 497.5,1582.0 496.7,1583.0 496.0,1583.7 495.3,1584.5 494.5,1585.3 493.7,1586.0 493.0,1586.6 492.0,1587.4 491.1,1588.0 490.3,1588.5 489.4,1589.0 488.4,1589.5 487.2,1590.0 486.0,1590.4 485.0,1590.7 483.5,1591.0 M482.5,1588.1 481.0,1588.2 479.5,1588.3 478.0,1588.2 476.5,1588.1 475.0,1588.0 474.0,1587.9 472.5,1587.7 471.1,1587.5 470.0,1587.3 469.0,1587.0 467.5,1586.5 466.5,1586.1 465.5,1585.6 464.5,1585.0 463.7,1584.5 463.0,1584.0 462.0,1583.1 461.4,1582.5 460.6,1581.5 460.0,1580.7 459.5,1579.9 459.0,1579.0 458.5,1578.0 458.0,1576.9 457.5,1575.5 457.2,1574.5 457.0,1573.5 456.7,1572.0 456.5,1570.7 456.4,1569.5 456.3,1568.0 456.2,1566.5 456.2,1565.0 456.2,1563.5 456.3,1562.0 456.4,1560.5 456.5,1559.0 456.6,1558.0 456.7,1556.5 456.8,1555.0 457.0,1553.7 457.2,1552.5 457.4,1551.0 457.6,1550.0 457.9,1548.5 458.2,1547.5 458.5,1546.3 458.9,1545.0 459.2,1544.0 459.6,1543.0 460.0,1542.0 460.5,1540.8 461.0,1539.7 461.5,1538.6 462.0,1537.6 462.5,1536.7 463.0,1535.8 463.5,1534.9 464.1,1534.0 464.7,1533.0 465.4,1532.0 466.0,1531.2 466.5,1530.5 467.3,1529.5 468.0,1528.8 468.7,1528.0 469.5,1527.3 470.4,1526.5 471.0,1526.0 472.0,1525.3 473.0,1524.7 474.0,1524.1 475.0,1523.7 476.0,1523.3 477.0,1523.0 478.5,1522.6 479.5,1522.4 481.0,1522.3 482.5,1522.3 484.0,1522.4 485.0,1522.5 486.5,1522.8 487.5,1523.1 488.5,1523.5 489.6,1524.0 490.5,1524.5 491.5,1525.2 492.5,1525.9 493.2,1526.5 494.0,1527.3 494.7,1528.0 495.5,1529.0 496.0,1529.6 496.6,1530.5 497.3,1531.5 498.0,1532.5 498.5,1533.4 499.0,1534.2 499.5,1535.1 M499.5,1573.6 499.0,1574.5 498.4,1575.5 497.8,1576.5 497.1,1577.5 496.5,1578.4 496.0,1579.1 495.4,1580.0 494.6,1581.0 494.0,1581.7 493.2,1582.5 492.5,1583.2 491.6,1584.0 491.0,1584.5 490.0,1585.2 489.0,1585.8 488.0,1586.4 487.0,1586.8 486.0,1587.2 485.0,1587.5 483.5,1587.9 482.5,1588.1 M481.5,1585.0 480.0,1585.1 478.5,1585.1 477.0,1585.1 476.0,1585.0 474.5,1584.8 473.0,1584.6 472.0,1584.5 470.5,1584.2 469.5,1583.9 468.5,1583.5 467.3,1583.0 466.4,1582.5 465.5,1581.9 464.5,1581.2 463.8,1580.5 463.0,1579.7 462.4,1579.0 461.7,1578.0 461.1,1577.0 460.7,1576.0 460.2,1575.0 459.9,1574.0 459.5,1572.7 459.2,1571.5 459.0,1570.3 458.8,1569.0 458.7,1567.5 458.6,1566.0 458.6,1564.5 458.7,1563.0 458.7,1561.5 458.8,1560.0 458.9,1558.5 459.0,1557.5 459.2,1556.0 459.3,1554.5 459.5,1553.3 459.7,1552.0 460.0,1550.6 460.3,1549.5 460.5,1548.5 461.0,1547.0 461.3,1546.0 461.7,1545.0 462.1,1544.0 462.5,1543.0 463.0,1542.0 463.6,1541.0 464.1,1540.0 464.7,1539.0 465.4,1538.0 466.0,1537.1 466.5,1536.4 467.2,1535.5 468.0,1534.6 468.5,1534.0 469.4,1533.0 470.0,1532.4 470.9,1531.5 471.5,1531.0 472.5,1530.2 473.4,1529.5 474.2,1529.0 475.1,1528.5 476.1,1528.0 477.4,1527.5 478.5,1527.2 479.5,1526.9 481.0,1526.8 482.5,1526.7 484.0,1526.9 485.0,1527.1 486.2,1527.5 487.3,1528.0 488.2,1528.5 489.0,1529.0 490.0,1529.8 490.8,1530.5 491.5,1531.2 492.2,1532.0 493.0,1533.0 493.5,1533.7 494.0,1534.5 494.7,1535.5 495.3,1536.5 495.9,1537.5 496.5,1538.5 497.0,1539.3 497.5,1540.2 498.0,1541.1 498.5,1542.1 499.0,1543.1 499.5,1544.1 M499.9,1564.5 499.5,1565.7 499.0,1567.0 498.6,1568.0 498.2,1569.0 497.7,1570.0 497.3,1571.0 496.8,1572.0 496.3,1573.0 495.8,1574.0 495.2,1575.0 494.6,1576.0 494.0,1576.9 493.5,1577.6 492.8,1578.5 492.0,1579.5 491.5,1580.0 490.5,1581.0 489.9,1581.5 489.0,1582.2 488.0,1582.9 487.0,1583.4 486.0,1583.9 485.0,1584.3 484.0,1584.6 482.5,1584.9 481.5,1585.0" fill="none" stroke="#85878a" stroke-width="0.9" stroke-linejoin="round"/>
<rect x="225.7" y="1470" width="153.7" height="153.1" stroke="#3a3a3c" stroke-width="1.3" fill="none" />
<line x1="378.3" y1="1470" x2="378.3" y2="1623.1" stroke="#3a3a3c" stroke-width="1.2" />
<rect x="507.5" y="1470.6" width="153.7" height="152.5" stroke="#3a3a3c" stroke-width="1.3" fill="none" />
<line x1="660.1" y1="1470.6" x2="660.1" y2="1623.1" stroke="#3a3a3c" stroke-width="1.2" />
<text x="335.8" y="1484.5" font-size="15.8" text-anchor="middle" style="font-family:'Liberation Serif','Times New Roman',serif;stroke-width:.1px">34.6%</text>
<text x="625.9" y="1484.5" font-size="15.8" text-anchor="middle" style="font-family:'Liberation Serif','Times New Roman',serif;stroke-width:.1px">31.7%</text>
<text x="11.61" y="1422.33" font-size="39.5" font-weight="bold">h</text>
<text x="246.63" y="1433.52" font-size="27.3" text-anchor="middle">-</text>
<text x="537.62" y="1433.52" font-size="27.3" text-anchor="middle">Hp</text>
<text x="100.73" y="1513.11" font-size="27.3" text-anchor="middle" transform="rotate(-90 100.73 1513.11)">CD44</text>
<line x1="89.95" y1="1708.34" x2="89.95" y2="1576.53" stroke="#231f20" stroke-width="4" />
<polygon points="89.95,1563.26 82.45,1582.26 89.95,1577.26 97.45,1582.26" stroke="none" stroke-width="0" fill="#231f20" />
<line x1="118.13" y1="1734.04" x2="543.01" y2="1734.04" stroke="#231f20" stroke-width="4" />
<polygon points="554.61,1734.04 535.61,1726.54 540.61,1734.04 535.61,1741.54" stroke="none" stroke-width="0" fill="#231f20" />
<text x="583.63" y="1746.48" font-size="27.3">Ki-67</text>
<text x="11.51" y="1848.16" font-size="39.5" font-weight="bold">i</text>
<rect x="200.31" y="1982.62" width="40.14" height="147.41" stroke="#231f20" stroke-width="2.7" fill="#fff" />
<rect x="253.74" y="1987.68" width="39.67" height="142.35" stroke="#231f20" stroke-width="2.7" fill="#939598" />
<rect x="333.88" y="1979.39" width="39.67" height="150.64" stroke="#231f20" stroke-width="2.7" fill="#fff" />
<rect x="387.3" y="1992.29" width="39.67" height="137.74" stroke="#231f20" stroke-width="2.7" fill="#939598" />
<line x1="177.32" y1="1852.29" x2="177.32" y2="2131.53" stroke="#231f20" stroke-width="3" />
<line x1="168.11" y1="1853.69" x2="177.32" y2="1853.69" stroke="#231f20" stroke-width="2.9" />
<text x="158.89" y="1863.49" font-size="27.3" text-anchor="end">50</text>
<line x1="168.11" y1="1909.42" x2="177.32" y2="1909.42" stroke="#231f20" stroke-width="2.9" />
<text x="158.89" y="1919.22" font-size="27.3" text-anchor="end">40</text>
<line x1="168.11" y1="1964.69" x2="177.32" y2="1964.69" stroke="#231f20" stroke-width="2.9" />
<text x="158.89" y="1974.49" font-size="27.3" text-anchor="end">30</text>
<line x1="168.11" y1="2019.49" x2="177.32" y2="2019.49" stroke="#231f20" stroke-width="2.9" />
<text x="158.89" y="2029.29" font-size="27.3" text-anchor="end">20</text>
<line x1="168.11" y1="2074.76" x2="177.32" y2="2074.76" stroke="#231f20" stroke-width="2.9" />
<text x="158.89" y="2084.56" font-size="27.3" text-anchor="end">10</text>
<line x1="168.11" y1="2130.03" x2="177.32" y2="2130.03" stroke="#231f20" stroke-width="2.9" />
<text x="158.89" y="2139.83" font-size="27.3" text-anchor="end">0</text>
<line x1="168.11" y1="2130.03" x2="450.43" y2="2130.03" stroke="#231f20" stroke-width="3" />
<line x1="220.15" y1="2130.03" x2="220.15" y2="2138.32" stroke="#231f20" stroke-width="2.9" />
<line x1="273.58" y1="2130.03" x2="273.58" y2="2138.32" stroke="#231f20" stroke-width="2.9" />
<line x1="353.25" y1="2130.03" x2="353.25" y2="2138.32" stroke="#231f20" stroke-width="2.9" />
<line x1="406.68" y1="2130.03" x2="406.68" y2="2138.32" stroke="#231f20" stroke-width="2.9" />
<line x1="220.15" y1="1947.18" x2="220.15" y2="2013.51" stroke="#231f20" stroke-width="2.6" />
<line x1="208.64" y1="1947.18" x2="232.58" y2="1947.18" stroke="#231f20" stroke-width="2.6" />
<line x1="208.64" y1="2013.51" x2="232.58" y2="2013.51" stroke="#231f20" stroke-width="2.6" />
<line x1="273.58" y1="1962.84" x2="273.58" y2="2008.9" stroke="#231f20" stroke-width="1.7" />
<line x1="262.52" y1="1962.84" x2="284.63" y2="1962.84" stroke="#231f20" stroke-width="1.7" />
<line x1="262.52" y1="2008.9" x2="284.63" y2="2008.9" stroke="#231f20" stroke-width="1.7" />
<line x1="353.25" y1="1943.96" x2="353.25" y2="1978.96" stroke="#231f20" stroke-width="2.6" />
<line x1="341.74" y1="1943.96" x2="365.23" y2="1943.96" stroke="#231f20" stroke-width="2.6" />
<line x1="406.68" y1="1964.23" x2="406.68" y2="2016.27" stroke="#231f20" stroke-width="1.7" />
<line x1="395.16" y1="1964.23" x2="418.19" y2="1964.23" stroke="#231f20" stroke-width="1.7" />
<line x1="395.16" y1="2016.27" x2="418.19" y2="2016.27" stroke="#231f20" stroke-width="1.7" />
<circle cx="221.07" cy="1893.76" r="5.3" stroke="#231f20" stroke-width="2.8" fill="#fff"/>
<circle cx="221.07" cy="1939.82" r="5.3" stroke="#231f20" stroke-width="2.8" fill="#fff"/>
<circle cx="221.07" cy="1958.7" r="5.3" stroke="#231f20" stroke-width="2.8" fill="#fff"/>
<circle cx="221.07" cy="2033.31" r="5.3" stroke="#231f20" stroke-width="2.8" fill="#fff"/>
<circle cx="221.07" cy="2077.99" r="5.3" stroke="#231f20" stroke-width="2.8" fill="#fff"/>
<circle cx="273.58" cy="1909.42" r="5.3" stroke="#231f20" stroke-width="2.8" fill="#fff"/>
<circle cx="273.58" cy="1955.47" r="5.3" stroke="#231f20" stroke-width="2.8" fill="#fff"/>
<circle cx="273.58" cy="2012.58" r="5.3" stroke="#231f20" stroke-width="2.8" fill="#fff"/>
<circle cx="262.52" cy="2026.4" r="5.3" stroke="#231f20" stroke-width="2.8" fill="#fff"/>
<circle cx="285.09" cy="2025.48" r="5.3" stroke="#231f20" stroke-width="2.8" fill="#fff"/>
<circle cx="353.25" cy="1912.18" r="5.3" stroke="#231f20" stroke-width="2.8" fill="#fff"/>
<circle cx="342.2" cy="2010.28" r="5.3" stroke="#231f20" stroke-width="2.8" fill="#fff"/>
<circle cx="364.77" cy="2008.9" r="5.3" stroke="#231f20" stroke-width="2.8" fill="#fff"/>
<circle cx="406.68" cy="1903.89" r="5.3" stroke="#231f20" stroke-width="2.8" fill="#fff"/>
<circle cx="406.68" cy="1964.69" r="5.3" stroke="#231f20" stroke-width="2.8" fill="#fff"/>
<circle cx="406.68" cy="2002.45" r="5.3" stroke="#231f20" stroke-width="2.8" fill="#fff"/>
<circle cx="406.68" cy="2030.09" r="5.3" stroke="#231f20" stroke-width="2.8" fill="#fff"/>
<circle cx="406.68" cy="2051.73" r="5.3" stroke="#231f20" stroke-width="2.8" fill="#fff"/>
<text x="77.8" y="1994" font-size="27.3" text-anchor="middle" transform="rotate(-90 77.8 1994)">% Ki-67+ cells</text>
<text x="107.1" y="1994" font-size="27.3" text-anchor="middle" transform="rotate(-90 107.1 1994)">out of CD44+, CD4+</text>
<text x="218.77" y="2164.57" font-size="27.3" text-anchor="middle">-</text>
<text x="273.58" y="2164.57" font-size="27.3" text-anchor="middle">Hp</text>
<text x="352.33" y="2164.57" font-size="27.3" text-anchor="middle">-</text>
<text x="406.68" y="2164.57" font-size="27.3" text-anchor="middle">Hp</text>
<line x1="198.96" y1="2173.78" x2="296.14" y2="2173.78" stroke="#231f20" stroke-width="1.6" />
<line x1="333.45" y1="2173.78" x2="430.63" y2="2173.78" stroke="#231f20" stroke-width="1.6" />
<text x="239.49" y="2196.81" font-size="27.3" text-anchor="middle">2w</text>
<text x="375.36" y="2196.81" font-size="27.3" text-anchor="middle">4w</text>
<text x="493.72" y="1848.16" font-size="39.5" font-weight="bold">j</text>
<rect x="636.01" y="2036.04" width="48.88" height="92.61" stroke="#231f20" stroke-width="2.7" fill="#fff" />
<rect x="715.22" y="2016.7" width="48.89" height="111.95" stroke="#231f20" stroke-width="2.7" fill="#939598" />
<line x1="608.87" y1="1850.91" x2="608.87" y2="2130.15" stroke="#231f20" stroke-width="3" />
<line x1="598.73" y1="1852.31" x2="608.87" y2="1852.31" stroke="#231f20" stroke-width="2.9" />
<text x="591.82" y="1862.11" font-size="27.3" text-anchor="end">3</text>
<line x1="598.73" y1="1944.42" x2="608.87" y2="1944.42" stroke="#231f20" stroke-width="2.9" />
<text x="591.82" y="1954.22" font-size="27.3" text-anchor="end">2</text>
<line x1="598.73" y1="2036.53" x2="608.87" y2="2036.53" stroke="#231f20" stroke-width="2.9" />
<text x="591.82" y="2046.33" font-size="27.3" text-anchor="end">1</text>
<line x1="598.73" y1="2128.65" x2="608.87" y2="2128.65" stroke="#231f20" stroke-width="2.9" />
<text x="591.82" y="2138.45" font-size="27.3" text-anchor="end">0</text>
<line x1="598.73" y1="2128.65" x2="792.17" y2="2128.65" stroke="#231f20" stroke-width="3" />
<line x1="659.99" y1="2128.65" x2="659.99" y2="2136.94" stroke="#231f20" stroke-width="2.9" />
<line x1="739.21" y1="2128.65" x2="739.21" y2="2136.94" stroke="#231f20" stroke-width="2.9" />
<line x1="660.91" y1="2023.64" x2="660.91" y2="2044.82" stroke="#231f20" stroke-width="2.6" />
<line x1="647.09" y1="2023.64" x2="674.73" y2="2023.64" stroke="#231f20" stroke-width="2.6" />
<line x1="647.09" y1="2044.82" x2="674.73" y2="2044.82" stroke="#231f20" stroke-width="2.6" />
<line x1="740.13" y1="1988.64" x2="740.13" y2="2040.22" stroke="#231f20" stroke-width="2.6" />
<line x1="726.31" y1="1988.64" x2="753.02" y2="1988.64" stroke="#231f20" stroke-width="2.6" />
<line x1="726.31" y1="2040.22" x2="753.02" y2="2040.22" stroke="#231f20" stroke-width="2.6" />
<circle cx="660.91" cy="1994.16" r="5.3" stroke="#231f20" stroke-width="2.8" fill="#fff"/>
<circle cx="681.64" cy="2032.85" r="5.3" stroke="#231f20" stroke-width="2.8" fill="#fff"/>
<circle cx="640.18" cy="2052.65" r="5.3" stroke="#231f20" stroke-width="2.8" fill="#fff"/>
<circle cx="660.91" cy="2043.44" r="5.3" stroke="#231f20" stroke-width="2.8" fill="#fff"/>
<circle cx="681.64" cy="2048.05" r="5.3" stroke="#231f20" stroke-width="2.8" fill="#fff"/>
<circle cx="740.13" cy="1940.28" r="5.3" stroke="#231f20" stroke-width="2.8" fill="#fff"/>
<circle cx="740.13" cy="2024.56" r="5.3" stroke="#231f20" stroke-width="2.8" fill="#fff"/>
<circle cx="740.13" cy="2038.84" r="5.3" stroke="#231f20" stroke-width="2.8" fill="#fff"/>
<circle cx="740.13" cy="2055.42" r="5.3" stroke="#231f20" stroke-width="2.8" fill="#fff"/>
<text x="516.2" y="1980.2" font-size="27.3" text-anchor="middle" transform="rotate(-90 516.2 1980.2)">Fold change</text>
<text x="548.1" y="1980.2" font-size="27.3" text-anchor="middle" transform="rotate(-90 548.1 1980.2)">(<tspan font-style="italic">Ki67</tspan> mRNA)</text>
<text x="659.99" y="2168.26" font-size="27.3" text-anchor="middle">-</text>
<text x="739.21" y="2168.26" font-size="27.3" text-anchor="middle">Hp</text>
<text x="739.21" y="2199.11" font-size="27.3" text-anchor="middle">4w</text>
<text x="821.45" y="1423.39" font-size="39.5" font-weight="bold">k</text>
<line x1="952.71" y1="1670.48" x2="1135.33" y2="1670.48" stroke="#231f20" stroke-width="2.8" stroke-dasharray="0.1 5.7" stroke-linecap="round"/>
<rect x="977.55" y="1612.42" width="49.11" height="102.28" stroke="#231f20" stroke-width="2.7" fill="#939598" />
<rect x="1057.23" y="1655.02" width="49.57" height="59.68" stroke="#231f20" stroke-width="2.7" fill="#231f20" />
<line x1="949.26" y1="1432.35" x2="949.26" y2="1716.2" stroke="#231f20" stroke-width="3" />
<line x1="940.51" y1="1433.75" x2="949.26" y2="1433.75" stroke="#231f20" stroke-width="2.9" />
<text x="926.23" y="1443.55" font-size="27.3" text-anchor="end">50</text>
<line x1="940.51" y1="1489.71" x2="949.26" y2="1489.71" stroke="#231f20" stroke-width="2.9" />
<text x="926.23" y="1499.51" font-size="27.3" text-anchor="end">40</text>
<line x1="940.51" y1="1546.13" x2="949.26" y2="1546.13" stroke="#231f20" stroke-width="2.9" />
<text x="926.23" y="1555.93" font-size="27.3" text-anchor="end">30</text>
<line x1="940.51" y1="1602.32" x2="949.26" y2="1602.32" stroke="#231f20" stroke-width="2.9" />
<text x="926.23" y="1612.12" font-size="27.3" text-anchor="end">20</text>
<line x1="940.51" y1="1658.51" x2="949.26" y2="1658.51" stroke="#231f20" stroke-width="2.9" />
<text x="926.23" y="1668.31" font-size="27.3" text-anchor="end">10</text>
<line x1="940.51" y1="1714.7" x2="949.26" y2="1714.7" stroke="#231f20" stroke-width="2.9" />
<text x="926.23" y="1724.5" font-size="27.3" text-anchor="end">0</text>
<line x1="940.51" y1="1714.7" x2="1135.33" y2="1714.7" stroke="#231f20" stroke-width="3" />
<line x1="1001.53" y1="1714.7" x2="1001.53" y2="1722.3" stroke="#231f20" stroke-width="2.9" />
<line x1="1082.13" y1="1714.7" x2="1082.13" y2="1722.3" stroke="#231f20" stroke-width="2.9" />
<line x1="1001.53" y1="1601.17" x2="1001.53" y2="1619.59" stroke="#231f20" stroke-width="2.6" />
<line x1="987.94" y1="1601.17" x2="1016.04" y2="1601.17" stroke="#231f20" stroke-width="2.6" />
<line x1="987.94" y1="1619.59" x2="1016.04" y2="1619.59" stroke="#231f20" stroke-width="2.6" />
<line x1="1082.13" y1="1645.15" x2="1082.13" y2="1654.82" stroke="#231f20" stroke-width="2.6" />
<line x1="1067.85" y1="1645.15" x2="1096.64" y2="1645.15" stroke="#231f20" stroke-width="2.6" />
<circle cx="990.71" cy="1592.65" r="5.7" stroke="#231f20" stroke-width="2.8" fill="#fff"/>
<circle cx="1013.74" cy="1592.65" r="5.7" stroke="#231f20" stroke-width="2.8" fill="#fff"/>
<circle cx="1001.53" cy="1606.47" r="5.7" stroke="#231f20" stroke-width="2.8" fill="#fff"/>
<circle cx="1001.53" cy="1623.74" r="5.7" stroke="#231f20" stroke-width="2.8" fill="#fff"/>
<circle cx="1001.53" cy="1638.7" r="5.7" stroke="#231f20" stroke-width="2.8" fill="#fff"/>
<circle cx="1082.13" cy="1634.1" r="5.7" stroke="#231f20" stroke-width="2.8" fill="#fff"/>
<circle cx="1060.94" cy="1644.46" r="5.7" stroke="#231f20" stroke-width="2.8" fill="#fff"/>
<circle cx="1103.55" cy="1650.91" r="5.7" stroke="#231f20" stroke-width="2.8" fill="#fff"/>
<circle cx="1082.13" cy="1654.82" r="5.7" stroke="#231f20" stroke-width="2.8" fill="#fff"/>
<circle cx="1082.13" cy="1679.69" r="5.7" stroke="#231f20" stroke-width="2.8" fill="#fff"/>
<polyline points="1001.53,1581.13 1001.53,1570.31 1082.13,1570.31 1082.13,1623.74" stroke="#231f20" stroke-width="2.8" fill="none" />
<text x="1042.53" y="1573.23" font-size="23" text-anchor="middle" font-weight="bold" style="font-family:'Liberation Sans',Arial,sans-serif;letter-spacing:1.5px">**</text>
<text x="841.72" y="1576.53" font-size="27.3" text-anchor="middle" transform="rotate(-90 841.72 1576.53)">% ST2+,Foxp3- cells</text>
<text x="872.57" y="1576.53" font-size="27.3" text-anchor="middle" transform="rotate(-90 872.57 1576.53)">out of CD4+</text>
<text x="998.77" y="1751.08" font-size="27.3" text-anchor="middle">Hp</text>
<text x="1083.51" y="1751.08" font-size="27.3" text-anchor="middle">Hp</text>
<text x="998.77" y="1781.48" font-size="27.3" text-anchor="middle">PBS</text>
<text x="1083.51" y="1781.48" font-size="27.3" text-anchor="middle">FTY720</text>
<text x="821.45" y="1839.05" font-size="39.5" font-weight="bold">l</text>
<line x1="965.38" y1="2009.23" x2="1148.45" y2="2009.23" stroke="#231f20" stroke-width="2.8" stroke-dasharray="0.1 5.7" stroke-linecap="round"/>
<rect x="990.22" y="2083.81" width="49.11" height="44.01" stroke="#231f20" stroke-width="2.7" fill="#939598" />
<rect x="1070.35" y="1995.15" width="49.12" height="132.67" stroke="#231f20" stroke-width="2.7" fill="#231f20" />
<line x1="961.92" y1="1845.48" x2="961.92" y2="2129.32" stroke="#231f20" stroke-width="3" />
<line x1="953.17" y1="1846.88" x2="961.92" y2="1846.88" stroke="#231f20" stroke-width="2.9" />
<text x="938.89" y="1856.68" font-size="27.3" text-anchor="end">100</text>
<line x1="953.17" y1="1903.53" x2="961.92" y2="1903.53" stroke="#231f20" stroke-width="2.9" />
<text x="938.89" y="1913.33" font-size="27.3" text-anchor="end">80</text>
<line x1="953.17" y1="1959.95" x2="961.92" y2="1959.95" stroke="#231f20" stroke-width="2.9" />
<text x="938.89" y="1969.75" font-size="27.3" text-anchor="end">60</text>
<line x1="953.17" y1="2016.14" x2="961.92" y2="2016.14" stroke="#231f20" stroke-width="2.9" />
<text x="938.89" y="2025.94" font-size="27.3" text-anchor="end">40</text>
<line x1="953.17" y1="2072.1" x2="961.92" y2="2072.1" stroke="#231f20" stroke-width="2.9" />
<text x="938.89" y="2081.9" font-size="27.3" text-anchor="end">20</text>
<line x1="953.17" y1="2127.82" x2="961.92" y2="2127.82" stroke="#231f20" stroke-width="2.9" />
<text x="938.89" y="2137.62" font-size="27.3" text-anchor="end">0</text>
<line x1="953.17" y1="2127.82" x2="1148.45" y2="2127.82" stroke="#231f20" stroke-width="3" />
<line x1="1014.43" y1="2127.82" x2="1014.43" y2="2135.42" stroke="#231f20" stroke-width="2.9" />
<line x1="1095.03" y1="2127.82" x2="1095.03" y2="2135.42" stroke="#231f20" stroke-width="2.9" />
<line x1="1014.43" y1="2075.55" x2="1014.43" y2="2089.37" stroke="#231f20" stroke-width="2.6" />
<line x1="1001.07" y1="2075.55" x2="1028.7" y2="2075.55" stroke="#231f20" stroke-width="2.6" />
<line x1="1001.07" y1="2089.37" x2="1028.7" y2="2089.37" stroke="#231f20" stroke-width="2.6" />
<line x1="1095.03" y1="1981.59" x2="1095.03" y2="1994.95" stroke="#231f20" stroke-width="2.6" />
<line x1="1080.52" y1="1981.59" x2="1109.3" y2="1981.59" stroke="#231f20" stroke-width="2.6" />
<circle cx="1003.37" cy="2070.94" r="5.7" stroke="#231f20" stroke-width="2.8" fill="#fff"/>
<circle cx="1025.94" cy="2070.94" r="5.7" stroke="#231f20" stroke-width="2.8" fill="#fff"/>
<circle cx="1003.37" cy="2094.43" r="5.7" stroke="#231f20" stroke-width="2.8" fill="#fff"/>
<circle cx="1025.94" cy="2090.06" r="5.7" stroke="#231f20" stroke-width="2.8" fill="#fff"/>
<circle cx="1095.03" cy="1960.87" r="5.7" stroke="#231f20" stroke-width="2.8" fill="#fff"/>
<circle cx="1106.54" cy="1984.59" r="5.7" stroke="#231f20" stroke-width="2.8" fill="#fff"/>
<circle cx="1083.97" cy="1991.5" r="5.7" stroke="#231f20" stroke-width="2.8" fill="#fff"/>
<circle cx="1105.85" cy="1999.1" r="5.7" stroke="#231f20" stroke-width="2.8" fill="#fff"/>
<circle cx="1095.03" cy="2031.8" r="5.7" stroke="#231f20" stroke-width="2.8" fill="#fff"/>
<polyline points="1014.43,2049.07 1014.43,1928.63 1095.49,1928.63 1095.49,1946.59" stroke="#231f20" stroke-width="2.8" fill="none" />
<text x="1057.04" y="1930.17" font-size="23" text-anchor="middle" font-weight="bold" style="font-family:'Liberation Sans',Arial,sans-serif;letter-spacing:1.5px">***</text>
<text x="844.94" y="1990.35" font-size="27.3" text-anchor="middle" transform="rotate(-90 844.94 1990.35)">%Tbet+,CXCR3+ cells</text>
<text x="874.88" y="1990.35" font-size="27.3" text-anchor="middle" transform="rotate(-90 874.88 1990.35)">out of CD4+</text>
<text x="1012.58" y="2167.66" font-size="27.3" text-anchor="middle">Hp</text>
<text x="1095.49" y="2167.66" font-size="27.3" text-anchor="middle">Hp</text>
<text x="1012.58" y="2197.6" font-size="27.3" text-anchor="middle">PBS</text>
<text x="1095.49" y="2197.6" font-size="27.3" text-anchor="middle">FTY720</text>
<text x="1186.12" y="1421.86" font-size="39.5" font-weight="bold">m</text>
<text x="1735.92" y="1421.86" font-size="27.3" text-anchor="middle">FTY720</text>
<line x1="1647.85" y1="1425.6" x2="1809.01" y2="1425.6" stroke="#231f20" stroke-width="1.7" />
<circle cx="1360.02" cy="1446.37" r="5.6" stroke="#231f20" stroke-width="2.7" fill="#fff"/>
<line x1="1343.62" y1="1446.37" x2="1376.42" y2="1446.37" stroke="#231f20" stroke-width="2.4" />
<text x="1384.75" y="1456.09" font-size="24.6">- PBS</text>
<line x1="1343.62" y1="1487.59" x2="1376.42" y2="1487.59" stroke="#231f20" stroke-width="2.4" />
<rect x="1354.32" y="1481.89" width="11.4" height="11.4" rx="1" stroke="#231f20" stroke-width="2.7" fill="#fff"/>
<text x="1384.75" y="1496.56" font-size="24.6">- SWAg</text>
<circle cx="1503.56" cy="1446.37" r="5.6" stroke="#231f20" stroke-width="2.7" fill="#a7a9ac"/>
<line x1="1487.16" y1="1446.37" x2="1519.96" y2="1446.37" stroke="#231f20" stroke-width="2.4" />
<text x="1527.92" y="1456.09" font-size="24.6">Hp PBS</text>
<line x1="1487.16" y1="1487.59" x2="1519.96" y2="1487.59" stroke="#231f20" stroke-width="2.4" />
<rect x="1497.86" y="1481.89" width="11.4" height="11.4" rx="1" stroke="#231f20" stroke-width="2.7" fill="#a7a9ac"/>
<text x="1527.92" y="1496.56" font-size="24.6">Hp SWAg</text>
<line x1="1649.07" y1="1446.37" x2="1681.87" y2="1446.37" stroke="#231f20" stroke-width="2.4" />
<circle cx="1665.47" cy="1446.37" r="5.6" stroke="#231f20" stroke-width="2.7" fill="#231f20"/>
<text x="1690.95" y="1453.46" font-size="24.6">Hp PBS</text>
<line x1="1649.07" y1="1487.59" x2="1681.87" y2="1487.59" stroke="#231f20" stroke-width="2.4" />
<rect x="1659.77" y="1481.89" width="11.4" height="11.4" rx="1" stroke="#231f20" stroke-width="2.7" fill="#231f20"/>
<text x="1690.95" y="1493.57" font-size="24.6">Hp SWAg</text>
<text x="1208.6" y="1643.73" font-size="27.3" text-anchor="middle" transform="rotate(-90 1208.6 1643.73)">Difference in footpad</text>
<text x="1243.08" y="1643.73" font-size="27.3" text-anchor="middle" transform="rotate(-90 1243.08 1643.73)">thickness (mm)</text>
<line x1="1334.91" y1="1496.54" x2="1334.91" y2="1783.15" stroke="#231f20" stroke-width="3" />
<line x1="1321.79" y1="1497.94" x2="1334.91" y2="1497.94" stroke="#231f20" stroke-width="2.9" />
<text x="1312.42" y="1507.74" font-size="27.3" text-anchor="end">0.5</text>
<line x1="1321.79" y1="1544.79" x2="1334.91" y2="1544.79" stroke="#231f20" stroke-width="2.9" />
<text x="1312.42" y="1554.59" font-size="27.3" text-anchor="end">0.4</text>
<line x1="1321.79" y1="1592.38" x2="1334.91" y2="1592.38" stroke="#231f20" stroke-width="2.9" />
<text x="1312.42" y="1602.18" font-size="27.3" text-anchor="end">0.3</text>
<line x1="1321.79" y1="1639.23" x2="1334.91" y2="1639.23" stroke="#231f20" stroke-width="2.9" />
<text x="1312.42" y="1649.03" font-size="27.3" text-anchor="end">0.2</text>
<line x1="1321.79" y1="1686.83" x2="1334.91" y2="1686.83" stroke="#231f20" stroke-width="2.9" />
<text x="1312.42" y="1696.63" font-size="27.3" text-anchor="end">0.1</text>
<line x1="1321.79" y1="1734.05" x2="1334.91" y2="1734.05" stroke="#231f20" stroke-width="2.9" />
<text x="1312.42" y="1743.85" font-size="27.3" text-anchor="end">0.0</text>
<line x1="1321.79" y1="1781.65" x2="1334.91" y2="1781.65" stroke="#231f20" stroke-width="2.9" />
<text x="1312.42" y="1791.45" font-size="27.3" text-anchor="end">-0.1</text>
<line x1="1321.79" y1="1781.65" x2="1760.29" y2="1781.65" stroke="#231f20" stroke-width="3" />
<line x1="1399.74" y1="1781.65" x2="1399.74" y2="1792.89" stroke="#231f20" stroke-width="2.9" />
<line x1="1497.94" y1="1781.65" x2="1497.94" y2="1792.89" stroke="#231f20" stroke-width="2.9" />
<line x1="1596.13" y1="1781.65" x2="1596.13" y2="1792.89" stroke="#231f20" stroke-width="2.9" />
<line x1="1694.7" y1="1781.65" x2="1694.7" y2="1792.89" stroke="#231f20" stroke-width="2.9" />
<line x1="1340.53" y1="1734.05" x2="1756.54" y2="1734.05" stroke="#231f20" stroke-width="2" stroke-dasharray="2.6 3.2"/>
<line x1="1497.94" y1="1708.57" x2="1497.94" y2="1727.31" stroke="#231f20" stroke-width="1.4" />
<line x1="1492.04" y1="1708.57" x2="1503.84" y2="1708.57" stroke="#231f20" stroke-width="1.4" />
<line x1="1492.04" y1="1727.31" x2="1503.84" y2="1727.31" stroke="#231f20" stroke-width="1.4" />
<line x1="1596.13" y1="1682.33" x2="1596.13" y2="1712.31" stroke="#231f20" stroke-width="1.4" />
<line x1="1590.23" y1="1682.33" x2="1602.03" y2="1682.33" stroke="#231f20" stroke-width="1.4" />
<line x1="1590.23" y1="1712.31" x2="1602.03" y2="1712.31" stroke="#231f20" stroke-width="1.4" />
<line x1="1694.7" y1="1693.58" x2="1694.7" y2="1725.43" stroke="#231f20" stroke-width="1.4" />
<line x1="1688.8" y1="1693.58" x2="1700.6" y2="1693.58" stroke="#231f20" stroke-width="1.4" />
<line x1="1688.8" y1="1725.43" x2="1700.6" y2="1725.43" stroke="#231f20" stroke-width="1.4" />
<circle cx="1399.74" cy="1734.05" r="5.6" stroke="#231f20" stroke-width="2.7" fill="#fff"/>
<circle cx="1497.94" cy="1717.94" r="5.6" stroke="#231f20" stroke-width="2.7" fill="#fff"/>
<circle cx="1596.13" cy="1696.57" r="5.6" stroke="#231f20" stroke-width="2.7" fill="#fff"/>
<circle cx="1694.7" cy="1709.32" r="5.6" stroke="#231f20" stroke-width="2.7" fill="#fff"/>
<polyline points="1399.74,1734.05 1497.94,1717.94 1596.13,1696.57 1694.7,1709.32" stroke="#231f20" stroke-width="2.6" fill="none" />
<line x1="1596.13" y1="1674.84" x2="1596.13" y2="1706.69" stroke="#231f20" stroke-width="1.4" />
<line x1="1590.23" y1="1674.84" x2="1602.03" y2="1674.84" stroke="#231f20" stroke-width="1.4" />
<line x1="1590.23" y1="1706.69" x2="1602.03" y2="1706.69" stroke="#231f20" stroke-width="1.4" />
<line x1="1694.7" y1="1678.58" x2="1694.7" y2="1708.57" stroke="#231f20" stroke-width="1.4" />
<line x1="1688.8" y1="1678.58" x2="1700.6" y2="1678.58" stroke="#231f20" stroke-width="1.4" />
<line x1="1688.8" y1="1708.57" x2="1700.6" y2="1708.57" stroke="#231f20" stroke-width="1.4" />
<circle cx="1399.74" cy="1734.05" r="5.6" stroke="#231f20" stroke-width="2.7" fill="#c7c8ca"/>
<circle cx="1497.94" cy="1711.19" r="5.6" stroke="#231f20" stroke-width="2.7" fill="#c7c8ca"/>
<circle cx="1596.13" cy="1686.08" r="5.6" stroke="#231f20" stroke-width="2.7" fill="#c7c8ca"/>
<circle cx="1694.7" cy="1692.83" r="5.6" stroke="#231f20" stroke-width="2.7" fill="#c7c8ca"/>
<polyline points="1399.74,1734.05 1497.94,1711.19 1596.13,1686.08 1694.7,1692.83" stroke="#231f20" stroke-width="2.6" fill="none" />
<line x1="1497.94" y1="1719.81" x2="1497.94" y2="1749.04" stroke="#231f20" stroke-width="1.4" />
<line x1="1492.04" y1="1719.81" x2="1503.84" y2="1719.81" stroke="#231f20" stroke-width="1.4" />
<line x1="1492.04" y1="1749.04" x2="1503.84" y2="1749.04" stroke="#231f20" stroke-width="1.4" />
<line x1="1596.13" y1="1717.94" x2="1596.13" y2="1741.55" stroke="#231f20" stroke-width="1.4" />
<line x1="1590.23" y1="1717.94" x2="1602.03" y2="1717.94" stroke="#231f20" stroke-width="1.4" />
<line x1="1590.23" y1="1741.55" x2="1602.03" y2="1741.55" stroke="#231f20" stroke-width="1.4" />
<line x1="1694.7" y1="1689.83" x2="1694.7" y2="1727.31" stroke="#231f20" stroke-width="1.4" />
<line x1="1688.8" y1="1689.83" x2="1700.6" y2="1689.83" stroke="#231f20" stroke-width="1.4" />
<line x1="1688.8" y1="1727.31" x2="1700.6" y2="1727.31" stroke="#231f20" stroke-width="1.4" />
<polyline points="1399.74,1734.05 1497.94,1734.05 1596.13,1730.3 1694.7,1708.57" stroke="#231f20" stroke-width="2.8" fill="none" />
<circle cx="1399.74" cy="1734.05" r="5.6" stroke="#231f20" stroke-width="2.7" fill="#231f20"/>
<circle cx="1497.94" cy="1734.05" r="5.6" stroke="#231f20" stroke-width="2.7" fill="#231f20"/>
<circle cx="1596.13" cy="1730.3" r="5.6" stroke="#231f20" stroke-width="2.7" fill="#231f20"/>
<circle cx="1694.7" cy="1708.57" r="5.6" stroke="#231f20" stroke-width="2.7" fill="#231f20"/>
<line x1="1497.94" y1="1674.84" x2="1497.94" y2="1723.56" stroke="#231f20" stroke-width="1.4" />
<line x1="1492.04" y1="1674.84" x2="1503.84" y2="1674.84" stroke="#231f20" stroke-width="1.4" />
<line x1="1492.04" y1="1723.56" x2="1503.84" y2="1723.56" stroke="#231f20" stroke-width="1.4" />
<line x1="1596.13" y1="1637.36" x2="1596.13" y2="1687.95" stroke="#231f20" stroke-width="1.4" />
<line x1="1590.23" y1="1637.36" x2="1602.03" y2="1637.36" stroke="#231f20" stroke-width="1.4" />
<line x1="1590.23" y1="1687.95" x2="1602.03" y2="1687.95" stroke="#231f20" stroke-width="1.4" />
<line x1="1694.7" y1="1686.08" x2="1694.7" y2="1719.81" stroke="#231f20" stroke-width="1.4" />
<line x1="1688.8" y1="1686.08" x2="1700.6" y2="1686.08" stroke="#231f20" stroke-width="1.4" />
<line x1="1688.8" y1="1719.81" x2="1700.6" y2="1719.81" stroke="#231f20" stroke-width="1.4" />
<polyline points="1399.74,1734.05 1497.94,1699.57 1596.13,1662.84 1694.7,1702.2" stroke="#231f20" stroke-width="2.8" fill="none" />
<rect x="1394.04" y="1728.35" width="11.4" height="11.4" rx="1" stroke="#231f20" stroke-width="2.7" fill="#fff"/>
<rect x="1492.24" y="1693.87" width="11.4" height="11.4" rx="1" stroke="#231f20" stroke-width="2.7" fill="#fff"/>
<rect x="1590.43" y="1657.14" width="11.4" height="11.4" rx="1" stroke="#231f20" stroke-width="2.7" fill="#fff"/>
<rect x="1689" y="1696.5" width="11.4" height="11.4" rx="1" stroke="#231f20" stroke-width="2.7" fill="#fff"/>
<line x1="1497.94" y1="1650.48" x2="1497.94" y2="1668.09" stroke="#231f20" stroke-width="1.4" />
<line x1="1492.04" y1="1650.48" x2="1503.84" y2="1650.48" stroke="#231f20" stroke-width="1.4" />
<line x1="1492.04" y1="1668.09" x2="1503.84" y2="1668.09" stroke="#231f20" stroke-width="1.4" />
<line x1="1596.13" y1="1667.34" x2="1596.13" y2="1701.07" stroke="#231f20" stroke-width="1.4" />
<line x1="1590.23" y1="1667.34" x2="1602.03" y2="1667.34" stroke="#231f20" stroke-width="1.4" />
<line x1="1590.23" y1="1701.07" x2="1602.03" y2="1701.07" stroke="#231f20" stroke-width="1.4" />
<line x1="1694.7" y1="1643.35" x2="1694.7" y2="1680.46" stroke="#231f20" stroke-width="1.4" />
<line x1="1688.8" y1="1643.35" x2="1700.6" y2="1643.35" stroke="#231f20" stroke-width="1.4" />
<line x1="1688.8" y1="1680.46" x2="1700.6" y2="1680.46" stroke="#231f20" stroke-width="1.4" />
<polyline points="1399.74,1734.05 1497.94,1659.1 1596.13,1684.21 1694.7,1661.72" stroke="#231f20" stroke-width="2.8" fill="none" />
<rect x="1394.04" y="1728.35" width="11.4" height="11.4" rx="1" stroke="#231f20" stroke-width="2.7" fill="#231f20"/>
<rect x="1492.24" y="1653.4" width="11.4" height="11.4" rx="1" stroke="#231f20" stroke-width="2.7" fill="#231f20"/>
<rect x="1590.43" y="1678.51" width="11.4" height="11.4" rx="1" stroke="#231f20" stroke-width="2.7" fill="#231f20"/>
<rect x="1689" y="1656.02" width="11.4" height="11.4" rx="1" stroke="#231f20" stroke-width="2.7" fill="#231f20"/>
<line x1="1497.94" y1="1603.63" x2="1497.94" y2="1639.23" stroke="#231f20" stroke-width="1.4" />
<line x1="1492.04" y1="1603.63" x2="1503.84" y2="1603.63" stroke="#231f20" stroke-width="1.4" />
<line x1="1492.04" y1="1639.23" x2="1503.84" y2="1639.23" stroke="#231f20" stroke-width="1.4" />
<line x1="1596.13" y1="1536.92" x2="1596.13" y2="1593.13" stroke="#231f20" stroke-width="1.4" />
<line x1="1590.23" y1="1536.92" x2="1602.03" y2="1536.92" stroke="#231f20" stroke-width="1.4" />
<line x1="1590.23" y1="1593.13" x2="1602.03" y2="1593.13" stroke="#231f20" stroke-width="1.4" />
<line x1="1694.7" y1="1565.4" x2="1694.7" y2="1597.26" stroke="#231f20" stroke-width="1.4" />
<line x1="1688.8" y1="1565.4" x2="1700.6" y2="1565.4" stroke="#231f20" stroke-width="1.4" />
<line x1="1688.8" y1="1597.26" x2="1700.6" y2="1597.26" stroke="#231f20" stroke-width="1.4" />
<polyline points="1399.74,1734.05 1497.94,1621.62 1596.13,1564.65 1694.7,1581.89" stroke="#231f20" stroke-width="2.8" fill="none" />
<rect x="1394.04" y="1728.35" width="11.4" height="11.4" rx="1" stroke="#231f20" stroke-width="2.7" fill="#a7a9ac"/>
<rect x="1492.24" y="1615.92" width="11.4" height="11.4" rx="1" stroke="#231f20" stroke-width="2.7" fill="#a7a9ac"/>
<rect x="1590.43" y="1558.95" width="11.4" height="11.4" rx="1" stroke="#231f20" stroke-width="2.7" fill="#a7a9ac"/>
<rect x="1689" y="1576.19" width="11.4" height="11.4" rx="1" stroke="#231f20" stroke-width="2.7" fill="#a7a9ac"/>
<rect x="1394.04" y="1728.35" width="11.4" height="11.4" rx="1" stroke="#231f20" stroke-width="2.7" fill="#231f20"/>
<text x="1496.06" y="1600.31" font-size="23" text-anchor="middle" font-weight="bold" style="font-family:'Liberation Sans',Arial,sans-serif;letter-spacing:1.5px">*</text>
<text x="1596.13" y="1532.84" font-size="23" text-anchor="middle" font-weight="bold" style="font-family:'Liberation Sans',Arial,sans-serif;letter-spacing:1.5px">*</text>
<text x="1694.7" y="1562.83" font-size="23" text-anchor="middle" font-weight="bold" style="font-family:'Liberation Sans',Arial,sans-serif;letter-spacing:1.5px">***</text>
<text x="1399.88" y="1822.78" font-size="27.3" text-anchor="middle">0</text>
<text x="1496.88" y="1822.78" font-size="27.3" text-anchor="middle">24</text>
<text x="1594.55" y="1822.78" font-size="27.3" text-anchor="middle">48</text>
<text x="1692.55" y="1822.78" font-size="27.3" text-anchor="middle">72</text>
<line x1="1357.07" y1="1828.47" x2="1731.57" y2="1828.47" stroke="#231f20" stroke-width="1.5" />
<polygon points="1730.57,1819.97 1745.07,1828.47 1730.57,1836.97" stroke="none" stroke-width="0" fill="#231f20" />
<text x="1351.38" y="1852.88" font-size="27.3" textLength="393.02" lengthAdjust="spacingAndGlyphs">Hours after SWAg/PBS injection</text>
<polyline points="1349.71,1858.57 1349.71,1868.6 1749.08,1868.6 1749.08,1858.57" stroke="#808285" stroke-width="3" fill="none" />
<line x1="1353.72" y1="1870.94" x2="1699.91" y2="1989.69" stroke="#6d6e71" stroke-width="1.3" stroke-dasharray="9 6"/>
<line x1="1740.72" y1="1860.24" x2="1808.62" y2="1984" stroke="#6d6e71" stroke-width="1.3" stroke-dasharray="9 6"/>
<text x="1358.74" y="1907.74" font-size="27.3" text-anchor="middle">Day -29</text>
<text x="1358.74" y="1938.18" font-size="27.3" text-anchor="middle">Hp</text>
<text x="1512.6" y="1907.74" font-size="27.3" text-anchor="middle">Day -17</text>
<text x="1512.6" y="1938.18" font-size="27.3" text-anchor="middle">Dw</text>
<polygon points="1341.35,1944.53 1361.08,1944.53 1351.05,1980.65" stroke="none" stroke-width="0" fill="#231f20" />
<polygon points="1500.9,1944.53 1520.96,1944.53 1510.93,1981.32" stroke="none" stroke-width="0" fill="#231f20" />
<polyline points="1699.91,1990.69 1699.91,1999.05 1810.29,1999.05 1810.29,1990.69" stroke="#808285" stroke-width="3" fill="none" />
<line x1="1332.99" y1="1988.01" x2="1799.99" y2="1988.01" stroke="#231f20" stroke-width="3.3" />
<polygon points="1820.99,1988.01 1789.99,1975.51 1797.99,1988.01 1789.99,2000.51" stroke="none" stroke-width="0" fill="#231f20" />
<line x1="1332.99" y1="1997.38" x2="1684.86" y2="1997.38" stroke="#231f20" stroke-width="1.5" />
<polygon points="1322.62,2030.16 1343.02,2030.16 1332.99,1996.71" stroke="none" stroke-width="0" fill="#231f20" />
<polygon points="1514.28,2033.5 1535.01,2033.5 1524.31,1997.38" stroke="none" stroke-width="0" fill="#231f20" />
<polygon points="1683.19,2033.5 1703.93,2033.5 1693.22,1996.71" stroke="none" stroke-width="0" fill="#231f20" />
<text x="1795.24" y="2032.5" font-size="27.3" text-anchor="middle">End</text>
<text x="1429.99" y="2058.59" font-size="27.3" text-anchor="middle">Day -28 to -14:</text>
<text x="1429.99" y="2089.36" font-size="27.3" text-anchor="middle">Daily FTY720/PBS i.p.</text>
<text x="1691.55" y="2055.91" font-size="27.3" text-anchor="middle">Day 0:</text>
<text x="1691.55" y="2086.02" font-size="27.3" text-anchor="middle">SWAg/PBS</text>
<text x="1691.55" y="2116.12" font-size="27.3" text-anchor="middle">i.d in footpad</text>
</svg>
</body></html>
